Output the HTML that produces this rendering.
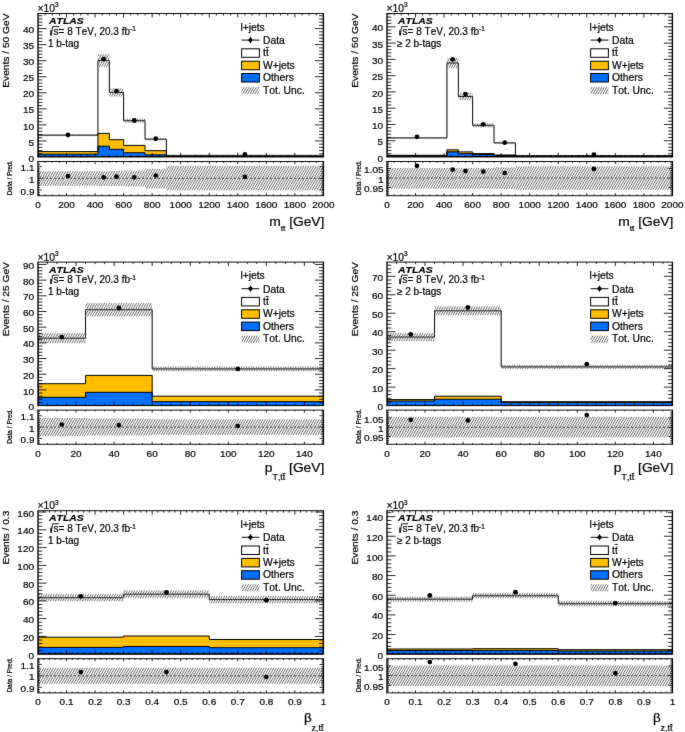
<!DOCTYPE html>
<html><head><meta charset="utf-8"><style>
html,body{margin:0;padding:0;background:#fff;}
svg{display:block;}
text{font-family:"Liberation Sans", sans-serif;fill:#000;stroke:#000;stroke-width:0.22px;font-kerning:none;font-feature-settings:"kern" 0;}
</style></head><body>
<svg width="685" height="732" viewBox="0 0 685 732">
<defs><filter id="soft" x="0" y="0" width="685" height="732" filterUnits="userSpaceOnUse" color-interpolation-filters="sRGB"><feConvolveMatrix order="3" kernelMatrix="0.00524 0.06192 0.00524 0.06192 0.73137 0.06192 0.00524 0.06192 0.00524" edgeMode="none"/></filter>
<pattern id="hatch" patternUnits="userSpaceOnUse" width="2.45" height="4.2" patternTransform="skewX(-30)"><rect x="0" y="0" width="0.95" height="4.2" fill="#666666"/></pattern>
<clipPath id="cm00"><rect x="38" y="13.5" width="285.4" height="143.5"/></clipPath>
<clipPath id="cr00"><rect x="38" y="161.5" width="285.4" height="34.2"/></clipPath>
<clipPath id="cm01"><rect x="387" y="13.5" width="285.4" height="143.5"/></clipPath>
<clipPath id="cr01"><rect x="387" y="161.5" width="285.4" height="34.2"/></clipPath>
<clipPath id="cm10"><rect x="38" y="262.1" width="285.4" height="143.5"/></clipPath>
<clipPath id="cr10"><rect x="38" y="410.1" width="285.4" height="34.2"/></clipPath>
<clipPath id="cm11"><rect x="387" y="262.1" width="285.4" height="143.5"/></clipPath>
<clipPath id="cr11"><rect x="387" y="410.1" width="285.4" height="34.2"/></clipPath>
<clipPath id="cm20"><rect x="38" y="510.7" width="285.4" height="143.5"/></clipPath>
<clipPath id="cr20"><rect x="38" y="658.7" width="285.4" height="34.2"/></clipPath>
<clipPath id="cm21"><rect x="387" y="510.7" width="285.4" height="143.5"/></clipPath>
<clipPath id="cr21"><rect x="387" y="658.7" width="285.4" height="34.2"/></clipPath></defs>
<rect x="0" y="0" width="685" height="732" fill="#fff"/>
<g filter="url(#soft)">
<g clip-path="url(#cm00)">
<path d="M38 157 L38 135.2 L38 135.2 L97.93 135.2 L97.93 60.5 L109.35 60.5 L109.35 92.5 L123.62 92.5 L123.62 120.7 L145.02 120.7 L145.02 139.2 L166.43 139.2 L166.43 155.4 L323.4 155.4 L323.4 157 Z" fill="#fff" stroke="none"/>
<path d="M38 157 L38 151.6 L38 151.6 L97.93 151.6 L97.93 133.4 L109.35 133.4 L109.35 139.7 L123.62 139.7 L123.62 145.4 L145.02 145.4 L145.02 150.7 L166.43 150.7 L166.43 156.2 L323.4 156.2 L323.4 157 Z" fill="#ffbf00" stroke="none"/>
<path d="M38 157 L38 154.2 L38 154.2 L97.93 154.2 L97.93 146.2 L109.35 146.2 L109.35 149.3 L123.62 149.3 L123.62 152.8 L145.02 152.8 L145.02 154.8 L166.43 154.8 L166.43 156.5 L323.4 156.5 L323.4 157 Z" fill="#006eff" stroke="none"/>
<path d="M38 157 L38 135.2 L38 135.2 L97.93 135.2 L97.93 60.5 L109.35 60.5 L109.35 92.5 L123.62 92.5 L123.62 120.7 L145.02 120.7 L145.02 139.2 L166.43 139.2 L166.43 155.4 L323.4 155.4 L323.4 157 Z" fill="none" stroke="#000" stroke-width="1"/>
<path d="M38 157 L38 151.6 L38 151.6 L97.93 151.6 L97.93 133.4 L109.35 133.4 L109.35 139.7 L123.62 139.7 L123.62 145.4 L145.02 145.4 L145.02 150.7 L166.43 150.7 L166.43 156.2 L323.4 156.2 L323.4 157 Z" fill="none" stroke="#000" stroke-width="1"/>
<path d="M38 157 L38 154.2 L38 154.2 L97.93 154.2 L97.93 146.2 L109.35 146.2 L109.35 149.3 L123.62 149.3 L123.62 152.8 L145.02 152.8 L145.02 154.8 L166.43 154.8 L166.43 156.5 L323.4 156.5 L323.4 157 Z" fill="none" stroke="#000" stroke-width="1"/>
<rect x="38" y="134.2" width="59.93" height="2" fill="url(#hatch)" stroke="none" stroke-width="0" />
<rect x="97.93" y="54.2" width="11.42" height="12.6" fill="url(#hatch)" stroke="none" stroke-width="0" />
<rect x="109.35" y="88.4" width="14.27" height="8.2" fill="url(#hatch)" stroke="none" stroke-width="0" />
<rect x="123.62" y="118.7" width="21.4" height="4" fill="url(#hatch)" stroke="none" stroke-width="0" />
<rect x="145.02" y="138" width="21.41" height="2.4" fill="url(#hatch)" stroke="none" stroke-width="0" />
<rect x="166.43" y="154.8" width="156.97" height="1.2" fill="url(#hatch)" stroke="none" stroke-width="0" />
<circle cx="67.97" cy="134.9" r="2.4" fill="#000"/>
<circle cx="103.64" cy="59.1" r="2.4" fill="#000"/>
<circle cx="116.48" cy="91.1" r="2.4" fill="#000"/>
<circle cx="134.32" cy="120.5" r="2.4" fill="#000"/>
<circle cx="155.73" cy="138.7" r="2.4" fill="#000"/>
<circle cx="244.91" cy="154.5" r="2.4" fill="#000"/>
</g>
<g clip-path="url(#cr00)">
<rect x="38" y="171.2" width="59.93" height="14.6" fill="url(#hatch)" stroke="none" stroke-width="0" />
<rect x="97.93" y="171.2" width="11.42" height="14.6" fill="url(#hatch)" stroke="none" stroke-width="0" />
<rect x="109.35" y="171" width="14.27" height="15" fill="url(#hatch)" stroke="none" stroke-width="0" />
<rect x="123.62" y="170.6" width="21.4" height="15.8" fill="url(#hatch)" stroke="none" stroke-width="0" />
<rect x="145.02" y="168.8" width="21.41" height="19.7" fill="url(#hatch)" stroke="none" stroke-width="0" />
<rect x="166.43" y="166" width="156.97" height="24.3" fill="url(#hatch)" stroke="none" stroke-width="0" />
<line x1="38" y1="178.3" x2="323.4" y2="178.3" stroke="#222" stroke-width="0.8" stroke-dasharray="2 2"/>
<circle cx="67.97" cy="176" r="2.35" fill="#000"/>
<circle cx="103.64" cy="177.3" r="2.35" fill="#000"/>
<circle cx="116.48" cy="176.6" r="2.35" fill="#000"/>
<circle cx="134.32" cy="177.3" r="2.35" fill="#000"/>
<circle cx="155.73" cy="175.5" r="2.35" fill="#000"/>
<circle cx="244.91" cy="176.8" r="2.35" fill="#000"/>
</g>
<line x1="37.33" y1="13.5" x2="324.07" y2="13.5" stroke="#000" stroke-width="0.95" />
<line x1="37.33" y1="157" x2="324.07" y2="157" stroke="#000" stroke-width="0.95" />
<line x1="38" y1="13.5" x2="38" y2="157" stroke="#000" stroke-width="1.35" />
<line x1="323.4" y1="13.5" x2="323.4" y2="157" stroke="#000" stroke-width="1.35" />
<line x1="37.33" y1="161.5" x2="324.07" y2="161.5" stroke="#000" stroke-width="0.95" />
<line x1="37.33" y1="195.7" x2="324.07" y2="195.7" stroke="#000" stroke-width="0.95" />
<line x1="38" y1="161.5" x2="38" y2="195.7" stroke="#000" stroke-width="1.35" />
<line x1="323.4" y1="161.5" x2="323.4" y2="195.7" stroke="#000" stroke-width="1.35" />
<line x1="45.13" y1="13.5" x2="45.13" y2="15.5" stroke="#000" stroke-width="0.85" />
<line x1="45.13" y1="157" x2="45.13" y2="155" stroke="#000" stroke-width="0.85" />
<line x1="45.13" y1="161.5" x2="45.13" y2="162.8" stroke="#000" stroke-width="0.85" />
<line x1="45.13" y1="195.7" x2="45.13" y2="194.4" stroke="#000" stroke-width="0.85" />
<line x1="52.27" y1="13.5" x2="52.27" y2="15.5" stroke="#000" stroke-width="0.85" />
<line x1="52.27" y1="157" x2="52.27" y2="155" stroke="#000" stroke-width="0.85" />
<line x1="52.27" y1="161.5" x2="52.27" y2="162.8" stroke="#000" stroke-width="0.85" />
<line x1="52.27" y1="195.7" x2="52.27" y2="194.4" stroke="#000" stroke-width="0.85" />
<line x1="59.41" y1="13.5" x2="59.41" y2="15.5" stroke="#000" stroke-width="0.85" />
<line x1="59.41" y1="157" x2="59.41" y2="155" stroke="#000" stroke-width="0.85" />
<line x1="59.41" y1="161.5" x2="59.41" y2="162.8" stroke="#000" stroke-width="0.85" />
<line x1="59.41" y1="195.7" x2="59.41" y2="194.4" stroke="#000" stroke-width="0.85" />
<line x1="66.54" y1="13.5" x2="66.54" y2="17.5" stroke="#000" stroke-width="0.85" />
<line x1="66.54" y1="157" x2="66.54" y2="153" stroke="#000" stroke-width="0.85" />
<line x1="66.54" y1="161.5" x2="66.54" y2="164.1" stroke="#000" stroke-width="0.85" />
<line x1="66.54" y1="195.7" x2="66.54" y2="193.1" stroke="#000" stroke-width="0.85" />
<line x1="73.67" y1="13.5" x2="73.67" y2="15.5" stroke="#000" stroke-width="0.85" />
<line x1="73.67" y1="157" x2="73.67" y2="155" stroke="#000" stroke-width="0.85" />
<line x1="73.67" y1="161.5" x2="73.67" y2="162.8" stroke="#000" stroke-width="0.85" />
<line x1="73.67" y1="195.7" x2="73.67" y2="194.4" stroke="#000" stroke-width="0.85" />
<line x1="80.81" y1="13.5" x2="80.81" y2="15.5" stroke="#000" stroke-width="0.85" />
<line x1="80.81" y1="157" x2="80.81" y2="155" stroke="#000" stroke-width="0.85" />
<line x1="80.81" y1="161.5" x2="80.81" y2="162.8" stroke="#000" stroke-width="0.85" />
<line x1="80.81" y1="195.7" x2="80.81" y2="194.4" stroke="#000" stroke-width="0.85" />
<line x1="87.94" y1="13.5" x2="87.94" y2="15.5" stroke="#000" stroke-width="0.85" />
<line x1="87.94" y1="157" x2="87.94" y2="155" stroke="#000" stroke-width="0.85" />
<line x1="87.94" y1="161.5" x2="87.94" y2="162.8" stroke="#000" stroke-width="0.85" />
<line x1="87.94" y1="195.7" x2="87.94" y2="194.4" stroke="#000" stroke-width="0.85" />
<line x1="95.08" y1="13.5" x2="95.08" y2="17.5" stroke="#000" stroke-width="0.85" />
<line x1="95.08" y1="157" x2="95.08" y2="153" stroke="#000" stroke-width="0.85" />
<line x1="95.08" y1="161.5" x2="95.08" y2="164.1" stroke="#000" stroke-width="0.85" />
<line x1="95.08" y1="195.7" x2="95.08" y2="193.1" stroke="#000" stroke-width="0.85" />
<line x1="102.22" y1="13.5" x2="102.22" y2="15.5" stroke="#000" stroke-width="0.85" />
<line x1="102.22" y1="157" x2="102.22" y2="155" stroke="#000" stroke-width="0.85" />
<line x1="102.22" y1="161.5" x2="102.22" y2="162.8" stroke="#000" stroke-width="0.85" />
<line x1="102.22" y1="195.7" x2="102.22" y2="194.4" stroke="#000" stroke-width="0.85" />
<line x1="109.35" y1="13.5" x2="109.35" y2="15.5" stroke="#000" stroke-width="0.85" />
<line x1="109.35" y1="157" x2="109.35" y2="155" stroke="#000" stroke-width="0.85" />
<line x1="109.35" y1="161.5" x2="109.35" y2="162.8" stroke="#000" stroke-width="0.85" />
<line x1="109.35" y1="195.7" x2="109.35" y2="194.4" stroke="#000" stroke-width="0.85" />
<line x1="116.48" y1="13.5" x2="116.48" y2="15.5" stroke="#000" stroke-width="0.85" />
<line x1="116.48" y1="157" x2="116.48" y2="155" stroke="#000" stroke-width="0.85" />
<line x1="116.48" y1="161.5" x2="116.48" y2="162.8" stroke="#000" stroke-width="0.85" />
<line x1="116.48" y1="195.7" x2="116.48" y2="194.4" stroke="#000" stroke-width="0.85" />
<line x1="123.62" y1="13.5" x2="123.62" y2="17.5" stroke="#000" stroke-width="0.85" />
<line x1="123.62" y1="157" x2="123.62" y2="153" stroke="#000" stroke-width="0.85" />
<line x1="123.62" y1="161.5" x2="123.62" y2="164.1" stroke="#000" stroke-width="0.85" />
<line x1="123.62" y1="195.7" x2="123.62" y2="193.1" stroke="#000" stroke-width="0.85" />
<line x1="130.75" y1="13.5" x2="130.75" y2="15.5" stroke="#000" stroke-width="0.85" />
<line x1="130.75" y1="157" x2="130.75" y2="155" stroke="#000" stroke-width="0.85" />
<line x1="130.75" y1="161.5" x2="130.75" y2="162.8" stroke="#000" stroke-width="0.85" />
<line x1="130.75" y1="195.7" x2="130.75" y2="194.4" stroke="#000" stroke-width="0.85" />
<line x1="137.89" y1="13.5" x2="137.89" y2="15.5" stroke="#000" stroke-width="0.85" />
<line x1="137.89" y1="157" x2="137.89" y2="155" stroke="#000" stroke-width="0.85" />
<line x1="137.89" y1="161.5" x2="137.89" y2="162.8" stroke="#000" stroke-width="0.85" />
<line x1="137.89" y1="195.7" x2="137.89" y2="194.4" stroke="#000" stroke-width="0.85" />
<line x1="145.02" y1="13.5" x2="145.02" y2="15.5" stroke="#000" stroke-width="0.85" />
<line x1="145.02" y1="157" x2="145.02" y2="155" stroke="#000" stroke-width="0.85" />
<line x1="145.02" y1="161.5" x2="145.02" y2="162.8" stroke="#000" stroke-width="0.85" />
<line x1="145.02" y1="195.7" x2="145.02" y2="194.4" stroke="#000" stroke-width="0.85" />
<line x1="152.16" y1="13.5" x2="152.16" y2="17.5" stroke="#000" stroke-width="0.85" />
<line x1="152.16" y1="157" x2="152.16" y2="153" stroke="#000" stroke-width="0.85" />
<line x1="152.16" y1="161.5" x2="152.16" y2="164.1" stroke="#000" stroke-width="0.85" />
<line x1="152.16" y1="195.7" x2="152.16" y2="193.1" stroke="#000" stroke-width="0.85" />
<line x1="159.29" y1="13.5" x2="159.29" y2="15.5" stroke="#000" stroke-width="0.85" />
<line x1="159.29" y1="157" x2="159.29" y2="155" stroke="#000" stroke-width="0.85" />
<line x1="159.29" y1="161.5" x2="159.29" y2="162.8" stroke="#000" stroke-width="0.85" />
<line x1="159.29" y1="195.7" x2="159.29" y2="194.4" stroke="#000" stroke-width="0.85" />
<line x1="166.43" y1="13.5" x2="166.43" y2="15.5" stroke="#000" stroke-width="0.85" />
<line x1="166.43" y1="157" x2="166.43" y2="155" stroke="#000" stroke-width="0.85" />
<line x1="166.43" y1="161.5" x2="166.43" y2="162.8" stroke="#000" stroke-width="0.85" />
<line x1="166.43" y1="195.7" x2="166.43" y2="194.4" stroke="#000" stroke-width="0.85" />
<line x1="173.56" y1="13.5" x2="173.56" y2="15.5" stroke="#000" stroke-width="0.85" />
<line x1="173.56" y1="157" x2="173.56" y2="155" stroke="#000" stroke-width="0.85" />
<line x1="173.56" y1="161.5" x2="173.56" y2="162.8" stroke="#000" stroke-width="0.85" />
<line x1="173.56" y1="195.7" x2="173.56" y2="194.4" stroke="#000" stroke-width="0.85" />
<line x1="180.7" y1="13.5" x2="180.7" y2="17.5" stroke="#000" stroke-width="0.85" />
<line x1="180.7" y1="157" x2="180.7" y2="153" stroke="#000" stroke-width="0.85" />
<line x1="180.7" y1="161.5" x2="180.7" y2="164.1" stroke="#000" stroke-width="0.85" />
<line x1="180.7" y1="195.7" x2="180.7" y2="193.1" stroke="#000" stroke-width="0.85" />
<line x1="187.84" y1="13.5" x2="187.84" y2="15.5" stroke="#000" stroke-width="0.85" />
<line x1="187.84" y1="157" x2="187.84" y2="155" stroke="#000" stroke-width="0.85" />
<line x1="187.84" y1="161.5" x2="187.84" y2="162.8" stroke="#000" stroke-width="0.85" />
<line x1="187.84" y1="195.7" x2="187.84" y2="194.4" stroke="#000" stroke-width="0.85" />
<line x1="194.97" y1="13.5" x2="194.97" y2="15.5" stroke="#000" stroke-width="0.85" />
<line x1="194.97" y1="157" x2="194.97" y2="155" stroke="#000" stroke-width="0.85" />
<line x1="194.97" y1="161.5" x2="194.97" y2="162.8" stroke="#000" stroke-width="0.85" />
<line x1="194.97" y1="195.7" x2="194.97" y2="194.4" stroke="#000" stroke-width="0.85" />
<line x1="202.1" y1="13.5" x2="202.1" y2="15.5" stroke="#000" stroke-width="0.85" />
<line x1="202.1" y1="157" x2="202.1" y2="155" stroke="#000" stroke-width="0.85" />
<line x1="202.1" y1="161.5" x2="202.1" y2="162.8" stroke="#000" stroke-width="0.85" />
<line x1="202.1" y1="195.7" x2="202.1" y2="194.4" stroke="#000" stroke-width="0.85" />
<line x1="209.24" y1="13.5" x2="209.24" y2="17.5" stroke="#000" stroke-width="0.85" />
<line x1="209.24" y1="157" x2="209.24" y2="153" stroke="#000" stroke-width="0.85" />
<line x1="209.24" y1="161.5" x2="209.24" y2="164.1" stroke="#000" stroke-width="0.85" />
<line x1="209.24" y1="195.7" x2="209.24" y2="193.1" stroke="#000" stroke-width="0.85" />
<line x1="216.38" y1="13.5" x2="216.38" y2="15.5" stroke="#000" stroke-width="0.85" />
<line x1="216.38" y1="157" x2="216.38" y2="155" stroke="#000" stroke-width="0.85" />
<line x1="216.38" y1="161.5" x2="216.38" y2="162.8" stroke="#000" stroke-width="0.85" />
<line x1="216.38" y1="195.7" x2="216.38" y2="194.4" stroke="#000" stroke-width="0.85" />
<line x1="223.51" y1="13.5" x2="223.51" y2="15.5" stroke="#000" stroke-width="0.85" />
<line x1="223.51" y1="157" x2="223.51" y2="155" stroke="#000" stroke-width="0.85" />
<line x1="223.51" y1="161.5" x2="223.51" y2="162.8" stroke="#000" stroke-width="0.85" />
<line x1="223.51" y1="195.7" x2="223.51" y2="194.4" stroke="#000" stroke-width="0.85" />
<line x1="230.65" y1="13.5" x2="230.65" y2="15.5" stroke="#000" stroke-width="0.85" />
<line x1="230.65" y1="157" x2="230.65" y2="155" stroke="#000" stroke-width="0.85" />
<line x1="230.65" y1="161.5" x2="230.65" y2="162.8" stroke="#000" stroke-width="0.85" />
<line x1="230.65" y1="195.7" x2="230.65" y2="194.4" stroke="#000" stroke-width="0.85" />
<line x1="237.78" y1="13.5" x2="237.78" y2="17.5" stroke="#000" stroke-width="0.85" />
<line x1="237.78" y1="157" x2="237.78" y2="153" stroke="#000" stroke-width="0.85" />
<line x1="237.78" y1="161.5" x2="237.78" y2="164.1" stroke="#000" stroke-width="0.85" />
<line x1="237.78" y1="195.7" x2="237.78" y2="193.1" stroke="#000" stroke-width="0.85" />
<line x1="244.91" y1="13.5" x2="244.91" y2="15.5" stroke="#000" stroke-width="0.85" />
<line x1="244.91" y1="157" x2="244.91" y2="155" stroke="#000" stroke-width="0.85" />
<line x1="244.91" y1="161.5" x2="244.91" y2="162.8" stroke="#000" stroke-width="0.85" />
<line x1="244.91" y1="195.7" x2="244.91" y2="194.4" stroke="#000" stroke-width="0.85" />
<line x1="252.05" y1="13.5" x2="252.05" y2="15.5" stroke="#000" stroke-width="0.85" />
<line x1="252.05" y1="157" x2="252.05" y2="155" stroke="#000" stroke-width="0.85" />
<line x1="252.05" y1="161.5" x2="252.05" y2="162.8" stroke="#000" stroke-width="0.85" />
<line x1="252.05" y1="195.7" x2="252.05" y2="194.4" stroke="#000" stroke-width="0.85" />
<line x1="259.19" y1="13.5" x2="259.19" y2="15.5" stroke="#000" stroke-width="0.85" />
<line x1="259.19" y1="157" x2="259.19" y2="155" stroke="#000" stroke-width="0.85" />
<line x1="259.19" y1="161.5" x2="259.19" y2="162.8" stroke="#000" stroke-width="0.85" />
<line x1="259.19" y1="195.7" x2="259.19" y2="194.4" stroke="#000" stroke-width="0.85" />
<line x1="266.32" y1="13.5" x2="266.32" y2="17.5" stroke="#000" stroke-width="0.85" />
<line x1="266.32" y1="157" x2="266.32" y2="153" stroke="#000" stroke-width="0.85" />
<line x1="266.32" y1="161.5" x2="266.32" y2="164.1" stroke="#000" stroke-width="0.85" />
<line x1="266.32" y1="195.7" x2="266.32" y2="193.1" stroke="#000" stroke-width="0.85" />
<line x1="273.45" y1="13.5" x2="273.45" y2="15.5" stroke="#000" stroke-width="0.85" />
<line x1="273.45" y1="157" x2="273.45" y2="155" stroke="#000" stroke-width="0.85" />
<line x1="273.45" y1="161.5" x2="273.45" y2="162.8" stroke="#000" stroke-width="0.85" />
<line x1="273.45" y1="195.7" x2="273.45" y2="194.4" stroke="#000" stroke-width="0.85" />
<line x1="280.59" y1="13.5" x2="280.59" y2="15.5" stroke="#000" stroke-width="0.85" />
<line x1="280.59" y1="157" x2="280.59" y2="155" stroke="#000" stroke-width="0.85" />
<line x1="280.59" y1="161.5" x2="280.59" y2="162.8" stroke="#000" stroke-width="0.85" />
<line x1="280.59" y1="195.7" x2="280.59" y2="194.4" stroke="#000" stroke-width="0.85" />
<line x1="287.72" y1="13.5" x2="287.72" y2="15.5" stroke="#000" stroke-width="0.85" />
<line x1="287.72" y1="157" x2="287.72" y2="155" stroke="#000" stroke-width="0.85" />
<line x1="287.72" y1="161.5" x2="287.72" y2="162.8" stroke="#000" stroke-width="0.85" />
<line x1="287.72" y1="195.7" x2="287.72" y2="194.4" stroke="#000" stroke-width="0.85" />
<line x1="294.86" y1="13.5" x2="294.86" y2="17.5" stroke="#000" stroke-width="0.85" />
<line x1="294.86" y1="157" x2="294.86" y2="153" stroke="#000" stroke-width="0.85" />
<line x1="294.86" y1="161.5" x2="294.86" y2="164.1" stroke="#000" stroke-width="0.85" />
<line x1="294.86" y1="195.7" x2="294.86" y2="193.1" stroke="#000" stroke-width="0.85" />
<line x1="302" y1="13.5" x2="302" y2="15.5" stroke="#000" stroke-width="0.85" />
<line x1="302" y1="157" x2="302" y2="155" stroke="#000" stroke-width="0.85" />
<line x1="302" y1="161.5" x2="302" y2="162.8" stroke="#000" stroke-width="0.85" />
<line x1="302" y1="195.7" x2="302" y2="194.4" stroke="#000" stroke-width="0.85" />
<line x1="309.13" y1="13.5" x2="309.13" y2="15.5" stroke="#000" stroke-width="0.85" />
<line x1="309.13" y1="157" x2="309.13" y2="155" stroke="#000" stroke-width="0.85" />
<line x1="309.13" y1="161.5" x2="309.13" y2="162.8" stroke="#000" stroke-width="0.85" />
<line x1="309.13" y1="195.7" x2="309.13" y2="194.4" stroke="#000" stroke-width="0.85" />
<line x1="316.26" y1="13.5" x2="316.26" y2="15.5" stroke="#000" stroke-width="0.85" />
<line x1="316.26" y1="157" x2="316.26" y2="155" stroke="#000" stroke-width="0.85" />
<line x1="316.26" y1="161.5" x2="316.26" y2="162.8" stroke="#000" stroke-width="0.85" />
<line x1="316.26" y1="195.7" x2="316.26" y2="194.4" stroke="#000" stroke-width="0.85" />
<text transform="translate(38 208.1) scale(1 0.94)" font-size="10" text-anchor="middle" >0</text>
<text transform="translate(66.54 208.1) scale(1 0.94)" font-size="10" text-anchor="middle" >200</text>
<text transform="translate(95.08 208.1) scale(1 0.94)" font-size="10" text-anchor="middle" >400</text>
<text transform="translate(123.62 208.1) scale(1 0.94)" font-size="10" text-anchor="middle" >600</text>
<text transform="translate(152.16 208.1) scale(1 0.94)" font-size="10" text-anchor="middle" >800</text>
<text transform="translate(180.7 208.1) scale(1 0.94)" font-size="10" text-anchor="middle" >1000</text>
<text transform="translate(209.24 208.1) scale(1 0.94)" font-size="10" text-anchor="middle" >1200</text>
<text transform="translate(237.78 208.1) scale(1 0.94)" font-size="10" text-anchor="middle" >1400</text>
<text transform="translate(266.32 208.1) scale(1 0.94)" font-size="10" text-anchor="middle" >1600</text>
<text transform="translate(294.86 208.1) scale(1 0.94)" font-size="10" text-anchor="middle" >1800</text>
<text transform="translate(323.4 208.1) scale(1 0.94)" font-size="10" text-anchor="middle" >2000</text>
<line x1="38" y1="153.79" x2="42.3" y2="153.79" stroke="#000" stroke-width="0.85" />
<line x1="323.4" y1="153.79" x2="319.1" y2="153.79" stroke="#000" stroke-width="0.85" />
<line x1="38" y1="150.58" x2="42.3" y2="150.58" stroke="#000" stroke-width="0.85" />
<line x1="323.4" y1="150.58" x2="319.1" y2="150.58" stroke="#000" stroke-width="0.85" />
<line x1="38" y1="147.37" x2="42.3" y2="147.37" stroke="#000" stroke-width="0.85" />
<line x1="323.4" y1="147.37" x2="319.1" y2="147.37" stroke="#000" stroke-width="0.85" />
<line x1="38" y1="144.16" x2="42.3" y2="144.16" stroke="#000" stroke-width="0.85" />
<line x1="323.4" y1="144.16" x2="319.1" y2="144.16" stroke="#000" stroke-width="0.85" />
<line x1="38" y1="140.95" x2="46.5" y2="140.95" stroke="#000" stroke-width="0.85" />
<line x1="323.4" y1="140.95" x2="314.9" y2="140.95" stroke="#000" stroke-width="0.85" />
<line x1="38" y1="137.74" x2="42.3" y2="137.74" stroke="#000" stroke-width="0.85" />
<line x1="323.4" y1="137.74" x2="319.1" y2="137.74" stroke="#000" stroke-width="0.85" />
<line x1="38" y1="134.53" x2="42.3" y2="134.53" stroke="#000" stroke-width="0.85" />
<line x1="323.4" y1="134.53" x2="319.1" y2="134.53" stroke="#000" stroke-width="0.85" />
<line x1="38" y1="131.32" x2="42.3" y2="131.32" stroke="#000" stroke-width="0.85" />
<line x1="323.4" y1="131.32" x2="319.1" y2="131.32" stroke="#000" stroke-width="0.85" />
<line x1="38" y1="128.11" x2="42.3" y2="128.11" stroke="#000" stroke-width="0.85" />
<line x1="323.4" y1="128.11" x2="319.1" y2="128.11" stroke="#000" stroke-width="0.85" />
<line x1="38" y1="124.9" x2="46.5" y2="124.9" stroke="#000" stroke-width="0.85" />
<line x1="323.4" y1="124.9" x2="314.9" y2="124.9" stroke="#000" stroke-width="0.85" />
<line x1="38" y1="121.69" x2="42.3" y2="121.69" stroke="#000" stroke-width="0.85" />
<line x1="323.4" y1="121.69" x2="319.1" y2="121.69" stroke="#000" stroke-width="0.85" />
<line x1="38" y1="118.48" x2="42.3" y2="118.48" stroke="#000" stroke-width="0.85" />
<line x1="323.4" y1="118.48" x2="319.1" y2="118.48" stroke="#000" stroke-width="0.85" />
<line x1="38" y1="115.27" x2="42.3" y2="115.27" stroke="#000" stroke-width="0.85" />
<line x1="323.4" y1="115.27" x2="319.1" y2="115.27" stroke="#000" stroke-width="0.85" />
<line x1="38" y1="112.06" x2="42.3" y2="112.06" stroke="#000" stroke-width="0.85" />
<line x1="323.4" y1="112.06" x2="319.1" y2="112.06" stroke="#000" stroke-width="0.85" />
<line x1="38" y1="108.85" x2="46.5" y2="108.85" stroke="#000" stroke-width="0.85" />
<line x1="323.4" y1="108.85" x2="314.9" y2="108.85" stroke="#000" stroke-width="0.85" />
<line x1="38" y1="105.64" x2="42.3" y2="105.64" stroke="#000" stroke-width="0.85" />
<line x1="323.4" y1="105.64" x2="319.1" y2="105.64" stroke="#000" stroke-width="0.85" />
<line x1="38" y1="102.43" x2="42.3" y2="102.43" stroke="#000" stroke-width="0.85" />
<line x1="323.4" y1="102.43" x2="319.1" y2="102.43" stroke="#000" stroke-width="0.85" />
<line x1="38" y1="99.21" x2="42.3" y2="99.21" stroke="#000" stroke-width="0.85" />
<line x1="323.4" y1="99.21" x2="319.1" y2="99.21" stroke="#000" stroke-width="0.85" />
<line x1="38" y1="96" x2="42.3" y2="96" stroke="#000" stroke-width="0.85" />
<line x1="323.4" y1="96" x2="319.1" y2="96" stroke="#000" stroke-width="0.85" />
<line x1="38" y1="92.79" x2="46.5" y2="92.79" stroke="#000" stroke-width="0.85" />
<line x1="323.4" y1="92.79" x2="314.9" y2="92.79" stroke="#000" stroke-width="0.85" />
<line x1="38" y1="89.58" x2="42.3" y2="89.58" stroke="#000" stroke-width="0.85" />
<line x1="323.4" y1="89.58" x2="319.1" y2="89.58" stroke="#000" stroke-width="0.85" />
<line x1="38" y1="86.37" x2="42.3" y2="86.37" stroke="#000" stroke-width="0.85" />
<line x1="323.4" y1="86.37" x2="319.1" y2="86.37" stroke="#000" stroke-width="0.85" />
<line x1="38" y1="83.16" x2="42.3" y2="83.16" stroke="#000" stroke-width="0.85" />
<line x1="323.4" y1="83.16" x2="319.1" y2="83.16" stroke="#000" stroke-width="0.85" />
<line x1="38" y1="79.95" x2="42.3" y2="79.95" stroke="#000" stroke-width="0.85" />
<line x1="323.4" y1="79.95" x2="319.1" y2="79.95" stroke="#000" stroke-width="0.85" />
<line x1="38" y1="76.74" x2="46.5" y2="76.74" stroke="#000" stroke-width="0.85" />
<line x1="323.4" y1="76.74" x2="314.9" y2="76.74" stroke="#000" stroke-width="0.85" />
<line x1="38" y1="73.53" x2="42.3" y2="73.53" stroke="#000" stroke-width="0.85" />
<line x1="323.4" y1="73.53" x2="319.1" y2="73.53" stroke="#000" stroke-width="0.85" />
<line x1="38" y1="70.32" x2="42.3" y2="70.32" stroke="#000" stroke-width="0.85" />
<line x1="323.4" y1="70.32" x2="319.1" y2="70.32" stroke="#000" stroke-width="0.85" />
<line x1="38" y1="67.11" x2="42.3" y2="67.11" stroke="#000" stroke-width="0.85" />
<line x1="323.4" y1="67.11" x2="319.1" y2="67.11" stroke="#000" stroke-width="0.85" />
<line x1="38" y1="63.9" x2="42.3" y2="63.9" stroke="#000" stroke-width="0.85" />
<line x1="323.4" y1="63.9" x2="319.1" y2="63.9" stroke="#000" stroke-width="0.85" />
<line x1="38" y1="60.69" x2="46.5" y2="60.69" stroke="#000" stroke-width="0.85" />
<line x1="323.4" y1="60.69" x2="314.9" y2="60.69" stroke="#000" stroke-width="0.85" />
<line x1="38" y1="57.48" x2="42.3" y2="57.48" stroke="#000" stroke-width="0.85" />
<line x1="323.4" y1="57.48" x2="319.1" y2="57.48" stroke="#000" stroke-width="0.85" />
<line x1="38" y1="54.27" x2="42.3" y2="54.27" stroke="#000" stroke-width="0.85" />
<line x1="323.4" y1="54.27" x2="319.1" y2="54.27" stroke="#000" stroke-width="0.85" />
<line x1="38" y1="51.06" x2="42.3" y2="51.06" stroke="#000" stroke-width="0.85" />
<line x1="323.4" y1="51.06" x2="319.1" y2="51.06" stroke="#000" stroke-width="0.85" />
<line x1="38" y1="47.85" x2="42.3" y2="47.85" stroke="#000" stroke-width="0.85" />
<line x1="323.4" y1="47.85" x2="319.1" y2="47.85" stroke="#000" stroke-width="0.85" />
<line x1="38" y1="44.64" x2="46.5" y2="44.64" stroke="#000" stroke-width="0.85" />
<line x1="323.4" y1="44.64" x2="314.9" y2="44.64" stroke="#000" stroke-width="0.85" />
<line x1="38" y1="41.43" x2="42.3" y2="41.43" stroke="#000" stroke-width="0.85" />
<line x1="323.4" y1="41.43" x2="319.1" y2="41.43" stroke="#000" stroke-width="0.85" />
<line x1="38" y1="38.22" x2="42.3" y2="38.22" stroke="#000" stroke-width="0.85" />
<line x1="323.4" y1="38.22" x2="319.1" y2="38.22" stroke="#000" stroke-width="0.85" />
<line x1="38" y1="35.01" x2="42.3" y2="35.01" stroke="#000" stroke-width="0.85" />
<line x1="323.4" y1="35.01" x2="319.1" y2="35.01" stroke="#000" stroke-width="0.85" />
<line x1="38" y1="31.8" x2="42.3" y2="31.8" stroke="#000" stroke-width="0.85" />
<line x1="323.4" y1="31.8" x2="319.1" y2="31.8" stroke="#000" stroke-width="0.85" />
<line x1="38" y1="28.59" x2="46.5" y2="28.59" stroke="#000" stroke-width="0.85" />
<line x1="323.4" y1="28.59" x2="314.9" y2="28.59" stroke="#000" stroke-width="0.85" />
<line x1="38" y1="25.38" x2="42.3" y2="25.38" stroke="#000" stroke-width="0.85" />
<line x1="323.4" y1="25.38" x2="319.1" y2="25.38" stroke="#000" stroke-width="0.85" />
<line x1="38" y1="22.17" x2="42.3" y2="22.17" stroke="#000" stroke-width="0.85" />
<line x1="323.4" y1="22.17" x2="319.1" y2="22.17" stroke="#000" stroke-width="0.85" />
<line x1="38" y1="18.96" x2="42.3" y2="18.96" stroke="#000" stroke-width="0.85" />
<line x1="323.4" y1="18.96" x2="319.1" y2="18.96" stroke="#000" stroke-width="0.85" />
<line x1="38" y1="15.75" x2="42.3" y2="15.75" stroke="#000" stroke-width="0.85" />
<line x1="323.4" y1="15.75" x2="319.1" y2="15.75" stroke="#000" stroke-width="0.85" />
<text transform="translate(34 161.6) scale(1 0.94)" font-size="10" text-anchor="end" >0</text>
<text transform="translate(34 145.55) scale(1 0.94)" font-size="10" text-anchor="end" >5</text>
<text transform="translate(34 129.5) scale(1 0.94)" font-size="10" text-anchor="end" >10</text>
<text transform="translate(34 113.45) scale(1 0.94)" font-size="10" text-anchor="end" >15</text>
<text transform="translate(34 97.39) scale(1 0.94)" font-size="10" text-anchor="end" >20</text>
<text transform="translate(34 81.34) scale(1 0.94)" font-size="10" text-anchor="end" >25</text>
<text transform="translate(34 65.29) scale(1 0.94)" font-size="10" text-anchor="end" >30</text>
<text transform="translate(34 49.24) scale(1 0.94)" font-size="10" text-anchor="end" >35</text>
<text transform="translate(34 33.19) scale(1 0.94)" font-size="10" text-anchor="end" >40</text>
<text transform="translate(37.5 12) scale(1 1)" font-size="10.3" text-anchor="start" >&#215;10</text>
<text transform="translate(55 7.3) scale(1 1)" font-size="6.4" text-anchor="start" >3</text>
<line x1="38" y1="194.61" x2="40" y2="194.61" stroke="#000" stroke-width="0.85" />
<line x1="323.4" y1="194.61" x2="321.4" y2="194.61" stroke="#000" stroke-width="0.85" />
<line x1="38" y1="192.28" x2="40" y2="192.28" stroke="#000" stroke-width="0.85" />
<line x1="323.4" y1="192.28" x2="321.4" y2="192.28" stroke="#000" stroke-width="0.85" />
<line x1="38" y1="189.95" x2="41.8" y2="189.95" stroke="#000" stroke-width="0.85" />
<line x1="323.4" y1="189.95" x2="319.6" y2="189.95" stroke="#000" stroke-width="0.85" />
<line x1="38" y1="187.62" x2="40" y2="187.62" stroke="#000" stroke-width="0.85" />
<line x1="323.4" y1="187.62" x2="321.4" y2="187.62" stroke="#000" stroke-width="0.85" />
<line x1="38" y1="185.29" x2="40" y2="185.29" stroke="#000" stroke-width="0.85" />
<line x1="323.4" y1="185.29" x2="321.4" y2="185.29" stroke="#000" stroke-width="0.85" />
<line x1="38" y1="182.96" x2="40" y2="182.96" stroke="#000" stroke-width="0.85" />
<line x1="323.4" y1="182.96" x2="321.4" y2="182.96" stroke="#000" stroke-width="0.85" />
<line x1="38" y1="180.63" x2="40" y2="180.63" stroke="#000" stroke-width="0.85" />
<line x1="323.4" y1="180.63" x2="321.4" y2="180.63" stroke="#000" stroke-width="0.85" />
<line x1="38" y1="178.3" x2="41.8" y2="178.3" stroke="#000" stroke-width="0.85" />
<line x1="323.4" y1="178.3" x2="319.6" y2="178.3" stroke="#000" stroke-width="0.85" />
<line x1="38" y1="175.97" x2="40" y2="175.97" stroke="#000" stroke-width="0.85" />
<line x1="323.4" y1="175.97" x2="321.4" y2="175.97" stroke="#000" stroke-width="0.85" />
<line x1="38" y1="173.64" x2="40" y2="173.64" stroke="#000" stroke-width="0.85" />
<line x1="323.4" y1="173.64" x2="321.4" y2="173.64" stroke="#000" stroke-width="0.85" />
<line x1="38" y1="171.31" x2="40" y2="171.31" stroke="#000" stroke-width="0.85" />
<line x1="323.4" y1="171.31" x2="321.4" y2="171.31" stroke="#000" stroke-width="0.85" />
<line x1="38" y1="168.98" x2="40" y2="168.98" stroke="#000" stroke-width="0.85" />
<line x1="323.4" y1="168.98" x2="321.4" y2="168.98" stroke="#000" stroke-width="0.85" />
<line x1="38" y1="166.65" x2="41.8" y2="166.65" stroke="#000" stroke-width="0.85" />
<line x1="323.4" y1="166.65" x2="319.6" y2="166.65" stroke="#000" stroke-width="0.85" />
<line x1="38" y1="164.32" x2="40" y2="164.32" stroke="#000" stroke-width="0.85" />
<line x1="323.4" y1="164.32" x2="321.4" y2="164.32" stroke="#000" stroke-width="0.85" />
<text transform="translate(34.5 171.25) scale(1 0.94)" font-size="10" text-anchor="end" >1.1</text>
<text transform="translate(34.5 182.9) scale(1 0.94)" font-size="10" text-anchor="end" >1</text>
<text transform="translate(34.5 194.55) scale(1 0.94)" font-size="10" text-anchor="end" >0.9</text>
<text transform="translate(9.3 13.5) rotate(-90) scale(1 0.96)" font-size="10.2" text-anchor="end">Events / 50 GeV</text>
<text transform="translate(12 177.8) rotate(-90)" font-size="6.5" text-anchor="middle">Data / Pred.</text>
<text transform="translate(49.1 24) scale(1 0.9)" font-size="10.4" text-anchor="start" font-weight="bold" font-style="italic">ATLAS</text>
<path d="M50.9 30.3 L50.9 35.5" stroke="#000" stroke-width="1.3" fill="none"/>
<path d="M51.3 35.3 L52.6 26.6 L59 26.6" stroke="#000" stroke-width="0.9" fill="none"/>
<text transform="translate(53.6 34.8) scale(1 1)" font-size="10" text-anchor="start" >s= 8 TeV, <tspan dx="0">20.3 fb</tspan><tspan font-size="6.5" dy="-3.5">-1</tspan></text>
<text transform="translate(47.9 46.8) scale(1 1)" font-size="10" text-anchor="start" >1 b-tag</text>
<text transform="translate(240.4 30.8) scale(1 1)" font-size="10.3" text-anchor="start" >l+jets</text>
<line x1="241.6" y1="40.1" x2="259.4" y2="40.1" stroke="#000" stroke-width="1" />
<circle cx="250.5" cy="40.1" r="2.1" fill="#000"/>
<line x1="250.5" y1="37.1" x2="250.5" y2="43.1" stroke="#000" stroke-width="1" />
<text transform="translate(263 43.9) scale(1 1)" font-size="10.3" text-anchor="start" >Data</text>
<rect x="241.6" y="48.8" width="17.8" height="8.5" fill="#fff" stroke="#000" stroke-width="1" />
<text transform="translate(263 56.4) scale(1 1)" font-size="10.3" text-anchor="start" >t<tspan>t&#772;</tspan></text>
<rect x="241.6" y="61.2" width="17.8" height="8.5" fill="#ffbf00" stroke="#000" stroke-width="1" />
<text transform="translate(263 68.8) scale(1 1)" font-size="10.3" text-anchor="start" >W+jets</text>
<rect x="241.6" y="73.5" width="17.8" height="8.5" fill="#006eff" stroke="#000" stroke-width="1" />
<text transform="translate(263 81.1) scale(1 1)" font-size="10.3" text-anchor="start" >Others</text>
<rect x="241.6" y="87.1" width="17.8" height="7" fill="url(#hatch)" stroke="none" stroke-width="0" />
<text transform="translate(263 93.6) scale(1 1)" font-size="10.3" text-anchor="start" >Tot. Unc.</text>
<text transform="translate(324.4 226.1) scale(1 0.96)" font-size="13.8" text-anchor="end">m<tspan font-size="8.2" dy="5.6">tt&#772;</tspan><tspan dy="-5.6"> [GeV]</tspan></text>
<g clip-path="url(#cm01)">
<path d="M387 157 L387 137.9 L387 137.9 L446.93 137.9 L446.93 63 L458.35 63 L458.35 96.5 L472.62 96.5 L472.62 125.4 L494.02 125.4 L494.02 142.9 L515.43 142.9 L515.43 155.5 L672.4 155.5 L672.4 157 Z" fill="#fff" stroke="none"/>
<path d="M387 157 L387 155.3 L387 155.3 L446.93 155.3 L446.93 149.8 L458.35 149.8 L458.35 151.9 L472.62 151.9 L472.62 153.6 L494.02 153.6 L494.02 155 L515.43 155 L515.43 156.3 L672.4 156.3 L672.4 157 Z" fill="#ffbf00" stroke="none"/>
<path d="M387 157 L387 155.8 L387 155.8 L446.93 155.8 L446.93 151.8 L458.35 151.8 L458.35 153.7 L472.62 153.7 L472.62 154.6 L494.02 154.6 L494.02 155.5 L515.43 155.5 L515.43 156.6 L672.4 156.6 L672.4 157 Z" fill="#006eff" stroke="none"/>
<path d="M387 157 L387 137.9 L387 137.9 L446.93 137.9 L446.93 63 L458.35 63 L458.35 96.5 L472.62 96.5 L472.62 125.4 L494.02 125.4 L494.02 142.9 L515.43 142.9 L515.43 155.5 L672.4 155.5 L672.4 157 Z" fill="none" stroke="#000" stroke-width="1"/>
<path d="M387 157 L387 155.3 L387 155.3 L446.93 155.3 L446.93 149.8 L458.35 149.8 L458.35 151.9 L472.62 151.9 L472.62 153.6 L494.02 153.6 L494.02 155 L515.43 155 L515.43 156.3 L672.4 156.3 L672.4 157 Z" fill="none" stroke="#000" stroke-width="1"/>
<path d="M387 157 L387 155.8 L387 155.8 L446.93 155.8 L446.93 151.8 L458.35 151.8 L458.35 153.7 L472.62 153.7 L472.62 154.6 L494.02 154.6 L494.02 155.5 L515.43 155.5 L515.43 156.6 L672.4 156.6 L672.4 157 Z" fill="none" stroke="#000" stroke-width="1"/>
<rect x="387" y="137" width="59.93" height="1.8" fill="url(#hatch)" stroke="none" stroke-width="0" />
<rect x="446.93" y="58" width="11.42" height="10" fill="url(#hatch)" stroke="none" stroke-width="0" />
<rect x="458.35" y="93" width="14.27" height="7" fill="url(#hatch)" stroke="none" stroke-width="0" />
<rect x="472.62" y="123.4" width="21.4" height="4" fill="url(#hatch)" stroke="none" stroke-width="0" />
<rect x="494.02" y="141.7" width="21.41" height="2.4" fill="url(#hatch)" stroke="none" stroke-width="0" />
<rect x="515.43" y="154.9" width="156.97" height="1.2" fill="url(#hatch)" stroke="none" stroke-width="0" />
<circle cx="416.97" cy="136.8" r="2.4" fill="#000"/>
<circle cx="452.64" cy="59.3" r="2.4" fill="#000"/>
<circle cx="465.49" cy="94.1" r="2.4" fill="#000"/>
<circle cx="483.32" cy="124.3" r="2.4" fill="#000"/>
<circle cx="504.73" cy="142.7" r="2.4" fill="#000"/>
<circle cx="593.91" cy="154.7" r="2.4" fill="#000"/>
</g>
<g clip-path="url(#cr01)">
<rect x="387" y="167.9" width="59.93" height="20.8" fill="url(#hatch)" stroke="none" stroke-width="0" />
<rect x="446.93" y="167.9" width="11.42" height="20.8" fill="url(#hatch)" stroke="none" stroke-width="0" />
<rect x="458.35" y="167.9" width="14.27" height="20.8" fill="url(#hatch)" stroke="none" stroke-width="0" />
<rect x="472.62" y="167.9" width="21.4" height="20.8" fill="url(#hatch)" stroke="none" stroke-width="0" />
<rect x="494.02" y="167.3" width="21.41" height="21.7" fill="url(#hatch)" stroke="none" stroke-width="0" />
<rect x="515.43" y="166.3" width="156.97" height="23.5" fill="url(#hatch)" stroke="none" stroke-width="0" />
<line x1="387" y1="178" x2="672.4" y2="178" stroke="#222" stroke-width="0.8" stroke-dasharray="2 2"/>
<circle cx="416.97" cy="165.8" r="2.35" fill="#000"/>
<circle cx="452.64" cy="169.6" r="2.35" fill="#000"/>
<circle cx="465.49" cy="171.1" r="2.35" fill="#000"/>
<circle cx="483.32" cy="171.6" r="2.35" fill="#000"/>
<circle cx="504.73" cy="173" r="2.35" fill="#000"/>
<circle cx="593.91" cy="168.9" r="2.35" fill="#000"/>
</g>
<line x1="386.32" y1="13.5" x2="673.07" y2="13.5" stroke="#000" stroke-width="0.95" />
<line x1="386.32" y1="157" x2="673.07" y2="157" stroke="#000" stroke-width="0.95" />
<line x1="387" y1="13.5" x2="387" y2="157" stroke="#000" stroke-width="1.35" />
<line x1="672.4" y1="13.5" x2="672.4" y2="157" stroke="#000" stroke-width="1.35" />
<line x1="386.32" y1="161.5" x2="673.07" y2="161.5" stroke="#000" stroke-width="0.95" />
<line x1="386.32" y1="195.7" x2="673.07" y2="195.7" stroke="#000" stroke-width="0.95" />
<line x1="387" y1="161.5" x2="387" y2="195.7" stroke="#000" stroke-width="1.35" />
<line x1="672.4" y1="161.5" x2="672.4" y2="195.7" stroke="#000" stroke-width="1.35" />
<line x1="394.13" y1="13.5" x2="394.13" y2="15.5" stroke="#000" stroke-width="0.85" />
<line x1="394.13" y1="157" x2="394.13" y2="155" stroke="#000" stroke-width="0.85" />
<line x1="394.13" y1="161.5" x2="394.13" y2="162.8" stroke="#000" stroke-width="0.85" />
<line x1="394.13" y1="195.7" x2="394.13" y2="194.4" stroke="#000" stroke-width="0.85" />
<line x1="401.27" y1="13.5" x2="401.27" y2="15.5" stroke="#000" stroke-width="0.85" />
<line x1="401.27" y1="157" x2="401.27" y2="155" stroke="#000" stroke-width="0.85" />
<line x1="401.27" y1="161.5" x2="401.27" y2="162.8" stroke="#000" stroke-width="0.85" />
<line x1="401.27" y1="195.7" x2="401.27" y2="194.4" stroke="#000" stroke-width="0.85" />
<line x1="408.4" y1="13.5" x2="408.4" y2="15.5" stroke="#000" stroke-width="0.85" />
<line x1="408.4" y1="157" x2="408.4" y2="155" stroke="#000" stroke-width="0.85" />
<line x1="408.4" y1="161.5" x2="408.4" y2="162.8" stroke="#000" stroke-width="0.85" />
<line x1="408.4" y1="195.7" x2="408.4" y2="194.4" stroke="#000" stroke-width="0.85" />
<line x1="415.54" y1="13.5" x2="415.54" y2="17.5" stroke="#000" stroke-width="0.85" />
<line x1="415.54" y1="157" x2="415.54" y2="153" stroke="#000" stroke-width="0.85" />
<line x1="415.54" y1="161.5" x2="415.54" y2="164.1" stroke="#000" stroke-width="0.85" />
<line x1="415.54" y1="195.7" x2="415.54" y2="193.1" stroke="#000" stroke-width="0.85" />
<line x1="422.68" y1="13.5" x2="422.68" y2="15.5" stroke="#000" stroke-width="0.85" />
<line x1="422.68" y1="157" x2="422.68" y2="155" stroke="#000" stroke-width="0.85" />
<line x1="422.68" y1="161.5" x2="422.68" y2="162.8" stroke="#000" stroke-width="0.85" />
<line x1="422.68" y1="195.7" x2="422.68" y2="194.4" stroke="#000" stroke-width="0.85" />
<line x1="429.81" y1="13.5" x2="429.81" y2="15.5" stroke="#000" stroke-width="0.85" />
<line x1="429.81" y1="157" x2="429.81" y2="155" stroke="#000" stroke-width="0.85" />
<line x1="429.81" y1="161.5" x2="429.81" y2="162.8" stroke="#000" stroke-width="0.85" />
<line x1="429.81" y1="195.7" x2="429.81" y2="194.4" stroke="#000" stroke-width="0.85" />
<line x1="436.94" y1="13.5" x2="436.94" y2="15.5" stroke="#000" stroke-width="0.85" />
<line x1="436.94" y1="157" x2="436.94" y2="155" stroke="#000" stroke-width="0.85" />
<line x1="436.94" y1="161.5" x2="436.94" y2="162.8" stroke="#000" stroke-width="0.85" />
<line x1="436.94" y1="195.7" x2="436.94" y2="194.4" stroke="#000" stroke-width="0.85" />
<line x1="444.08" y1="13.5" x2="444.08" y2="17.5" stroke="#000" stroke-width="0.85" />
<line x1="444.08" y1="157" x2="444.08" y2="153" stroke="#000" stroke-width="0.85" />
<line x1="444.08" y1="161.5" x2="444.08" y2="164.1" stroke="#000" stroke-width="0.85" />
<line x1="444.08" y1="195.7" x2="444.08" y2="193.1" stroke="#000" stroke-width="0.85" />
<line x1="451.22" y1="13.5" x2="451.22" y2="15.5" stroke="#000" stroke-width="0.85" />
<line x1="451.22" y1="157" x2="451.22" y2="155" stroke="#000" stroke-width="0.85" />
<line x1="451.22" y1="161.5" x2="451.22" y2="162.8" stroke="#000" stroke-width="0.85" />
<line x1="451.22" y1="195.7" x2="451.22" y2="194.4" stroke="#000" stroke-width="0.85" />
<line x1="458.35" y1="13.5" x2="458.35" y2="15.5" stroke="#000" stroke-width="0.85" />
<line x1="458.35" y1="157" x2="458.35" y2="155" stroke="#000" stroke-width="0.85" />
<line x1="458.35" y1="161.5" x2="458.35" y2="162.8" stroke="#000" stroke-width="0.85" />
<line x1="458.35" y1="195.7" x2="458.35" y2="194.4" stroke="#000" stroke-width="0.85" />
<line x1="465.49" y1="13.5" x2="465.49" y2="15.5" stroke="#000" stroke-width="0.85" />
<line x1="465.49" y1="157" x2="465.49" y2="155" stroke="#000" stroke-width="0.85" />
<line x1="465.49" y1="161.5" x2="465.49" y2="162.8" stroke="#000" stroke-width="0.85" />
<line x1="465.49" y1="195.7" x2="465.49" y2="194.4" stroke="#000" stroke-width="0.85" />
<line x1="472.62" y1="13.5" x2="472.62" y2="17.5" stroke="#000" stroke-width="0.85" />
<line x1="472.62" y1="157" x2="472.62" y2="153" stroke="#000" stroke-width="0.85" />
<line x1="472.62" y1="161.5" x2="472.62" y2="164.1" stroke="#000" stroke-width="0.85" />
<line x1="472.62" y1="195.7" x2="472.62" y2="193.1" stroke="#000" stroke-width="0.85" />
<line x1="479.75" y1="13.5" x2="479.75" y2="15.5" stroke="#000" stroke-width="0.85" />
<line x1="479.75" y1="157" x2="479.75" y2="155" stroke="#000" stroke-width="0.85" />
<line x1="479.75" y1="161.5" x2="479.75" y2="162.8" stroke="#000" stroke-width="0.85" />
<line x1="479.75" y1="195.7" x2="479.75" y2="194.4" stroke="#000" stroke-width="0.85" />
<line x1="486.89" y1="13.5" x2="486.89" y2="15.5" stroke="#000" stroke-width="0.85" />
<line x1="486.89" y1="157" x2="486.89" y2="155" stroke="#000" stroke-width="0.85" />
<line x1="486.89" y1="161.5" x2="486.89" y2="162.8" stroke="#000" stroke-width="0.85" />
<line x1="486.89" y1="195.7" x2="486.89" y2="194.4" stroke="#000" stroke-width="0.85" />
<line x1="494.02" y1="13.5" x2="494.02" y2="15.5" stroke="#000" stroke-width="0.85" />
<line x1="494.02" y1="157" x2="494.02" y2="155" stroke="#000" stroke-width="0.85" />
<line x1="494.02" y1="161.5" x2="494.02" y2="162.8" stroke="#000" stroke-width="0.85" />
<line x1="494.02" y1="195.7" x2="494.02" y2="194.4" stroke="#000" stroke-width="0.85" />
<line x1="501.16" y1="13.5" x2="501.16" y2="17.5" stroke="#000" stroke-width="0.85" />
<line x1="501.16" y1="157" x2="501.16" y2="153" stroke="#000" stroke-width="0.85" />
<line x1="501.16" y1="161.5" x2="501.16" y2="164.1" stroke="#000" stroke-width="0.85" />
<line x1="501.16" y1="195.7" x2="501.16" y2="193.1" stroke="#000" stroke-width="0.85" />
<line x1="508.29" y1="13.5" x2="508.29" y2="15.5" stroke="#000" stroke-width="0.85" />
<line x1="508.29" y1="157" x2="508.29" y2="155" stroke="#000" stroke-width="0.85" />
<line x1="508.29" y1="161.5" x2="508.29" y2="162.8" stroke="#000" stroke-width="0.85" />
<line x1="508.29" y1="195.7" x2="508.29" y2="194.4" stroke="#000" stroke-width="0.85" />
<line x1="515.43" y1="13.5" x2="515.43" y2="15.5" stroke="#000" stroke-width="0.85" />
<line x1="515.43" y1="157" x2="515.43" y2="155" stroke="#000" stroke-width="0.85" />
<line x1="515.43" y1="161.5" x2="515.43" y2="162.8" stroke="#000" stroke-width="0.85" />
<line x1="515.43" y1="195.7" x2="515.43" y2="194.4" stroke="#000" stroke-width="0.85" />
<line x1="522.56" y1="13.5" x2="522.56" y2="15.5" stroke="#000" stroke-width="0.85" />
<line x1="522.56" y1="157" x2="522.56" y2="155" stroke="#000" stroke-width="0.85" />
<line x1="522.56" y1="161.5" x2="522.56" y2="162.8" stroke="#000" stroke-width="0.85" />
<line x1="522.56" y1="195.7" x2="522.56" y2="194.4" stroke="#000" stroke-width="0.85" />
<line x1="529.7" y1="13.5" x2="529.7" y2="17.5" stroke="#000" stroke-width="0.85" />
<line x1="529.7" y1="157" x2="529.7" y2="153" stroke="#000" stroke-width="0.85" />
<line x1="529.7" y1="161.5" x2="529.7" y2="164.1" stroke="#000" stroke-width="0.85" />
<line x1="529.7" y1="195.7" x2="529.7" y2="193.1" stroke="#000" stroke-width="0.85" />
<line x1="536.84" y1="13.5" x2="536.84" y2="15.5" stroke="#000" stroke-width="0.85" />
<line x1="536.84" y1="157" x2="536.84" y2="155" stroke="#000" stroke-width="0.85" />
<line x1="536.84" y1="161.5" x2="536.84" y2="162.8" stroke="#000" stroke-width="0.85" />
<line x1="536.84" y1="195.7" x2="536.84" y2="194.4" stroke="#000" stroke-width="0.85" />
<line x1="543.97" y1="13.5" x2="543.97" y2="15.5" stroke="#000" stroke-width="0.85" />
<line x1="543.97" y1="157" x2="543.97" y2="155" stroke="#000" stroke-width="0.85" />
<line x1="543.97" y1="161.5" x2="543.97" y2="162.8" stroke="#000" stroke-width="0.85" />
<line x1="543.97" y1="195.7" x2="543.97" y2="194.4" stroke="#000" stroke-width="0.85" />
<line x1="551.11" y1="13.5" x2="551.11" y2="15.5" stroke="#000" stroke-width="0.85" />
<line x1="551.11" y1="157" x2="551.11" y2="155" stroke="#000" stroke-width="0.85" />
<line x1="551.11" y1="161.5" x2="551.11" y2="162.8" stroke="#000" stroke-width="0.85" />
<line x1="551.11" y1="195.7" x2="551.11" y2="194.4" stroke="#000" stroke-width="0.85" />
<line x1="558.24" y1="13.5" x2="558.24" y2="17.5" stroke="#000" stroke-width="0.85" />
<line x1="558.24" y1="157" x2="558.24" y2="153" stroke="#000" stroke-width="0.85" />
<line x1="558.24" y1="161.5" x2="558.24" y2="164.1" stroke="#000" stroke-width="0.85" />
<line x1="558.24" y1="195.7" x2="558.24" y2="193.1" stroke="#000" stroke-width="0.85" />
<line x1="565.38" y1="13.5" x2="565.38" y2="15.5" stroke="#000" stroke-width="0.85" />
<line x1="565.38" y1="157" x2="565.38" y2="155" stroke="#000" stroke-width="0.85" />
<line x1="565.38" y1="161.5" x2="565.38" y2="162.8" stroke="#000" stroke-width="0.85" />
<line x1="565.38" y1="195.7" x2="565.38" y2="194.4" stroke="#000" stroke-width="0.85" />
<line x1="572.51" y1="13.5" x2="572.51" y2="15.5" stroke="#000" stroke-width="0.85" />
<line x1="572.51" y1="157" x2="572.51" y2="155" stroke="#000" stroke-width="0.85" />
<line x1="572.51" y1="161.5" x2="572.51" y2="162.8" stroke="#000" stroke-width="0.85" />
<line x1="572.51" y1="195.7" x2="572.51" y2="194.4" stroke="#000" stroke-width="0.85" />
<line x1="579.64" y1="13.5" x2="579.64" y2="15.5" stroke="#000" stroke-width="0.85" />
<line x1="579.64" y1="157" x2="579.64" y2="155" stroke="#000" stroke-width="0.85" />
<line x1="579.64" y1="161.5" x2="579.64" y2="162.8" stroke="#000" stroke-width="0.85" />
<line x1="579.64" y1="195.7" x2="579.64" y2="194.4" stroke="#000" stroke-width="0.85" />
<line x1="586.78" y1="13.5" x2="586.78" y2="17.5" stroke="#000" stroke-width="0.85" />
<line x1="586.78" y1="157" x2="586.78" y2="153" stroke="#000" stroke-width="0.85" />
<line x1="586.78" y1="161.5" x2="586.78" y2="164.1" stroke="#000" stroke-width="0.85" />
<line x1="586.78" y1="195.7" x2="586.78" y2="193.1" stroke="#000" stroke-width="0.85" />
<line x1="593.91" y1="13.5" x2="593.91" y2="15.5" stroke="#000" stroke-width="0.85" />
<line x1="593.91" y1="157" x2="593.91" y2="155" stroke="#000" stroke-width="0.85" />
<line x1="593.91" y1="161.5" x2="593.91" y2="162.8" stroke="#000" stroke-width="0.85" />
<line x1="593.91" y1="195.7" x2="593.91" y2="194.4" stroke="#000" stroke-width="0.85" />
<line x1="601.05" y1="13.5" x2="601.05" y2="15.5" stroke="#000" stroke-width="0.85" />
<line x1="601.05" y1="157" x2="601.05" y2="155" stroke="#000" stroke-width="0.85" />
<line x1="601.05" y1="161.5" x2="601.05" y2="162.8" stroke="#000" stroke-width="0.85" />
<line x1="601.05" y1="195.7" x2="601.05" y2="194.4" stroke="#000" stroke-width="0.85" />
<line x1="608.18" y1="13.5" x2="608.18" y2="15.5" stroke="#000" stroke-width="0.85" />
<line x1="608.18" y1="157" x2="608.18" y2="155" stroke="#000" stroke-width="0.85" />
<line x1="608.18" y1="161.5" x2="608.18" y2="162.8" stroke="#000" stroke-width="0.85" />
<line x1="608.18" y1="195.7" x2="608.18" y2="194.4" stroke="#000" stroke-width="0.85" />
<line x1="615.32" y1="13.5" x2="615.32" y2="17.5" stroke="#000" stroke-width="0.85" />
<line x1="615.32" y1="157" x2="615.32" y2="153" stroke="#000" stroke-width="0.85" />
<line x1="615.32" y1="161.5" x2="615.32" y2="164.1" stroke="#000" stroke-width="0.85" />
<line x1="615.32" y1="195.7" x2="615.32" y2="193.1" stroke="#000" stroke-width="0.85" />
<line x1="622.45" y1="13.5" x2="622.45" y2="15.5" stroke="#000" stroke-width="0.85" />
<line x1="622.45" y1="157" x2="622.45" y2="155" stroke="#000" stroke-width="0.85" />
<line x1="622.45" y1="161.5" x2="622.45" y2="162.8" stroke="#000" stroke-width="0.85" />
<line x1="622.45" y1="195.7" x2="622.45" y2="194.4" stroke="#000" stroke-width="0.85" />
<line x1="629.59" y1="13.5" x2="629.59" y2="15.5" stroke="#000" stroke-width="0.85" />
<line x1="629.59" y1="157" x2="629.59" y2="155" stroke="#000" stroke-width="0.85" />
<line x1="629.59" y1="161.5" x2="629.59" y2="162.8" stroke="#000" stroke-width="0.85" />
<line x1="629.59" y1="195.7" x2="629.59" y2="194.4" stroke="#000" stroke-width="0.85" />
<line x1="636.72" y1="13.5" x2="636.72" y2="15.5" stroke="#000" stroke-width="0.85" />
<line x1="636.72" y1="157" x2="636.72" y2="155" stroke="#000" stroke-width="0.85" />
<line x1="636.72" y1="161.5" x2="636.72" y2="162.8" stroke="#000" stroke-width="0.85" />
<line x1="636.72" y1="195.7" x2="636.72" y2="194.4" stroke="#000" stroke-width="0.85" />
<line x1="643.86" y1="13.5" x2="643.86" y2="17.5" stroke="#000" stroke-width="0.85" />
<line x1="643.86" y1="157" x2="643.86" y2="153" stroke="#000" stroke-width="0.85" />
<line x1="643.86" y1="161.5" x2="643.86" y2="164.1" stroke="#000" stroke-width="0.85" />
<line x1="643.86" y1="195.7" x2="643.86" y2="193.1" stroke="#000" stroke-width="0.85" />
<line x1="651" y1="13.5" x2="651" y2="15.5" stroke="#000" stroke-width="0.85" />
<line x1="651" y1="157" x2="651" y2="155" stroke="#000" stroke-width="0.85" />
<line x1="651" y1="161.5" x2="651" y2="162.8" stroke="#000" stroke-width="0.85" />
<line x1="651" y1="195.7" x2="651" y2="194.4" stroke="#000" stroke-width="0.85" />
<line x1="658.13" y1="13.5" x2="658.13" y2="15.5" stroke="#000" stroke-width="0.85" />
<line x1="658.13" y1="157" x2="658.13" y2="155" stroke="#000" stroke-width="0.85" />
<line x1="658.13" y1="161.5" x2="658.13" y2="162.8" stroke="#000" stroke-width="0.85" />
<line x1="658.13" y1="195.7" x2="658.13" y2="194.4" stroke="#000" stroke-width="0.85" />
<line x1="665.26" y1="13.5" x2="665.26" y2="15.5" stroke="#000" stroke-width="0.85" />
<line x1="665.26" y1="157" x2="665.26" y2="155" stroke="#000" stroke-width="0.85" />
<line x1="665.26" y1="161.5" x2="665.26" y2="162.8" stroke="#000" stroke-width="0.85" />
<line x1="665.26" y1="195.7" x2="665.26" y2="194.4" stroke="#000" stroke-width="0.85" />
<text transform="translate(387 208.1) scale(1 0.94)" font-size="10" text-anchor="middle" >0</text>
<text transform="translate(415.54 208.1) scale(1 0.94)" font-size="10" text-anchor="middle" >200</text>
<text transform="translate(444.08 208.1) scale(1 0.94)" font-size="10" text-anchor="middle" >400</text>
<text transform="translate(472.62 208.1) scale(1 0.94)" font-size="10" text-anchor="middle" >600</text>
<text transform="translate(501.16 208.1) scale(1 0.94)" font-size="10" text-anchor="middle" >800</text>
<text transform="translate(529.7 208.1) scale(1 0.94)" font-size="10" text-anchor="middle" >1000</text>
<text transform="translate(558.24 208.1) scale(1 0.94)" font-size="10" text-anchor="middle" >1200</text>
<text transform="translate(586.78 208.1) scale(1 0.94)" font-size="10" text-anchor="middle" >1400</text>
<text transform="translate(615.32 208.1) scale(1 0.94)" font-size="10" text-anchor="middle" >1600</text>
<text transform="translate(643.86 208.1) scale(1 0.94)" font-size="10" text-anchor="middle" >1800</text>
<text transform="translate(672.4 208.1) scale(1 0.94)" font-size="10" text-anchor="middle" >2000</text>
<line x1="387" y1="153.75" x2="391.3" y2="153.75" stroke="#000" stroke-width="0.85" />
<line x1="672.4" y1="153.75" x2="668.1" y2="153.75" stroke="#000" stroke-width="0.85" />
<line x1="387" y1="150.49" x2="391.3" y2="150.49" stroke="#000" stroke-width="0.85" />
<line x1="672.4" y1="150.49" x2="668.1" y2="150.49" stroke="#000" stroke-width="0.85" />
<line x1="387" y1="147.24" x2="391.3" y2="147.24" stroke="#000" stroke-width="0.85" />
<line x1="672.4" y1="147.24" x2="668.1" y2="147.24" stroke="#000" stroke-width="0.85" />
<line x1="387" y1="143.98" x2="391.3" y2="143.98" stroke="#000" stroke-width="0.85" />
<line x1="672.4" y1="143.98" x2="668.1" y2="143.98" stroke="#000" stroke-width="0.85" />
<line x1="387" y1="140.73" x2="395.5" y2="140.73" stroke="#000" stroke-width="0.85" />
<line x1="672.4" y1="140.73" x2="663.9" y2="140.73" stroke="#000" stroke-width="0.85" />
<line x1="387" y1="137.48" x2="391.3" y2="137.48" stroke="#000" stroke-width="0.85" />
<line x1="672.4" y1="137.48" x2="668.1" y2="137.48" stroke="#000" stroke-width="0.85" />
<line x1="387" y1="134.22" x2="391.3" y2="134.22" stroke="#000" stroke-width="0.85" />
<line x1="672.4" y1="134.22" x2="668.1" y2="134.22" stroke="#000" stroke-width="0.85" />
<line x1="387" y1="130.97" x2="391.3" y2="130.97" stroke="#000" stroke-width="0.85" />
<line x1="672.4" y1="130.97" x2="668.1" y2="130.97" stroke="#000" stroke-width="0.85" />
<line x1="387" y1="127.71" x2="391.3" y2="127.71" stroke="#000" stroke-width="0.85" />
<line x1="672.4" y1="127.71" x2="668.1" y2="127.71" stroke="#000" stroke-width="0.85" />
<line x1="387" y1="124.46" x2="395.5" y2="124.46" stroke="#000" stroke-width="0.85" />
<line x1="672.4" y1="124.46" x2="663.9" y2="124.46" stroke="#000" stroke-width="0.85" />
<line x1="387" y1="121.21" x2="391.3" y2="121.21" stroke="#000" stroke-width="0.85" />
<line x1="672.4" y1="121.21" x2="668.1" y2="121.21" stroke="#000" stroke-width="0.85" />
<line x1="387" y1="117.95" x2="391.3" y2="117.95" stroke="#000" stroke-width="0.85" />
<line x1="672.4" y1="117.95" x2="668.1" y2="117.95" stroke="#000" stroke-width="0.85" />
<line x1="387" y1="114.7" x2="391.3" y2="114.7" stroke="#000" stroke-width="0.85" />
<line x1="672.4" y1="114.7" x2="668.1" y2="114.7" stroke="#000" stroke-width="0.85" />
<line x1="387" y1="111.44" x2="391.3" y2="111.44" stroke="#000" stroke-width="0.85" />
<line x1="672.4" y1="111.44" x2="668.1" y2="111.44" stroke="#000" stroke-width="0.85" />
<line x1="387" y1="108.19" x2="395.5" y2="108.19" stroke="#000" stroke-width="0.85" />
<line x1="672.4" y1="108.19" x2="663.9" y2="108.19" stroke="#000" stroke-width="0.85" />
<line x1="387" y1="104.94" x2="391.3" y2="104.94" stroke="#000" stroke-width="0.85" />
<line x1="672.4" y1="104.94" x2="668.1" y2="104.94" stroke="#000" stroke-width="0.85" />
<line x1="387" y1="101.68" x2="391.3" y2="101.68" stroke="#000" stroke-width="0.85" />
<line x1="672.4" y1="101.68" x2="668.1" y2="101.68" stroke="#000" stroke-width="0.85" />
<line x1="387" y1="98.43" x2="391.3" y2="98.43" stroke="#000" stroke-width="0.85" />
<line x1="672.4" y1="98.43" x2="668.1" y2="98.43" stroke="#000" stroke-width="0.85" />
<line x1="387" y1="95.17" x2="391.3" y2="95.17" stroke="#000" stroke-width="0.85" />
<line x1="672.4" y1="95.17" x2="668.1" y2="95.17" stroke="#000" stroke-width="0.85" />
<line x1="387" y1="91.92" x2="395.5" y2="91.92" stroke="#000" stroke-width="0.85" />
<line x1="672.4" y1="91.92" x2="663.9" y2="91.92" stroke="#000" stroke-width="0.85" />
<line x1="387" y1="88.67" x2="391.3" y2="88.67" stroke="#000" stroke-width="0.85" />
<line x1="672.4" y1="88.67" x2="668.1" y2="88.67" stroke="#000" stroke-width="0.85" />
<line x1="387" y1="85.41" x2="391.3" y2="85.41" stroke="#000" stroke-width="0.85" />
<line x1="672.4" y1="85.41" x2="668.1" y2="85.41" stroke="#000" stroke-width="0.85" />
<line x1="387" y1="82.16" x2="391.3" y2="82.16" stroke="#000" stroke-width="0.85" />
<line x1="672.4" y1="82.16" x2="668.1" y2="82.16" stroke="#000" stroke-width="0.85" />
<line x1="387" y1="78.9" x2="391.3" y2="78.9" stroke="#000" stroke-width="0.85" />
<line x1="672.4" y1="78.9" x2="668.1" y2="78.9" stroke="#000" stroke-width="0.85" />
<line x1="387" y1="75.65" x2="395.5" y2="75.65" stroke="#000" stroke-width="0.85" />
<line x1="672.4" y1="75.65" x2="663.9" y2="75.65" stroke="#000" stroke-width="0.85" />
<line x1="387" y1="72.4" x2="391.3" y2="72.4" stroke="#000" stroke-width="0.85" />
<line x1="672.4" y1="72.4" x2="668.1" y2="72.4" stroke="#000" stroke-width="0.85" />
<line x1="387" y1="69.14" x2="391.3" y2="69.14" stroke="#000" stroke-width="0.85" />
<line x1="672.4" y1="69.14" x2="668.1" y2="69.14" stroke="#000" stroke-width="0.85" />
<line x1="387" y1="65.89" x2="391.3" y2="65.89" stroke="#000" stroke-width="0.85" />
<line x1="672.4" y1="65.89" x2="668.1" y2="65.89" stroke="#000" stroke-width="0.85" />
<line x1="387" y1="62.63" x2="391.3" y2="62.63" stroke="#000" stroke-width="0.85" />
<line x1="672.4" y1="62.63" x2="668.1" y2="62.63" stroke="#000" stroke-width="0.85" />
<line x1="387" y1="59.38" x2="395.5" y2="59.38" stroke="#000" stroke-width="0.85" />
<line x1="672.4" y1="59.38" x2="663.9" y2="59.38" stroke="#000" stroke-width="0.85" />
<line x1="387" y1="56.13" x2="391.3" y2="56.13" stroke="#000" stroke-width="0.85" />
<line x1="672.4" y1="56.13" x2="668.1" y2="56.13" stroke="#000" stroke-width="0.85" />
<line x1="387" y1="52.87" x2="391.3" y2="52.87" stroke="#000" stroke-width="0.85" />
<line x1="672.4" y1="52.87" x2="668.1" y2="52.87" stroke="#000" stroke-width="0.85" />
<line x1="387" y1="49.62" x2="391.3" y2="49.62" stroke="#000" stroke-width="0.85" />
<line x1="672.4" y1="49.62" x2="668.1" y2="49.62" stroke="#000" stroke-width="0.85" />
<line x1="387" y1="46.37" x2="391.3" y2="46.37" stroke="#000" stroke-width="0.85" />
<line x1="672.4" y1="46.37" x2="668.1" y2="46.37" stroke="#000" stroke-width="0.85" />
<line x1="387" y1="43.11" x2="395.5" y2="43.11" stroke="#000" stroke-width="0.85" />
<line x1="672.4" y1="43.11" x2="663.9" y2="43.11" stroke="#000" stroke-width="0.85" />
<line x1="387" y1="39.86" x2="391.3" y2="39.86" stroke="#000" stroke-width="0.85" />
<line x1="672.4" y1="39.86" x2="668.1" y2="39.86" stroke="#000" stroke-width="0.85" />
<line x1="387" y1="36.6" x2="391.3" y2="36.6" stroke="#000" stroke-width="0.85" />
<line x1="672.4" y1="36.6" x2="668.1" y2="36.6" stroke="#000" stroke-width="0.85" />
<line x1="387" y1="33.35" x2="391.3" y2="33.35" stroke="#000" stroke-width="0.85" />
<line x1="672.4" y1="33.35" x2="668.1" y2="33.35" stroke="#000" stroke-width="0.85" />
<line x1="387" y1="30.1" x2="391.3" y2="30.1" stroke="#000" stroke-width="0.85" />
<line x1="672.4" y1="30.1" x2="668.1" y2="30.1" stroke="#000" stroke-width="0.85" />
<line x1="387" y1="26.84" x2="395.5" y2="26.84" stroke="#000" stroke-width="0.85" />
<line x1="672.4" y1="26.84" x2="663.9" y2="26.84" stroke="#000" stroke-width="0.85" />
<line x1="387" y1="23.59" x2="391.3" y2="23.59" stroke="#000" stroke-width="0.85" />
<line x1="672.4" y1="23.59" x2="668.1" y2="23.59" stroke="#000" stroke-width="0.85" />
<line x1="387" y1="20.33" x2="391.3" y2="20.33" stroke="#000" stroke-width="0.85" />
<line x1="672.4" y1="20.33" x2="668.1" y2="20.33" stroke="#000" stroke-width="0.85" />
<line x1="387" y1="17.08" x2="391.3" y2="17.08" stroke="#000" stroke-width="0.85" />
<line x1="672.4" y1="17.08" x2="668.1" y2="17.08" stroke="#000" stroke-width="0.85" />
<line x1="387" y1="13.83" x2="391.3" y2="13.83" stroke="#000" stroke-width="0.85" />
<line x1="672.4" y1="13.83" x2="668.1" y2="13.83" stroke="#000" stroke-width="0.85" />
<text transform="translate(383 161.6) scale(1 0.94)" font-size="10" text-anchor="end" >0</text>
<text transform="translate(383 145.33) scale(1 0.94)" font-size="10" text-anchor="end" >5</text>
<text transform="translate(383 129.06) scale(1 0.94)" font-size="10" text-anchor="end" >10</text>
<text transform="translate(383 112.79) scale(1 0.94)" font-size="10" text-anchor="end" >15</text>
<text transform="translate(383 96.52) scale(1 0.94)" font-size="10" text-anchor="end" >20</text>
<text transform="translate(383 80.25) scale(1 0.94)" font-size="10" text-anchor="end" >25</text>
<text transform="translate(383 63.98) scale(1 0.94)" font-size="10" text-anchor="end" >30</text>
<text transform="translate(383 47.71) scale(1 0.94)" font-size="10" text-anchor="end" >35</text>
<text transform="translate(383 31.44) scale(1 0.94)" font-size="10" text-anchor="end" >40</text>
<text transform="translate(386.5 12) scale(1 1)" font-size="10.3" text-anchor="start" >&#215;10</text>
<text transform="translate(404 7.3) scale(1 1)" font-size="6.4" text-anchor="start" >3</text>
<line x1="387" y1="195.1" x2="389" y2="195.1" stroke="#000" stroke-width="0.85" />
<line x1="672.4" y1="195.1" x2="670.4" y2="195.1" stroke="#000" stroke-width="0.85" />
<line x1="387" y1="193.2" x2="389" y2="193.2" stroke="#000" stroke-width="0.85" />
<line x1="672.4" y1="193.2" x2="670.4" y2="193.2" stroke="#000" stroke-width="0.85" />
<line x1="387" y1="191.3" x2="389" y2="191.3" stroke="#000" stroke-width="0.85" />
<line x1="672.4" y1="191.3" x2="670.4" y2="191.3" stroke="#000" stroke-width="0.85" />
<line x1="387" y1="189.4" x2="389" y2="189.4" stroke="#000" stroke-width="0.85" />
<line x1="672.4" y1="189.4" x2="670.4" y2="189.4" stroke="#000" stroke-width="0.85" />
<line x1="387" y1="187.5" x2="390.8" y2="187.5" stroke="#000" stroke-width="0.85" />
<line x1="672.4" y1="187.5" x2="668.6" y2="187.5" stroke="#000" stroke-width="0.85" />
<line x1="387" y1="185.6" x2="389" y2="185.6" stroke="#000" stroke-width="0.85" />
<line x1="672.4" y1="185.6" x2="670.4" y2="185.6" stroke="#000" stroke-width="0.85" />
<line x1="387" y1="183.7" x2="389" y2="183.7" stroke="#000" stroke-width="0.85" />
<line x1="672.4" y1="183.7" x2="670.4" y2="183.7" stroke="#000" stroke-width="0.85" />
<line x1="387" y1="181.8" x2="389" y2="181.8" stroke="#000" stroke-width="0.85" />
<line x1="672.4" y1="181.8" x2="670.4" y2="181.8" stroke="#000" stroke-width="0.85" />
<line x1="387" y1="179.9" x2="389" y2="179.9" stroke="#000" stroke-width="0.85" />
<line x1="672.4" y1="179.9" x2="670.4" y2="179.9" stroke="#000" stroke-width="0.85" />
<line x1="387" y1="178" x2="390.8" y2="178" stroke="#000" stroke-width="0.85" />
<line x1="672.4" y1="178" x2="668.6" y2="178" stroke="#000" stroke-width="0.85" />
<line x1="387" y1="176.1" x2="389" y2="176.1" stroke="#000" stroke-width="0.85" />
<line x1="672.4" y1="176.1" x2="670.4" y2="176.1" stroke="#000" stroke-width="0.85" />
<line x1="387" y1="174.2" x2="389" y2="174.2" stroke="#000" stroke-width="0.85" />
<line x1="672.4" y1="174.2" x2="670.4" y2="174.2" stroke="#000" stroke-width="0.85" />
<line x1="387" y1="172.3" x2="389" y2="172.3" stroke="#000" stroke-width="0.85" />
<line x1="672.4" y1="172.3" x2="670.4" y2="172.3" stroke="#000" stroke-width="0.85" />
<line x1="387" y1="170.4" x2="389" y2="170.4" stroke="#000" stroke-width="0.85" />
<line x1="672.4" y1="170.4" x2="670.4" y2="170.4" stroke="#000" stroke-width="0.85" />
<line x1="387" y1="168.5" x2="390.8" y2="168.5" stroke="#000" stroke-width="0.85" />
<line x1="672.4" y1="168.5" x2="668.6" y2="168.5" stroke="#000" stroke-width="0.85" />
<line x1="387" y1="166.6" x2="389" y2="166.6" stroke="#000" stroke-width="0.85" />
<line x1="672.4" y1="166.6" x2="670.4" y2="166.6" stroke="#000" stroke-width="0.85" />
<line x1="387" y1="164.7" x2="389" y2="164.7" stroke="#000" stroke-width="0.85" />
<line x1="672.4" y1="164.7" x2="670.4" y2="164.7" stroke="#000" stroke-width="0.85" />
<line x1="387" y1="162.8" x2="389" y2="162.8" stroke="#000" stroke-width="0.85" />
<line x1="672.4" y1="162.8" x2="670.4" y2="162.8" stroke="#000" stroke-width="0.85" />
<text transform="translate(383.5 173.1) scale(1 0.94)" font-size="10" text-anchor="end" >1.05</text>
<text transform="translate(383.5 182.6) scale(1 0.94)" font-size="10" text-anchor="end" >1</text>
<text transform="translate(383.5 192.1) scale(1 0.94)" font-size="10" text-anchor="end" >0.95</text>
<text transform="translate(358.3 13.5) rotate(-90) scale(1 0.96)" font-size="10.2" text-anchor="end">Events / 50 GeV</text>
<text transform="translate(361 177.8) rotate(-90)" font-size="6.5" text-anchor="middle">Data / Pred.</text>
<text transform="translate(398.1 24) scale(1 0.9)" font-size="10.4" text-anchor="start" font-weight="bold" font-style="italic">ATLAS</text>
<path d="M399.9 30.3 L399.9 35.5" stroke="#000" stroke-width="1.3" fill="none"/>
<path d="M400.3 35.3 L401.6 26.6 L408 26.6" stroke="#000" stroke-width="0.9" fill="none"/>
<text transform="translate(402.6 34.8) scale(1 1)" font-size="10" text-anchor="start" >s= 8 TeV, <tspan dx="0">20.3 fb</tspan><tspan font-size="6.5" dy="-3.5">-1</tspan></text>
<text transform="translate(396.9 46.8) scale(1 1)" font-size="10" text-anchor="start" >&#8805; 2 b-tags</text>
<text transform="translate(589.4 30.8) scale(1 1)" font-size="10.3" text-anchor="start" >l+jets</text>
<line x1="590.6" y1="40.1" x2="608.4" y2="40.1" stroke="#000" stroke-width="1" />
<circle cx="599.5" cy="40.1" r="2.1" fill="#000"/>
<line x1="599.5" y1="37.1" x2="599.5" y2="43.1" stroke="#000" stroke-width="1" />
<text transform="translate(612 43.9) scale(1 1)" font-size="10.3" text-anchor="start" >Data</text>
<rect x="590.6" y="48.8" width="17.8" height="8.5" fill="#fff" stroke="#000" stroke-width="1" />
<text transform="translate(612 56.4) scale(1 1)" font-size="10.3" text-anchor="start" >t<tspan>t&#772;</tspan></text>
<rect x="590.6" y="61.2" width="17.8" height="8.5" fill="#ffbf00" stroke="#000" stroke-width="1" />
<text transform="translate(612 68.8) scale(1 1)" font-size="10.3" text-anchor="start" >W+jets</text>
<rect x="590.6" y="73.5" width="17.8" height="8.5" fill="#006eff" stroke="#000" stroke-width="1" />
<text transform="translate(612 81.1) scale(1 1)" font-size="10.3" text-anchor="start" >Others</text>
<rect x="590.6" y="87.1" width="17.8" height="7" fill="url(#hatch)" stroke="none" stroke-width="0" />
<text transform="translate(612 93.6) scale(1 1)" font-size="10.3" text-anchor="start" >Tot. Unc.</text>
<text transform="translate(673.4 226.1) scale(1 0.96)" font-size="13.8" text-anchor="end">m<tspan font-size="8.2" dy="5.6">tt&#772;</tspan><tspan dy="-5.6"> [GeV]</tspan></text>
<g clip-path="url(#cm10)">
<path d="M38 405.6 L38 338.2 L38 338.2 L85.57 338.2 L85.57 309.7 L152.16 309.7 L152.16 368.9 L323.4 368.9 L323.4 405.6 Z" fill="#fff" stroke="none"/>
<path d="M38 405.6 L38 383.7 L38 383.7 L85.57 383.7 L85.57 375.4 L152.16 375.4 L152.16 396.2 L323.4 396.2 L323.4 405.6 Z" fill="#ffbf00" stroke="none"/>
<path d="M38 405.6 L38 397.3 L38 397.3 L85.57 397.3 L85.57 392.3 L152.16 392.3 L152.16 401.7 L323.4 401.7 L323.4 405.6 Z" fill="#006eff" stroke="none"/>
<path d="M38 405.6 L38 338.2 L38 338.2 L85.57 338.2 L85.57 309.7 L152.16 309.7 L152.16 368.9 L323.4 368.9 L323.4 405.6 Z" fill="none" stroke="#000" stroke-width="1"/>
<path d="M38 405.6 L38 383.7 L38 383.7 L85.57 383.7 L85.57 375.4 L152.16 375.4 L152.16 396.2 L323.4 396.2 L323.4 405.6 Z" fill="none" stroke="#000" stroke-width="1"/>
<path d="M38 405.6 L38 397.3 L38 397.3 L85.57 397.3 L85.57 392.3 L152.16 392.3 L152.16 401.7 L323.4 401.7 L323.4 405.6 Z" fill="none" stroke="#000" stroke-width="1"/>
<rect x="38" y="333.2" width="47.57" height="10" fill="url(#hatch)" stroke="none" stroke-width="0" />
<rect x="85.57" y="303.1" width="66.59" height="13.2" fill="url(#hatch)" stroke="none" stroke-width="0" />
<rect x="152.16" y="366.5" width="171.24" height="4.8" fill="url(#hatch)" stroke="none" stroke-width="0" />
<circle cx="61.78" cy="337.1" r="2.4" fill="#000"/>
<circle cx="118.86" cy="308" r="2.4" fill="#000"/>
<circle cx="237.78" cy="368.9" r="2.4" fill="#000"/>
</g>
<g clip-path="url(#cr10)">
<rect x="38" y="418" width="47.57" height="18.1" fill="url(#hatch)" stroke="none" stroke-width="0" />
<rect x="85.57" y="418.5" width="66.59" height="17" fill="url(#hatch)" stroke="none" stroke-width="0" />
<rect x="152.16" y="419.3" width="171.24" height="15.6" fill="url(#hatch)" stroke="none" stroke-width="0" />
<line x1="38" y1="427.1" x2="323.4" y2="427.1" stroke="#222" stroke-width="0.8" stroke-dasharray="2 2"/>
<circle cx="61.78" cy="424.5" r="2.35" fill="#000"/>
<circle cx="118.86" cy="425.2" r="2.35" fill="#000"/>
<circle cx="237.78" cy="426" r="2.35" fill="#000"/>
</g>
<line x1="37.33" y1="262.1" x2="324.07" y2="262.1" stroke="#000" stroke-width="0.95" />
<line x1="37.33" y1="405.6" x2="324.07" y2="405.6" stroke="#000" stroke-width="0.95" />
<line x1="38" y1="262.1" x2="38" y2="405.6" stroke="#000" stroke-width="1.35" />
<line x1="323.4" y1="262.1" x2="323.4" y2="405.6" stroke="#000" stroke-width="1.35" />
<line x1="37.33" y1="410.1" x2="324.07" y2="410.1" stroke="#000" stroke-width="0.95" />
<line x1="37.33" y1="444.3" x2="324.07" y2="444.3" stroke="#000" stroke-width="0.95" />
<line x1="38" y1="410.1" x2="38" y2="444.3" stroke="#000" stroke-width="1.35" />
<line x1="323.4" y1="410.1" x2="323.4" y2="444.3" stroke="#000" stroke-width="1.35" />
<line x1="47.51" y1="262.1" x2="47.51" y2="264.1" stroke="#000" stroke-width="0.85" />
<line x1="47.51" y1="405.6" x2="47.51" y2="403.6" stroke="#000" stroke-width="0.85" />
<line x1="47.51" y1="410.1" x2="47.51" y2="411.4" stroke="#000" stroke-width="0.85" />
<line x1="47.51" y1="444.3" x2="47.51" y2="443" stroke="#000" stroke-width="0.85" />
<line x1="57.03" y1="262.1" x2="57.03" y2="264.1" stroke="#000" stroke-width="0.85" />
<line x1="57.03" y1="405.6" x2="57.03" y2="403.6" stroke="#000" stroke-width="0.85" />
<line x1="57.03" y1="410.1" x2="57.03" y2="411.4" stroke="#000" stroke-width="0.85" />
<line x1="57.03" y1="444.3" x2="57.03" y2="443" stroke="#000" stroke-width="0.85" />
<line x1="66.54" y1="262.1" x2="66.54" y2="264.1" stroke="#000" stroke-width="0.85" />
<line x1="66.54" y1="405.6" x2="66.54" y2="403.6" stroke="#000" stroke-width="0.85" />
<line x1="66.54" y1="410.1" x2="66.54" y2="411.4" stroke="#000" stroke-width="0.85" />
<line x1="66.54" y1="444.3" x2="66.54" y2="443" stroke="#000" stroke-width="0.85" />
<line x1="76.05" y1="262.1" x2="76.05" y2="266.1" stroke="#000" stroke-width="0.85" />
<line x1="76.05" y1="405.6" x2="76.05" y2="401.6" stroke="#000" stroke-width="0.85" />
<line x1="76.05" y1="410.1" x2="76.05" y2="412.7" stroke="#000" stroke-width="0.85" />
<line x1="76.05" y1="444.3" x2="76.05" y2="441.7" stroke="#000" stroke-width="0.85" />
<line x1="85.57" y1="262.1" x2="85.57" y2="264.1" stroke="#000" stroke-width="0.85" />
<line x1="85.57" y1="405.6" x2="85.57" y2="403.6" stroke="#000" stroke-width="0.85" />
<line x1="85.57" y1="410.1" x2="85.57" y2="411.4" stroke="#000" stroke-width="0.85" />
<line x1="85.57" y1="444.3" x2="85.57" y2="443" stroke="#000" stroke-width="0.85" />
<line x1="95.08" y1="262.1" x2="95.08" y2="264.1" stroke="#000" stroke-width="0.85" />
<line x1="95.08" y1="405.6" x2="95.08" y2="403.6" stroke="#000" stroke-width="0.85" />
<line x1="95.08" y1="410.1" x2="95.08" y2="411.4" stroke="#000" stroke-width="0.85" />
<line x1="95.08" y1="444.3" x2="95.08" y2="443" stroke="#000" stroke-width="0.85" />
<line x1="104.59" y1="262.1" x2="104.59" y2="264.1" stroke="#000" stroke-width="0.85" />
<line x1="104.59" y1="405.6" x2="104.59" y2="403.6" stroke="#000" stroke-width="0.85" />
<line x1="104.59" y1="410.1" x2="104.59" y2="411.4" stroke="#000" stroke-width="0.85" />
<line x1="104.59" y1="444.3" x2="104.59" y2="443" stroke="#000" stroke-width="0.85" />
<line x1="114.11" y1="262.1" x2="114.11" y2="266.1" stroke="#000" stroke-width="0.85" />
<line x1="114.11" y1="405.6" x2="114.11" y2="401.6" stroke="#000" stroke-width="0.85" />
<line x1="114.11" y1="410.1" x2="114.11" y2="412.7" stroke="#000" stroke-width="0.85" />
<line x1="114.11" y1="444.3" x2="114.11" y2="441.7" stroke="#000" stroke-width="0.85" />
<line x1="123.62" y1="262.1" x2="123.62" y2="264.1" stroke="#000" stroke-width="0.85" />
<line x1="123.62" y1="405.6" x2="123.62" y2="403.6" stroke="#000" stroke-width="0.85" />
<line x1="123.62" y1="410.1" x2="123.62" y2="411.4" stroke="#000" stroke-width="0.85" />
<line x1="123.62" y1="444.3" x2="123.62" y2="443" stroke="#000" stroke-width="0.85" />
<line x1="133.13" y1="262.1" x2="133.13" y2="264.1" stroke="#000" stroke-width="0.85" />
<line x1="133.13" y1="405.6" x2="133.13" y2="403.6" stroke="#000" stroke-width="0.85" />
<line x1="133.13" y1="410.1" x2="133.13" y2="411.4" stroke="#000" stroke-width="0.85" />
<line x1="133.13" y1="444.3" x2="133.13" y2="443" stroke="#000" stroke-width="0.85" />
<line x1="142.65" y1="262.1" x2="142.65" y2="264.1" stroke="#000" stroke-width="0.85" />
<line x1="142.65" y1="405.6" x2="142.65" y2="403.6" stroke="#000" stroke-width="0.85" />
<line x1="142.65" y1="410.1" x2="142.65" y2="411.4" stroke="#000" stroke-width="0.85" />
<line x1="142.65" y1="444.3" x2="142.65" y2="443" stroke="#000" stroke-width="0.85" />
<line x1="152.16" y1="262.1" x2="152.16" y2="266.1" stroke="#000" stroke-width="0.85" />
<line x1="152.16" y1="405.6" x2="152.16" y2="401.6" stroke="#000" stroke-width="0.85" />
<line x1="152.16" y1="410.1" x2="152.16" y2="412.7" stroke="#000" stroke-width="0.85" />
<line x1="152.16" y1="444.3" x2="152.16" y2="441.7" stroke="#000" stroke-width="0.85" />
<line x1="161.67" y1="262.1" x2="161.67" y2="264.1" stroke="#000" stroke-width="0.85" />
<line x1="161.67" y1="405.6" x2="161.67" y2="403.6" stroke="#000" stroke-width="0.85" />
<line x1="161.67" y1="410.1" x2="161.67" y2="411.4" stroke="#000" stroke-width="0.85" />
<line x1="161.67" y1="444.3" x2="161.67" y2="443" stroke="#000" stroke-width="0.85" />
<line x1="171.19" y1="262.1" x2="171.19" y2="264.1" stroke="#000" stroke-width="0.85" />
<line x1="171.19" y1="405.6" x2="171.19" y2="403.6" stroke="#000" stroke-width="0.85" />
<line x1="171.19" y1="410.1" x2="171.19" y2="411.4" stroke="#000" stroke-width="0.85" />
<line x1="171.19" y1="444.3" x2="171.19" y2="443" stroke="#000" stroke-width="0.85" />
<line x1="180.7" y1="262.1" x2="180.7" y2="264.1" stroke="#000" stroke-width="0.85" />
<line x1="180.7" y1="405.6" x2="180.7" y2="403.6" stroke="#000" stroke-width="0.85" />
<line x1="180.7" y1="410.1" x2="180.7" y2="411.4" stroke="#000" stroke-width="0.85" />
<line x1="180.7" y1="444.3" x2="180.7" y2="443" stroke="#000" stroke-width="0.85" />
<line x1="190.21" y1="262.1" x2="190.21" y2="266.1" stroke="#000" stroke-width="0.85" />
<line x1="190.21" y1="405.6" x2="190.21" y2="401.6" stroke="#000" stroke-width="0.85" />
<line x1="190.21" y1="410.1" x2="190.21" y2="412.7" stroke="#000" stroke-width="0.85" />
<line x1="190.21" y1="444.3" x2="190.21" y2="441.7" stroke="#000" stroke-width="0.85" />
<line x1="199.73" y1="262.1" x2="199.73" y2="264.1" stroke="#000" stroke-width="0.85" />
<line x1="199.73" y1="405.6" x2="199.73" y2="403.6" stroke="#000" stroke-width="0.85" />
<line x1="199.73" y1="410.1" x2="199.73" y2="411.4" stroke="#000" stroke-width="0.85" />
<line x1="199.73" y1="444.3" x2="199.73" y2="443" stroke="#000" stroke-width="0.85" />
<line x1="209.24" y1="262.1" x2="209.24" y2="264.1" stroke="#000" stroke-width="0.85" />
<line x1="209.24" y1="405.6" x2="209.24" y2="403.6" stroke="#000" stroke-width="0.85" />
<line x1="209.24" y1="410.1" x2="209.24" y2="411.4" stroke="#000" stroke-width="0.85" />
<line x1="209.24" y1="444.3" x2="209.24" y2="443" stroke="#000" stroke-width="0.85" />
<line x1="218.75" y1="262.1" x2="218.75" y2="264.1" stroke="#000" stroke-width="0.85" />
<line x1="218.75" y1="405.6" x2="218.75" y2="403.6" stroke="#000" stroke-width="0.85" />
<line x1="218.75" y1="410.1" x2="218.75" y2="411.4" stroke="#000" stroke-width="0.85" />
<line x1="218.75" y1="444.3" x2="218.75" y2="443" stroke="#000" stroke-width="0.85" />
<line x1="228.27" y1="262.1" x2="228.27" y2="266.1" stroke="#000" stroke-width="0.85" />
<line x1="228.27" y1="405.6" x2="228.27" y2="401.6" stroke="#000" stroke-width="0.85" />
<line x1="228.27" y1="410.1" x2="228.27" y2="412.7" stroke="#000" stroke-width="0.85" />
<line x1="228.27" y1="444.3" x2="228.27" y2="441.7" stroke="#000" stroke-width="0.85" />
<line x1="237.78" y1="262.1" x2="237.78" y2="264.1" stroke="#000" stroke-width="0.85" />
<line x1="237.78" y1="405.6" x2="237.78" y2="403.6" stroke="#000" stroke-width="0.85" />
<line x1="237.78" y1="410.1" x2="237.78" y2="411.4" stroke="#000" stroke-width="0.85" />
<line x1="237.78" y1="444.3" x2="237.78" y2="443" stroke="#000" stroke-width="0.85" />
<line x1="247.29" y1="262.1" x2="247.29" y2="264.1" stroke="#000" stroke-width="0.85" />
<line x1="247.29" y1="405.6" x2="247.29" y2="403.6" stroke="#000" stroke-width="0.85" />
<line x1="247.29" y1="410.1" x2="247.29" y2="411.4" stroke="#000" stroke-width="0.85" />
<line x1="247.29" y1="444.3" x2="247.29" y2="443" stroke="#000" stroke-width="0.85" />
<line x1="256.81" y1="262.1" x2="256.81" y2="264.1" stroke="#000" stroke-width="0.85" />
<line x1="256.81" y1="405.6" x2="256.81" y2="403.6" stroke="#000" stroke-width="0.85" />
<line x1="256.81" y1="410.1" x2="256.81" y2="411.4" stroke="#000" stroke-width="0.85" />
<line x1="256.81" y1="444.3" x2="256.81" y2="443" stroke="#000" stroke-width="0.85" />
<line x1="266.32" y1="262.1" x2="266.32" y2="266.1" stroke="#000" stroke-width="0.85" />
<line x1="266.32" y1="405.6" x2="266.32" y2="401.6" stroke="#000" stroke-width="0.85" />
<line x1="266.32" y1="410.1" x2="266.32" y2="412.7" stroke="#000" stroke-width="0.85" />
<line x1="266.32" y1="444.3" x2="266.32" y2="441.7" stroke="#000" stroke-width="0.85" />
<line x1="275.83" y1="262.1" x2="275.83" y2="264.1" stroke="#000" stroke-width="0.85" />
<line x1="275.83" y1="405.6" x2="275.83" y2="403.6" stroke="#000" stroke-width="0.85" />
<line x1="275.83" y1="410.1" x2="275.83" y2="411.4" stroke="#000" stroke-width="0.85" />
<line x1="275.83" y1="444.3" x2="275.83" y2="443" stroke="#000" stroke-width="0.85" />
<line x1="285.35" y1="262.1" x2="285.35" y2="264.1" stroke="#000" stroke-width="0.85" />
<line x1="285.35" y1="405.6" x2="285.35" y2="403.6" stroke="#000" stroke-width="0.85" />
<line x1="285.35" y1="410.1" x2="285.35" y2="411.4" stroke="#000" stroke-width="0.85" />
<line x1="285.35" y1="444.3" x2="285.35" y2="443" stroke="#000" stroke-width="0.85" />
<line x1="294.86" y1="262.1" x2="294.86" y2="264.1" stroke="#000" stroke-width="0.85" />
<line x1="294.86" y1="405.6" x2="294.86" y2="403.6" stroke="#000" stroke-width="0.85" />
<line x1="294.86" y1="410.1" x2="294.86" y2="411.4" stroke="#000" stroke-width="0.85" />
<line x1="294.86" y1="444.3" x2="294.86" y2="443" stroke="#000" stroke-width="0.85" />
<line x1="304.37" y1="262.1" x2="304.37" y2="266.1" stroke="#000" stroke-width="0.85" />
<line x1="304.37" y1="405.6" x2="304.37" y2="401.6" stroke="#000" stroke-width="0.85" />
<line x1="304.37" y1="410.1" x2="304.37" y2="412.7" stroke="#000" stroke-width="0.85" />
<line x1="304.37" y1="444.3" x2="304.37" y2="441.7" stroke="#000" stroke-width="0.85" />
<line x1="313.89" y1="262.1" x2="313.89" y2="264.1" stroke="#000" stroke-width="0.85" />
<line x1="313.89" y1="405.6" x2="313.89" y2="403.6" stroke="#000" stroke-width="0.85" />
<line x1="313.89" y1="410.1" x2="313.89" y2="411.4" stroke="#000" stroke-width="0.85" />
<line x1="313.89" y1="444.3" x2="313.89" y2="443" stroke="#000" stroke-width="0.85" />
<text transform="translate(38 456.7) scale(1 0.94)" font-size="10" text-anchor="middle" >0</text>
<text transform="translate(76.05 456.7) scale(1 0.94)" font-size="10" text-anchor="middle" >20</text>
<text transform="translate(114.11 456.7) scale(1 0.94)" font-size="10" text-anchor="middle" >40</text>
<text transform="translate(152.16 456.7) scale(1 0.94)" font-size="10" text-anchor="middle" >60</text>
<text transform="translate(190.21 456.7) scale(1 0.94)" font-size="10" text-anchor="middle" >80</text>
<text transform="translate(228.27 456.7) scale(1 0.94)" font-size="10" text-anchor="middle" >100</text>
<text transform="translate(266.32 456.7) scale(1 0.94)" font-size="10" text-anchor="middle" >120</text>
<text transform="translate(304.37 456.7) scale(1 0.94)" font-size="10" text-anchor="middle" >140</text>
<line x1="38" y1="402.46" x2="42.3" y2="402.46" stroke="#000" stroke-width="0.85" />
<line x1="323.4" y1="402.46" x2="319.1" y2="402.46" stroke="#000" stroke-width="0.85" />
<line x1="38" y1="399.33" x2="42.3" y2="399.33" stroke="#000" stroke-width="0.85" />
<line x1="323.4" y1="399.33" x2="319.1" y2="399.33" stroke="#000" stroke-width="0.85" />
<line x1="38" y1="396.19" x2="42.3" y2="396.19" stroke="#000" stroke-width="0.85" />
<line x1="323.4" y1="396.19" x2="319.1" y2="396.19" stroke="#000" stroke-width="0.85" />
<line x1="38" y1="393.05" x2="42.3" y2="393.05" stroke="#000" stroke-width="0.85" />
<line x1="323.4" y1="393.05" x2="319.1" y2="393.05" stroke="#000" stroke-width="0.85" />
<line x1="38" y1="389.92" x2="46.5" y2="389.92" stroke="#000" stroke-width="0.85" />
<line x1="323.4" y1="389.92" x2="314.9" y2="389.92" stroke="#000" stroke-width="0.85" />
<line x1="38" y1="386.78" x2="42.3" y2="386.78" stroke="#000" stroke-width="0.85" />
<line x1="323.4" y1="386.78" x2="319.1" y2="386.78" stroke="#000" stroke-width="0.85" />
<line x1="38" y1="383.64" x2="42.3" y2="383.64" stroke="#000" stroke-width="0.85" />
<line x1="323.4" y1="383.64" x2="319.1" y2="383.64" stroke="#000" stroke-width="0.85" />
<line x1="38" y1="380.51" x2="42.3" y2="380.51" stroke="#000" stroke-width="0.85" />
<line x1="323.4" y1="380.51" x2="319.1" y2="380.51" stroke="#000" stroke-width="0.85" />
<line x1="38" y1="377.37" x2="42.3" y2="377.37" stroke="#000" stroke-width="0.85" />
<line x1="323.4" y1="377.37" x2="319.1" y2="377.37" stroke="#000" stroke-width="0.85" />
<line x1="38" y1="374.23" x2="46.5" y2="374.23" stroke="#000" stroke-width="0.85" />
<line x1="323.4" y1="374.23" x2="314.9" y2="374.23" stroke="#000" stroke-width="0.85" />
<line x1="38" y1="371.1" x2="42.3" y2="371.1" stroke="#000" stroke-width="0.85" />
<line x1="323.4" y1="371.1" x2="319.1" y2="371.1" stroke="#000" stroke-width="0.85" />
<line x1="38" y1="367.96" x2="42.3" y2="367.96" stroke="#000" stroke-width="0.85" />
<line x1="323.4" y1="367.96" x2="319.1" y2="367.96" stroke="#000" stroke-width="0.85" />
<line x1="38" y1="364.82" x2="42.3" y2="364.82" stroke="#000" stroke-width="0.85" />
<line x1="323.4" y1="364.82" x2="319.1" y2="364.82" stroke="#000" stroke-width="0.85" />
<line x1="38" y1="361.69" x2="42.3" y2="361.69" stroke="#000" stroke-width="0.85" />
<line x1="323.4" y1="361.69" x2="319.1" y2="361.69" stroke="#000" stroke-width="0.85" />
<line x1="38" y1="358.55" x2="46.5" y2="358.55" stroke="#000" stroke-width="0.85" />
<line x1="323.4" y1="358.55" x2="314.9" y2="358.55" stroke="#000" stroke-width="0.85" />
<line x1="38" y1="355.41" x2="42.3" y2="355.41" stroke="#000" stroke-width="0.85" />
<line x1="323.4" y1="355.41" x2="319.1" y2="355.41" stroke="#000" stroke-width="0.85" />
<line x1="38" y1="352.28" x2="42.3" y2="352.28" stroke="#000" stroke-width="0.85" />
<line x1="323.4" y1="352.28" x2="319.1" y2="352.28" stroke="#000" stroke-width="0.85" />
<line x1="38" y1="349.14" x2="42.3" y2="349.14" stroke="#000" stroke-width="0.85" />
<line x1="323.4" y1="349.14" x2="319.1" y2="349.14" stroke="#000" stroke-width="0.85" />
<line x1="38" y1="346" x2="42.3" y2="346" stroke="#000" stroke-width="0.85" />
<line x1="323.4" y1="346" x2="319.1" y2="346" stroke="#000" stroke-width="0.85" />
<line x1="38" y1="342.87" x2="46.5" y2="342.87" stroke="#000" stroke-width="0.85" />
<line x1="323.4" y1="342.87" x2="314.9" y2="342.87" stroke="#000" stroke-width="0.85" />
<line x1="38" y1="339.73" x2="42.3" y2="339.73" stroke="#000" stroke-width="0.85" />
<line x1="323.4" y1="339.73" x2="319.1" y2="339.73" stroke="#000" stroke-width="0.85" />
<line x1="38" y1="336.59" x2="42.3" y2="336.59" stroke="#000" stroke-width="0.85" />
<line x1="323.4" y1="336.59" x2="319.1" y2="336.59" stroke="#000" stroke-width="0.85" />
<line x1="38" y1="333.46" x2="42.3" y2="333.46" stroke="#000" stroke-width="0.85" />
<line x1="323.4" y1="333.46" x2="319.1" y2="333.46" stroke="#000" stroke-width="0.85" />
<line x1="38" y1="330.32" x2="42.3" y2="330.32" stroke="#000" stroke-width="0.85" />
<line x1="323.4" y1="330.32" x2="319.1" y2="330.32" stroke="#000" stroke-width="0.85" />
<line x1="38" y1="327.18" x2="46.5" y2="327.18" stroke="#000" stroke-width="0.85" />
<line x1="323.4" y1="327.18" x2="314.9" y2="327.18" stroke="#000" stroke-width="0.85" />
<line x1="38" y1="324.05" x2="42.3" y2="324.05" stroke="#000" stroke-width="0.85" />
<line x1="323.4" y1="324.05" x2="319.1" y2="324.05" stroke="#000" stroke-width="0.85" />
<line x1="38" y1="320.91" x2="42.3" y2="320.91" stroke="#000" stroke-width="0.85" />
<line x1="323.4" y1="320.91" x2="319.1" y2="320.91" stroke="#000" stroke-width="0.85" />
<line x1="38" y1="317.77" x2="42.3" y2="317.77" stroke="#000" stroke-width="0.85" />
<line x1="323.4" y1="317.77" x2="319.1" y2="317.77" stroke="#000" stroke-width="0.85" />
<line x1="38" y1="314.64" x2="42.3" y2="314.64" stroke="#000" stroke-width="0.85" />
<line x1="323.4" y1="314.64" x2="319.1" y2="314.64" stroke="#000" stroke-width="0.85" />
<line x1="38" y1="311.5" x2="46.5" y2="311.5" stroke="#000" stroke-width="0.85" />
<line x1="323.4" y1="311.5" x2="314.9" y2="311.5" stroke="#000" stroke-width="0.85" />
<line x1="38" y1="308.37" x2="42.3" y2="308.37" stroke="#000" stroke-width="0.85" />
<line x1="323.4" y1="308.37" x2="319.1" y2="308.37" stroke="#000" stroke-width="0.85" />
<line x1="38" y1="305.23" x2="42.3" y2="305.23" stroke="#000" stroke-width="0.85" />
<line x1="323.4" y1="305.23" x2="319.1" y2="305.23" stroke="#000" stroke-width="0.85" />
<line x1="38" y1="302.09" x2="42.3" y2="302.09" stroke="#000" stroke-width="0.85" />
<line x1="323.4" y1="302.09" x2="319.1" y2="302.09" stroke="#000" stroke-width="0.85" />
<line x1="38" y1="298.96" x2="42.3" y2="298.96" stroke="#000" stroke-width="0.85" />
<line x1="323.4" y1="298.96" x2="319.1" y2="298.96" stroke="#000" stroke-width="0.85" />
<line x1="38" y1="295.82" x2="46.5" y2="295.82" stroke="#000" stroke-width="0.85" />
<line x1="323.4" y1="295.82" x2="314.9" y2="295.82" stroke="#000" stroke-width="0.85" />
<line x1="38" y1="292.68" x2="42.3" y2="292.68" stroke="#000" stroke-width="0.85" />
<line x1="323.4" y1="292.68" x2="319.1" y2="292.68" stroke="#000" stroke-width="0.85" />
<line x1="38" y1="289.55" x2="42.3" y2="289.55" stroke="#000" stroke-width="0.85" />
<line x1="323.4" y1="289.55" x2="319.1" y2="289.55" stroke="#000" stroke-width="0.85" />
<line x1="38" y1="286.41" x2="42.3" y2="286.41" stroke="#000" stroke-width="0.85" />
<line x1="323.4" y1="286.41" x2="319.1" y2="286.41" stroke="#000" stroke-width="0.85" />
<line x1="38" y1="283.27" x2="42.3" y2="283.27" stroke="#000" stroke-width="0.85" />
<line x1="323.4" y1="283.27" x2="319.1" y2="283.27" stroke="#000" stroke-width="0.85" />
<line x1="38" y1="280.14" x2="46.5" y2="280.14" stroke="#000" stroke-width="0.85" />
<line x1="323.4" y1="280.14" x2="314.9" y2="280.14" stroke="#000" stroke-width="0.85" />
<line x1="38" y1="277" x2="42.3" y2="277" stroke="#000" stroke-width="0.85" />
<line x1="323.4" y1="277" x2="319.1" y2="277" stroke="#000" stroke-width="0.85" />
<line x1="38" y1="273.86" x2="42.3" y2="273.86" stroke="#000" stroke-width="0.85" />
<line x1="323.4" y1="273.86" x2="319.1" y2="273.86" stroke="#000" stroke-width="0.85" />
<line x1="38" y1="270.73" x2="42.3" y2="270.73" stroke="#000" stroke-width="0.85" />
<line x1="323.4" y1="270.73" x2="319.1" y2="270.73" stroke="#000" stroke-width="0.85" />
<line x1="38" y1="267.59" x2="42.3" y2="267.59" stroke="#000" stroke-width="0.85" />
<line x1="323.4" y1="267.59" x2="319.1" y2="267.59" stroke="#000" stroke-width="0.85" />
<line x1="38" y1="264.45" x2="46.5" y2="264.45" stroke="#000" stroke-width="0.85" />
<line x1="323.4" y1="264.45" x2="314.9" y2="264.45" stroke="#000" stroke-width="0.85" />
<text transform="translate(34 410.2) scale(1 0.94)" font-size="10" text-anchor="end" >0</text>
<text transform="translate(34 394.52) scale(1 0.94)" font-size="10" text-anchor="end" >10</text>
<text transform="translate(34 378.83) scale(1 0.94)" font-size="10" text-anchor="end" >20</text>
<text transform="translate(34 363.15) scale(1 0.94)" font-size="10" text-anchor="end" >30</text>
<text transform="translate(34 347.47) scale(1 0.94)" font-size="10" text-anchor="end" >40</text>
<text transform="translate(34 331.78) scale(1 0.94)" font-size="10" text-anchor="end" >50</text>
<text transform="translate(34 316.1) scale(1 0.94)" font-size="10" text-anchor="end" >60</text>
<text transform="translate(34 300.42) scale(1 0.94)" font-size="10" text-anchor="end" >70</text>
<text transform="translate(34 284.74) scale(1 0.94)" font-size="10" text-anchor="end" >80</text>
<text transform="translate(34 269.05) scale(1 0.94)" font-size="10" text-anchor="end" >90</text>
<text transform="translate(37.5 260.6) scale(1 1)" font-size="10.3" text-anchor="start" >&#215;10</text>
<text transform="translate(55 255.9) scale(1 1)" font-size="6.4" text-anchor="start" >3</text>
<line x1="38" y1="442.99" x2="40" y2="442.99" stroke="#000" stroke-width="0.85" />
<line x1="323.4" y1="442.99" x2="321.4" y2="442.99" stroke="#000" stroke-width="0.85" />
<line x1="38" y1="440.72" x2="40" y2="440.72" stroke="#000" stroke-width="0.85" />
<line x1="323.4" y1="440.72" x2="321.4" y2="440.72" stroke="#000" stroke-width="0.85" />
<line x1="38" y1="438.45" x2="41.8" y2="438.45" stroke="#000" stroke-width="0.85" />
<line x1="323.4" y1="438.45" x2="319.6" y2="438.45" stroke="#000" stroke-width="0.85" />
<line x1="38" y1="436.18" x2="40" y2="436.18" stroke="#000" stroke-width="0.85" />
<line x1="323.4" y1="436.18" x2="321.4" y2="436.18" stroke="#000" stroke-width="0.85" />
<line x1="38" y1="433.91" x2="40" y2="433.91" stroke="#000" stroke-width="0.85" />
<line x1="323.4" y1="433.91" x2="321.4" y2="433.91" stroke="#000" stroke-width="0.85" />
<line x1="38" y1="431.64" x2="40" y2="431.64" stroke="#000" stroke-width="0.85" />
<line x1="323.4" y1="431.64" x2="321.4" y2="431.64" stroke="#000" stroke-width="0.85" />
<line x1="38" y1="429.37" x2="40" y2="429.37" stroke="#000" stroke-width="0.85" />
<line x1="323.4" y1="429.37" x2="321.4" y2="429.37" stroke="#000" stroke-width="0.85" />
<line x1="38" y1="427.1" x2="41.8" y2="427.1" stroke="#000" stroke-width="0.85" />
<line x1="323.4" y1="427.1" x2="319.6" y2="427.1" stroke="#000" stroke-width="0.85" />
<line x1="38" y1="424.83" x2="40" y2="424.83" stroke="#000" stroke-width="0.85" />
<line x1="323.4" y1="424.83" x2="321.4" y2="424.83" stroke="#000" stroke-width="0.85" />
<line x1="38" y1="422.56" x2="40" y2="422.56" stroke="#000" stroke-width="0.85" />
<line x1="323.4" y1="422.56" x2="321.4" y2="422.56" stroke="#000" stroke-width="0.85" />
<line x1="38" y1="420.29" x2="40" y2="420.29" stroke="#000" stroke-width="0.85" />
<line x1="323.4" y1="420.29" x2="321.4" y2="420.29" stroke="#000" stroke-width="0.85" />
<line x1="38" y1="418.02" x2="40" y2="418.02" stroke="#000" stroke-width="0.85" />
<line x1="323.4" y1="418.02" x2="321.4" y2="418.02" stroke="#000" stroke-width="0.85" />
<line x1="38" y1="415.75" x2="41.8" y2="415.75" stroke="#000" stroke-width="0.85" />
<line x1="323.4" y1="415.75" x2="319.6" y2="415.75" stroke="#000" stroke-width="0.85" />
<line x1="38" y1="413.48" x2="40" y2="413.48" stroke="#000" stroke-width="0.85" />
<line x1="323.4" y1="413.48" x2="321.4" y2="413.48" stroke="#000" stroke-width="0.85" />
<line x1="38" y1="411.21" x2="40" y2="411.21" stroke="#000" stroke-width="0.85" />
<line x1="323.4" y1="411.21" x2="321.4" y2="411.21" stroke="#000" stroke-width="0.85" />
<text transform="translate(34.5 420.35) scale(1 0.94)" font-size="10" text-anchor="end" >1.1</text>
<text transform="translate(34.5 431.7) scale(1 0.94)" font-size="10" text-anchor="end" >1</text>
<text transform="translate(34.5 443.05) scale(1 0.94)" font-size="10" text-anchor="end" >0.9</text>
<text transform="translate(9.3 262.1) rotate(-90) scale(1 0.96)" font-size="10.2" text-anchor="end">Events / 25 GeV</text>
<text transform="translate(12 426.4) rotate(-90)" font-size="6.5" text-anchor="middle">Data / Pred.</text>
<text transform="translate(49.1 272.6) scale(1 0.9)" font-size="10.4" text-anchor="start" font-weight="bold" font-style="italic">ATLAS</text>
<path d="M50.9 278.9 L50.9 284.1" stroke="#000" stroke-width="1.3" fill="none"/>
<path d="M51.3 283.9 L52.6 275.2 L59 275.2" stroke="#000" stroke-width="0.9" fill="none"/>
<text transform="translate(53.6 283.4) scale(1 1)" font-size="10" text-anchor="start" >s= 8 TeV, <tspan dx="0">20.3 fb</tspan><tspan font-size="6.5" dy="-3.5">-1</tspan></text>
<text transform="translate(47.9 295.4) scale(1 1)" font-size="10" text-anchor="start" >1 b-tag</text>
<text transform="translate(240.4 279.4) scale(1 1)" font-size="10.3" text-anchor="start" >l+jets</text>
<line x1="241.6" y1="288.7" x2="259.4" y2="288.7" stroke="#000" stroke-width="1" />
<circle cx="250.5" cy="288.7" r="2.1" fill="#000"/>
<line x1="250.5" y1="285.7" x2="250.5" y2="291.7" stroke="#000" stroke-width="1" />
<text transform="translate(263 292.5) scale(1 1)" font-size="10.3" text-anchor="start" >Data</text>
<rect x="241.6" y="297.4" width="17.8" height="8.5" fill="#fff" stroke="#000" stroke-width="1" />
<text transform="translate(263 305) scale(1 1)" font-size="10.3" text-anchor="start" >t<tspan>t&#772;</tspan></text>
<rect x="241.6" y="309.8" width="17.8" height="8.5" fill="#ffbf00" stroke="#000" stroke-width="1" />
<text transform="translate(263 317.4) scale(1 1)" font-size="10.3" text-anchor="start" >W+jets</text>
<rect x="241.6" y="322.1" width="17.8" height="8.5" fill="#006eff" stroke="#000" stroke-width="1" />
<text transform="translate(263 329.7) scale(1 1)" font-size="10.3" text-anchor="start" >Others</text>
<rect x="241.6" y="335.7" width="17.8" height="7" fill="url(#hatch)" stroke="none" stroke-width="0" />
<text transform="translate(263 342.2) scale(1 1)" font-size="10.3" text-anchor="start" >Tot. Unc.</text>
<text transform="translate(324.3 471.9) scale(1 0.96)" font-size="13.8" text-anchor="end">p<tspan font-size="8.8" dy="8.8">T,tt&#772;</tspan><tspan dy="-8.8"> [GeV]</tspan></text>
<g clip-path="url(#cm11)">
<path d="M387 405.6 L387 337.1 L387 337.1 L434.57 337.1 L434.57 310.8 L501.16 310.8 L501.16 366.9 L672.4 366.9 L672.4 405.6 Z" fill="#fff" stroke="none"/>
<path d="M387 405.6 L387 399.6 L387 399.6 L434.57 399.6 L434.57 396.2 L501.16 396.2 L501.16 401.7 L672.4 401.7 L672.4 405.6 Z" fill="#ffbf00" stroke="none"/>
<path d="M387 405.6 L387 401 L387 401 L434.57 401 L434.57 399.2 L501.16 399.2 L501.16 402.7 L672.4 402.7 L672.4 405.6 Z" fill="#006eff" stroke="none"/>
<path d="M387 405.6 L387 337.1 L387 337.1 L434.57 337.1 L434.57 310.8 L501.16 310.8 L501.16 366.9 L672.4 366.9 L672.4 405.6 Z" fill="none" stroke="#000" stroke-width="1"/>
<path d="M387 405.6 L387 399.6 L387 399.6 L434.57 399.6 L434.57 396.2 L501.16 396.2 L501.16 401.7 L672.4 401.7 L672.4 405.6 Z" fill="none" stroke="#000" stroke-width="1"/>
<path d="M387 405.6 L387 401 L387 401 L434.57 401 L434.57 399.2 L501.16 399.2 L501.16 402.7 L672.4 402.7 L672.4 405.6 Z" fill="none" stroke="#000" stroke-width="1"/>
<rect x="387" y="333.1" width="47.57" height="8" fill="url(#hatch)" stroke="none" stroke-width="0" />
<rect x="434.57" y="306.4" width="66.59" height="8.8" fill="url(#hatch)" stroke="none" stroke-width="0" />
<rect x="501.16" y="364.9" width="171.24" height="4" fill="url(#hatch)" stroke="none" stroke-width="0" />
<circle cx="410.78" cy="334.4" r="2.4" fill="#000"/>
<circle cx="467.86" cy="307.5" r="2.4" fill="#000"/>
<circle cx="586.78" cy="364.2" r="2.4" fill="#000"/>
</g>
<g clip-path="url(#cr11)">
<rect x="387" y="416.9" width="47.57" height="20.5" fill="url(#hatch)" stroke="none" stroke-width="0" />
<rect x="434.57" y="416.9" width="66.59" height="20.5" fill="url(#hatch)" stroke="none" stroke-width="0" />
<rect x="501.16" y="416.9" width="171.24" height="20.5" fill="url(#hatch)" stroke="none" stroke-width="0" />
<line x1="387" y1="427.3" x2="672.4" y2="427.3" stroke="#222" stroke-width="0.8" stroke-dasharray="2 2"/>
<circle cx="410.78" cy="419.8" r="2.35" fill="#000"/>
<circle cx="467.86" cy="420.4" r="2.35" fill="#000"/>
<circle cx="586.78" cy="415" r="2.35" fill="#000"/>
</g>
<line x1="386.32" y1="262.1" x2="673.07" y2="262.1" stroke="#000" stroke-width="0.95" />
<line x1="386.32" y1="405.6" x2="673.07" y2="405.6" stroke="#000" stroke-width="0.95" />
<line x1="387" y1="262.1" x2="387" y2="405.6" stroke="#000" stroke-width="1.35" />
<line x1="672.4" y1="262.1" x2="672.4" y2="405.6" stroke="#000" stroke-width="1.35" />
<line x1="386.32" y1="410.1" x2="673.07" y2="410.1" stroke="#000" stroke-width="0.95" />
<line x1="386.32" y1="444.3" x2="673.07" y2="444.3" stroke="#000" stroke-width="0.95" />
<line x1="387" y1="410.1" x2="387" y2="444.3" stroke="#000" stroke-width="1.35" />
<line x1="672.4" y1="410.1" x2="672.4" y2="444.3" stroke="#000" stroke-width="1.35" />
<line x1="396.51" y1="262.1" x2="396.51" y2="264.1" stroke="#000" stroke-width="0.85" />
<line x1="396.51" y1="405.6" x2="396.51" y2="403.6" stroke="#000" stroke-width="0.85" />
<line x1="396.51" y1="410.1" x2="396.51" y2="411.4" stroke="#000" stroke-width="0.85" />
<line x1="396.51" y1="444.3" x2="396.51" y2="443" stroke="#000" stroke-width="0.85" />
<line x1="406.03" y1="262.1" x2="406.03" y2="264.1" stroke="#000" stroke-width="0.85" />
<line x1="406.03" y1="405.6" x2="406.03" y2="403.6" stroke="#000" stroke-width="0.85" />
<line x1="406.03" y1="410.1" x2="406.03" y2="411.4" stroke="#000" stroke-width="0.85" />
<line x1="406.03" y1="444.3" x2="406.03" y2="443" stroke="#000" stroke-width="0.85" />
<line x1="415.54" y1="262.1" x2="415.54" y2="264.1" stroke="#000" stroke-width="0.85" />
<line x1="415.54" y1="405.6" x2="415.54" y2="403.6" stroke="#000" stroke-width="0.85" />
<line x1="415.54" y1="410.1" x2="415.54" y2="411.4" stroke="#000" stroke-width="0.85" />
<line x1="415.54" y1="444.3" x2="415.54" y2="443" stroke="#000" stroke-width="0.85" />
<line x1="425.05" y1="262.1" x2="425.05" y2="266.1" stroke="#000" stroke-width="0.85" />
<line x1="425.05" y1="405.6" x2="425.05" y2="401.6" stroke="#000" stroke-width="0.85" />
<line x1="425.05" y1="410.1" x2="425.05" y2="412.7" stroke="#000" stroke-width="0.85" />
<line x1="425.05" y1="444.3" x2="425.05" y2="441.7" stroke="#000" stroke-width="0.85" />
<line x1="434.57" y1="262.1" x2="434.57" y2="264.1" stroke="#000" stroke-width="0.85" />
<line x1="434.57" y1="405.6" x2="434.57" y2="403.6" stroke="#000" stroke-width="0.85" />
<line x1="434.57" y1="410.1" x2="434.57" y2="411.4" stroke="#000" stroke-width="0.85" />
<line x1="434.57" y1="444.3" x2="434.57" y2="443" stroke="#000" stroke-width="0.85" />
<line x1="444.08" y1="262.1" x2="444.08" y2="264.1" stroke="#000" stroke-width="0.85" />
<line x1="444.08" y1="405.6" x2="444.08" y2="403.6" stroke="#000" stroke-width="0.85" />
<line x1="444.08" y1="410.1" x2="444.08" y2="411.4" stroke="#000" stroke-width="0.85" />
<line x1="444.08" y1="444.3" x2="444.08" y2="443" stroke="#000" stroke-width="0.85" />
<line x1="453.59" y1="262.1" x2="453.59" y2="264.1" stroke="#000" stroke-width="0.85" />
<line x1="453.59" y1="405.6" x2="453.59" y2="403.6" stroke="#000" stroke-width="0.85" />
<line x1="453.59" y1="410.1" x2="453.59" y2="411.4" stroke="#000" stroke-width="0.85" />
<line x1="453.59" y1="444.3" x2="453.59" y2="443" stroke="#000" stroke-width="0.85" />
<line x1="463.11" y1="262.1" x2="463.11" y2="266.1" stroke="#000" stroke-width="0.85" />
<line x1="463.11" y1="405.6" x2="463.11" y2="401.6" stroke="#000" stroke-width="0.85" />
<line x1="463.11" y1="410.1" x2="463.11" y2="412.7" stroke="#000" stroke-width="0.85" />
<line x1="463.11" y1="444.3" x2="463.11" y2="441.7" stroke="#000" stroke-width="0.85" />
<line x1="472.62" y1="262.1" x2="472.62" y2="264.1" stroke="#000" stroke-width="0.85" />
<line x1="472.62" y1="405.6" x2="472.62" y2="403.6" stroke="#000" stroke-width="0.85" />
<line x1="472.62" y1="410.1" x2="472.62" y2="411.4" stroke="#000" stroke-width="0.85" />
<line x1="472.62" y1="444.3" x2="472.62" y2="443" stroke="#000" stroke-width="0.85" />
<line x1="482.13" y1="262.1" x2="482.13" y2="264.1" stroke="#000" stroke-width="0.85" />
<line x1="482.13" y1="405.6" x2="482.13" y2="403.6" stroke="#000" stroke-width="0.85" />
<line x1="482.13" y1="410.1" x2="482.13" y2="411.4" stroke="#000" stroke-width="0.85" />
<line x1="482.13" y1="444.3" x2="482.13" y2="443" stroke="#000" stroke-width="0.85" />
<line x1="491.65" y1="262.1" x2="491.65" y2="264.1" stroke="#000" stroke-width="0.85" />
<line x1="491.65" y1="405.6" x2="491.65" y2="403.6" stroke="#000" stroke-width="0.85" />
<line x1="491.65" y1="410.1" x2="491.65" y2="411.4" stroke="#000" stroke-width="0.85" />
<line x1="491.65" y1="444.3" x2="491.65" y2="443" stroke="#000" stroke-width="0.85" />
<line x1="501.16" y1="262.1" x2="501.16" y2="266.1" stroke="#000" stroke-width="0.85" />
<line x1="501.16" y1="405.6" x2="501.16" y2="401.6" stroke="#000" stroke-width="0.85" />
<line x1="501.16" y1="410.1" x2="501.16" y2="412.7" stroke="#000" stroke-width="0.85" />
<line x1="501.16" y1="444.3" x2="501.16" y2="441.7" stroke="#000" stroke-width="0.85" />
<line x1="510.67" y1="262.1" x2="510.67" y2="264.1" stroke="#000" stroke-width="0.85" />
<line x1="510.67" y1="405.6" x2="510.67" y2="403.6" stroke="#000" stroke-width="0.85" />
<line x1="510.67" y1="410.1" x2="510.67" y2="411.4" stroke="#000" stroke-width="0.85" />
<line x1="510.67" y1="444.3" x2="510.67" y2="443" stroke="#000" stroke-width="0.85" />
<line x1="520.19" y1="262.1" x2="520.19" y2="264.1" stroke="#000" stroke-width="0.85" />
<line x1="520.19" y1="405.6" x2="520.19" y2="403.6" stroke="#000" stroke-width="0.85" />
<line x1="520.19" y1="410.1" x2="520.19" y2="411.4" stroke="#000" stroke-width="0.85" />
<line x1="520.19" y1="444.3" x2="520.19" y2="443" stroke="#000" stroke-width="0.85" />
<line x1="529.7" y1="262.1" x2="529.7" y2="264.1" stroke="#000" stroke-width="0.85" />
<line x1="529.7" y1="405.6" x2="529.7" y2="403.6" stroke="#000" stroke-width="0.85" />
<line x1="529.7" y1="410.1" x2="529.7" y2="411.4" stroke="#000" stroke-width="0.85" />
<line x1="529.7" y1="444.3" x2="529.7" y2="443" stroke="#000" stroke-width="0.85" />
<line x1="539.21" y1="262.1" x2="539.21" y2="266.1" stroke="#000" stroke-width="0.85" />
<line x1="539.21" y1="405.6" x2="539.21" y2="401.6" stroke="#000" stroke-width="0.85" />
<line x1="539.21" y1="410.1" x2="539.21" y2="412.7" stroke="#000" stroke-width="0.85" />
<line x1="539.21" y1="444.3" x2="539.21" y2="441.7" stroke="#000" stroke-width="0.85" />
<line x1="548.73" y1="262.1" x2="548.73" y2="264.1" stroke="#000" stroke-width="0.85" />
<line x1="548.73" y1="405.6" x2="548.73" y2="403.6" stroke="#000" stroke-width="0.85" />
<line x1="548.73" y1="410.1" x2="548.73" y2="411.4" stroke="#000" stroke-width="0.85" />
<line x1="548.73" y1="444.3" x2="548.73" y2="443" stroke="#000" stroke-width="0.85" />
<line x1="558.24" y1="262.1" x2="558.24" y2="264.1" stroke="#000" stroke-width="0.85" />
<line x1="558.24" y1="405.6" x2="558.24" y2="403.6" stroke="#000" stroke-width="0.85" />
<line x1="558.24" y1="410.1" x2="558.24" y2="411.4" stroke="#000" stroke-width="0.85" />
<line x1="558.24" y1="444.3" x2="558.24" y2="443" stroke="#000" stroke-width="0.85" />
<line x1="567.75" y1="262.1" x2="567.75" y2="264.1" stroke="#000" stroke-width="0.85" />
<line x1="567.75" y1="405.6" x2="567.75" y2="403.6" stroke="#000" stroke-width="0.85" />
<line x1="567.75" y1="410.1" x2="567.75" y2="411.4" stroke="#000" stroke-width="0.85" />
<line x1="567.75" y1="444.3" x2="567.75" y2="443" stroke="#000" stroke-width="0.85" />
<line x1="577.27" y1="262.1" x2="577.27" y2="266.1" stroke="#000" stroke-width="0.85" />
<line x1="577.27" y1="405.6" x2="577.27" y2="401.6" stroke="#000" stroke-width="0.85" />
<line x1="577.27" y1="410.1" x2="577.27" y2="412.7" stroke="#000" stroke-width="0.85" />
<line x1="577.27" y1="444.3" x2="577.27" y2="441.7" stroke="#000" stroke-width="0.85" />
<line x1="586.78" y1="262.1" x2="586.78" y2="264.1" stroke="#000" stroke-width="0.85" />
<line x1="586.78" y1="405.6" x2="586.78" y2="403.6" stroke="#000" stroke-width="0.85" />
<line x1="586.78" y1="410.1" x2="586.78" y2="411.4" stroke="#000" stroke-width="0.85" />
<line x1="586.78" y1="444.3" x2="586.78" y2="443" stroke="#000" stroke-width="0.85" />
<line x1="596.29" y1="262.1" x2="596.29" y2="264.1" stroke="#000" stroke-width="0.85" />
<line x1="596.29" y1="405.6" x2="596.29" y2="403.6" stroke="#000" stroke-width="0.85" />
<line x1="596.29" y1="410.1" x2="596.29" y2="411.4" stroke="#000" stroke-width="0.85" />
<line x1="596.29" y1="444.3" x2="596.29" y2="443" stroke="#000" stroke-width="0.85" />
<line x1="605.81" y1="262.1" x2="605.81" y2="264.1" stroke="#000" stroke-width="0.85" />
<line x1="605.81" y1="405.6" x2="605.81" y2="403.6" stroke="#000" stroke-width="0.85" />
<line x1="605.81" y1="410.1" x2="605.81" y2="411.4" stroke="#000" stroke-width="0.85" />
<line x1="605.81" y1="444.3" x2="605.81" y2="443" stroke="#000" stroke-width="0.85" />
<line x1="615.32" y1="262.1" x2="615.32" y2="266.1" stroke="#000" stroke-width="0.85" />
<line x1="615.32" y1="405.6" x2="615.32" y2="401.6" stroke="#000" stroke-width="0.85" />
<line x1="615.32" y1="410.1" x2="615.32" y2="412.7" stroke="#000" stroke-width="0.85" />
<line x1="615.32" y1="444.3" x2="615.32" y2="441.7" stroke="#000" stroke-width="0.85" />
<line x1="624.83" y1="262.1" x2="624.83" y2="264.1" stroke="#000" stroke-width="0.85" />
<line x1="624.83" y1="405.6" x2="624.83" y2="403.6" stroke="#000" stroke-width="0.85" />
<line x1="624.83" y1="410.1" x2="624.83" y2="411.4" stroke="#000" stroke-width="0.85" />
<line x1="624.83" y1="444.3" x2="624.83" y2="443" stroke="#000" stroke-width="0.85" />
<line x1="634.35" y1="262.1" x2="634.35" y2="264.1" stroke="#000" stroke-width="0.85" />
<line x1="634.35" y1="405.6" x2="634.35" y2="403.6" stroke="#000" stroke-width="0.85" />
<line x1="634.35" y1="410.1" x2="634.35" y2="411.4" stroke="#000" stroke-width="0.85" />
<line x1="634.35" y1="444.3" x2="634.35" y2="443" stroke="#000" stroke-width="0.85" />
<line x1="643.86" y1="262.1" x2="643.86" y2="264.1" stroke="#000" stroke-width="0.85" />
<line x1="643.86" y1="405.6" x2="643.86" y2="403.6" stroke="#000" stroke-width="0.85" />
<line x1="643.86" y1="410.1" x2="643.86" y2="411.4" stroke="#000" stroke-width="0.85" />
<line x1="643.86" y1="444.3" x2="643.86" y2="443" stroke="#000" stroke-width="0.85" />
<line x1="653.37" y1="262.1" x2="653.37" y2="266.1" stroke="#000" stroke-width="0.85" />
<line x1="653.37" y1="405.6" x2="653.37" y2="401.6" stroke="#000" stroke-width="0.85" />
<line x1="653.37" y1="410.1" x2="653.37" y2="412.7" stroke="#000" stroke-width="0.85" />
<line x1="653.37" y1="444.3" x2="653.37" y2="441.7" stroke="#000" stroke-width="0.85" />
<line x1="662.89" y1="262.1" x2="662.89" y2="264.1" stroke="#000" stroke-width="0.85" />
<line x1="662.89" y1="405.6" x2="662.89" y2="403.6" stroke="#000" stroke-width="0.85" />
<line x1="662.89" y1="410.1" x2="662.89" y2="411.4" stroke="#000" stroke-width="0.85" />
<line x1="662.89" y1="444.3" x2="662.89" y2="443" stroke="#000" stroke-width="0.85" />
<text transform="translate(387 456.7) scale(1 0.94)" font-size="10" text-anchor="middle" >0</text>
<text transform="translate(425.05 456.7) scale(1 0.94)" font-size="10" text-anchor="middle" >20</text>
<text transform="translate(463.11 456.7) scale(1 0.94)" font-size="10" text-anchor="middle" >40</text>
<text transform="translate(501.16 456.7) scale(1 0.94)" font-size="10" text-anchor="middle" >60</text>
<text transform="translate(539.21 456.7) scale(1 0.94)" font-size="10" text-anchor="middle" >80</text>
<text transform="translate(577.27 456.7) scale(1 0.94)" font-size="10" text-anchor="middle" >100</text>
<text transform="translate(615.32 456.7) scale(1 0.94)" font-size="10" text-anchor="middle" >120</text>
<text transform="translate(653.37 456.7) scale(1 0.94)" font-size="10" text-anchor="middle" >140</text>
<line x1="387" y1="401.91" x2="391.3" y2="401.91" stroke="#000" stroke-width="0.85" />
<line x1="672.4" y1="401.91" x2="668.1" y2="401.91" stroke="#000" stroke-width="0.85" />
<line x1="387" y1="398.21" x2="391.3" y2="398.21" stroke="#000" stroke-width="0.85" />
<line x1="672.4" y1="398.21" x2="668.1" y2="398.21" stroke="#000" stroke-width="0.85" />
<line x1="387" y1="394.52" x2="391.3" y2="394.52" stroke="#000" stroke-width="0.85" />
<line x1="672.4" y1="394.52" x2="668.1" y2="394.52" stroke="#000" stroke-width="0.85" />
<line x1="387" y1="390.83" x2="391.3" y2="390.83" stroke="#000" stroke-width="0.85" />
<line x1="672.4" y1="390.83" x2="668.1" y2="390.83" stroke="#000" stroke-width="0.85" />
<line x1="387" y1="387.13" x2="395.5" y2="387.13" stroke="#000" stroke-width="0.85" />
<line x1="672.4" y1="387.13" x2="663.9" y2="387.13" stroke="#000" stroke-width="0.85" />
<line x1="387" y1="383.44" x2="391.3" y2="383.44" stroke="#000" stroke-width="0.85" />
<line x1="672.4" y1="383.44" x2="668.1" y2="383.44" stroke="#000" stroke-width="0.85" />
<line x1="387" y1="379.74" x2="391.3" y2="379.74" stroke="#000" stroke-width="0.85" />
<line x1="672.4" y1="379.74" x2="668.1" y2="379.74" stroke="#000" stroke-width="0.85" />
<line x1="387" y1="376.05" x2="391.3" y2="376.05" stroke="#000" stroke-width="0.85" />
<line x1="672.4" y1="376.05" x2="668.1" y2="376.05" stroke="#000" stroke-width="0.85" />
<line x1="387" y1="372.36" x2="391.3" y2="372.36" stroke="#000" stroke-width="0.85" />
<line x1="672.4" y1="372.36" x2="668.1" y2="372.36" stroke="#000" stroke-width="0.85" />
<line x1="387" y1="368.66" x2="395.5" y2="368.66" stroke="#000" stroke-width="0.85" />
<line x1="672.4" y1="368.66" x2="663.9" y2="368.66" stroke="#000" stroke-width="0.85" />
<line x1="387" y1="364.97" x2="391.3" y2="364.97" stroke="#000" stroke-width="0.85" />
<line x1="672.4" y1="364.97" x2="668.1" y2="364.97" stroke="#000" stroke-width="0.85" />
<line x1="387" y1="361.28" x2="391.3" y2="361.28" stroke="#000" stroke-width="0.85" />
<line x1="672.4" y1="361.28" x2="668.1" y2="361.28" stroke="#000" stroke-width="0.85" />
<line x1="387" y1="357.58" x2="391.3" y2="357.58" stroke="#000" stroke-width="0.85" />
<line x1="672.4" y1="357.58" x2="668.1" y2="357.58" stroke="#000" stroke-width="0.85" />
<line x1="387" y1="353.89" x2="391.3" y2="353.89" stroke="#000" stroke-width="0.85" />
<line x1="672.4" y1="353.89" x2="668.1" y2="353.89" stroke="#000" stroke-width="0.85" />
<line x1="387" y1="350.19" x2="395.5" y2="350.19" stroke="#000" stroke-width="0.85" />
<line x1="672.4" y1="350.19" x2="663.9" y2="350.19" stroke="#000" stroke-width="0.85" />
<line x1="387" y1="346.5" x2="391.3" y2="346.5" stroke="#000" stroke-width="0.85" />
<line x1="672.4" y1="346.5" x2="668.1" y2="346.5" stroke="#000" stroke-width="0.85" />
<line x1="387" y1="342.81" x2="391.3" y2="342.81" stroke="#000" stroke-width="0.85" />
<line x1="672.4" y1="342.81" x2="668.1" y2="342.81" stroke="#000" stroke-width="0.85" />
<line x1="387" y1="339.11" x2="391.3" y2="339.11" stroke="#000" stroke-width="0.85" />
<line x1="672.4" y1="339.11" x2="668.1" y2="339.11" stroke="#000" stroke-width="0.85" />
<line x1="387" y1="335.42" x2="391.3" y2="335.42" stroke="#000" stroke-width="0.85" />
<line x1="672.4" y1="335.42" x2="668.1" y2="335.42" stroke="#000" stroke-width="0.85" />
<line x1="387" y1="331.73" x2="395.5" y2="331.73" stroke="#000" stroke-width="0.85" />
<line x1="672.4" y1="331.73" x2="663.9" y2="331.73" stroke="#000" stroke-width="0.85" />
<line x1="387" y1="328.03" x2="391.3" y2="328.03" stroke="#000" stroke-width="0.85" />
<line x1="672.4" y1="328.03" x2="668.1" y2="328.03" stroke="#000" stroke-width="0.85" />
<line x1="387" y1="324.34" x2="391.3" y2="324.34" stroke="#000" stroke-width="0.85" />
<line x1="672.4" y1="324.34" x2="668.1" y2="324.34" stroke="#000" stroke-width="0.85" />
<line x1="387" y1="320.65" x2="391.3" y2="320.65" stroke="#000" stroke-width="0.85" />
<line x1="672.4" y1="320.65" x2="668.1" y2="320.65" stroke="#000" stroke-width="0.85" />
<line x1="387" y1="316.95" x2="391.3" y2="316.95" stroke="#000" stroke-width="0.85" />
<line x1="672.4" y1="316.95" x2="668.1" y2="316.95" stroke="#000" stroke-width="0.85" />
<line x1="387" y1="313.26" x2="395.5" y2="313.26" stroke="#000" stroke-width="0.85" />
<line x1="672.4" y1="313.26" x2="663.9" y2="313.26" stroke="#000" stroke-width="0.85" />
<line x1="387" y1="309.56" x2="391.3" y2="309.56" stroke="#000" stroke-width="0.85" />
<line x1="672.4" y1="309.56" x2="668.1" y2="309.56" stroke="#000" stroke-width="0.85" />
<line x1="387" y1="305.87" x2="391.3" y2="305.87" stroke="#000" stroke-width="0.85" />
<line x1="672.4" y1="305.87" x2="668.1" y2="305.87" stroke="#000" stroke-width="0.85" />
<line x1="387" y1="302.18" x2="391.3" y2="302.18" stroke="#000" stroke-width="0.85" />
<line x1="672.4" y1="302.18" x2="668.1" y2="302.18" stroke="#000" stroke-width="0.85" />
<line x1="387" y1="298.48" x2="391.3" y2="298.48" stroke="#000" stroke-width="0.85" />
<line x1="672.4" y1="298.48" x2="668.1" y2="298.48" stroke="#000" stroke-width="0.85" />
<line x1="387" y1="294.79" x2="395.5" y2="294.79" stroke="#000" stroke-width="0.85" />
<line x1="672.4" y1="294.79" x2="663.9" y2="294.79" stroke="#000" stroke-width="0.85" />
<line x1="387" y1="291.1" x2="391.3" y2="291.1" stroke="#000" stroke-width="0.85" />
<line x1="672.4" y1="291.1" x2="668.1" y2="291.1" stroke="#000" stroke-width="0.85" />
<line x1="387" y1="287.4" x2="391.3" y2="287.4" stroke="#000" stroke-width="0.85" />
<line x1="672.4" y1="287.4" x2="668.1" y2="287.4" stroke="#000" stroke-width="0.85" />
<line x1="387" y1="283.71" x2="391.3" y2="283.71" stroke="#000" stroke-width="0.85" />
<line x1="672.4" y1="283.71" x2="668.1" y2="283.71" stroke="#000" stroke-width="0.85" />
<line x1="387" y1="280.01" x2="391.3" y2="280.01" stroke="#000" stroke-width="0.85" />
<line x1="672.4" y1="280.01" x2="668.1" y2="280.01" stroke="#000" stroke-width="0.85" />
<line x1="387" y1="276.32" x2="395.5" y2="276.32" stroke="#000" stroke-width="0.85" />
<line x1="672.4" y1="276.32" x2="663.9" y2="276.32" stroke="#000" stroke-width="0.85" />
<line x1="387" y1="272.63" x2="391.3" y2="272.63" stroke="#000" stroke-width="0.85" />
<line x1="672.4" y1="272.63" x2="668.1" y2="272.63" stroke="#000" stroke-width="0.85" />
<line x1="387" y1="268.93" x2="391.3" y2="268.93" stroke="#000" stroke-width="0.85" />
<line x1="672.4" y1="268.93" x2="668.1" y2="268.93" stroke="#000" stroke-width="0.85" />
<line x1="387" y1="265.24" x2="391.3" y2="265.24" stroke="#000" stroke-width="0.85" />
<line x1="672.4" y1="265.24" x2="668.1" y2="265.24" stroke="#000" stroke-width="0.85" />
<text transform="translate(383 410.2) scale(1 0.94)" font-size="10" text-anchor="end" >0</text>
<text transform="translate(383 391.73) scale(1 0.94)" font-size="10" text-anchor="end" >10</text>
<text transform="translate(383 373.26) scale(1 0.94)" font-size="10" text-anchor="end" >20</text>
<text transform="translate(383 354.79) scale(1 0.94)" font-size="10" text-anchor="end" >30</text>
<text transform="translate(383 336.33) scale(1 0.94)" font-size="10" text-anchor="end" >40</text>
<text transform="translate(383 317.86) scale(1 0.94)" font-size="10" text-anchor="end" >50</text>
<text transform="translate(383 299.39) scale(1 0.94)" font-size="10" text-anchor="end" >60</text>
<text transform="translate(383 280.92) scale(1 0.94)" font-size="10" text-anchor="end" >70</text>
<text transform="translate(386.5 260.6) scale(1 1)" font-size="10.3" text-anchor="start" >&#215;10</text>
<text transform="translate(404 255.9) scale(1 1)" font-size="6.4" text-anchor="start" >3</text>
<line x1="387" y1="442.26" x2="389" y2="442.26" stroke="#000" stroke-width="0.85" />
<line x1="672.4" y1="442.26" x2="670.4" y2="442.26" stroke="#000" stroke-width="0.85" />
<line x1="387" y1="440.39" x2="389" y2="440.39" stroke="#000" stroke-width="0.85" />
<line x1="672.4" y1="440.39" x2="670.4" y2="440.39" stroke="#000" stroke-width="0.85" />
<line x1="387" y1="438.52" x2="389" y2="438.52" stroke="#000" stroke-width="0.85" />
<line x1="672.4" y1="438.52" x2="670.4" y2="438.52" stroke="#000" stroke-width="0.85" />
<line x1="387" y1="436.65" x2="390.8" y2="436.65" stroke="#000" stroke-width="0.85" />
<line x1="672.4" y1="436.65" x2="668.6" y2="436.65" stroke="#000" stroke-width="0.85" />
<line x1="387" y1="434.78" x2="389" y2="434.78" stroke="#000" stroke-width="0.85" />
<line x1="672.4" y1="434.78" x2="670.4" y2="434.78" stroke="#000" stroke-width="0.85" />
<line x1="387" y1="432.91" x2="389" y2="432.91" stroke="#000" stroke-width="0.85" />
<line x1="672.4" y1="432.91" x2="670.4" y2="432.91" stroke="#000" stroke-width="0.85" />
<line x1="387" y1="431.04" x2="389" y2="431.04" stroke="#000" stroke-width="0.85" />
<line x1="672.4" y1="431.04" x2="670.4" y2="431.04" stroke="#000" stroke-width="0.85" />
<line x1="387" y1="429.17" x2="389" y2="429.17" stroke="#000" stroke-width="0.85" />
<line x1="672.4" y1="429.17" x2="670.4" y2="429.17" stroke="#000" stroke-width="0.85" />
<line x1="387" y1="427.3" x2="390.8" y2="427.3" stroke="#000" stroke-width="0.85" />
<line x1="672.4" y1="427.3" x2="668.6" y2="427.3" stroke="#000" stroke-width="0.85" />
<line x1="387" y1="425.43" x2="389" y2="425.43" stroke="#000" stroke-width="0.85" />
<line x1="672.4" y1="425.43" x2="670.4" y2="425.43" stroke="#000" stroke-width="0.85" />
<line x1="387" y1="423.56" x2="389" y2="423.56" stroke="#000" stroke-width="0.85" />
<line x1="672.4" y1="423.56" x2="670.4" y2="423.56" stroke="#000" stroke-width="0.85" />
<line x1="387" y1="421.69" x2="389" y2="421.69" stroke="#000" stroke-width="0.85" />
<line x1="672.4" y1="421.69" x2="670.4" y2="421.69" stroke="#000" stroke-width="0.85" />
<line x1="387" y1="419.82" x2="389" y2="419.82" stroke="#000" stroke-width="0.85" />
<line x1="672.4" y1="419.82" x2="670.4" y2="419.82" stroke="#000" stroke-width="0.85" />
<line x1="387" y1="417.95" x2="390.8" y2="417.95" stroke="#000" stroke-width="0.85" />
<line x1="672.4" y1="417.95" x2="668.6" y2="417.95" stroke="#000" stroke-width="0.85" />
<line x1="387" y1="416.08" x2="389" y2="416.08" stroke="#000" stroke-width="0.85" />
<line x1="672.4" y1="416.08" x2="670.4" y2="416.08" stroke="#000" stroke-width="0.85" />
<line x1="387" y1="414.21" x2="389" y2="414.21" stroke="#000" stroke-width="0.85" />
<line x1="672.4" y1="414.21" x2="670.4" y2="414.21" stroke="#000" stroke-width="0.85" />
<line x1="387" y1="412.34" x2="389" y2="412.34" stroke="#000" stroke-width="0.85" />
<line x1="672.4" y1="412.34" x2="670.4" y2="412.34" stroke="#000" stroke-width="0.85" />
<text transform="translate(383.5 422.55) scale(1 0.94)" font-size="10" text-anchor="end" >1.05</text>
<text transform="translate(383.5 431.9) scale(1 0.94)" font-size="10" text-anchor="end" >1</text>
<text transform="translate(383.5 441.25) scale(1 0.94)" font-size="10" text-anchor="end" >0.95</text>
<text transform="translate(358.3 262.1) rotate(-90) scale(1 0.96)" font-size="10.2" text-anchor="end">Events / 25 GeV</text>
<text transform="translate(361 426.4) rotate(-90)" font-size="6.5" text-anchor="middle">Data / Pred.</text>
<text transform="translate(398.1 272.6) scale(1 0.9)" font-size="10.4" text-anchor="start" font-weight="bold" font-style="italic">ATLAS</text>
<path d="M399.9 278.9 L399.9 284.1" stroke="#000" stroke-width="1.3" fill="none"/>
<path d="M400.3 283.9 L401.6 275.2 L408 275.2" stroke="#000" stroke-width="0.9" fill="none"/>
<text transform="translate(402.6 283.4) scale(1 1)" font-size="10" text-anchor="start" >s= 8 TeV, <tspan dx="0">20.3 fb</tspan><tspan font-size="6.5" dy="-3.5">-1</tspan></text>
<text transform="translate(396.9 295.4) scale(1 1)" font-size="10" text-anchor="start" >&#8805; 2 b-tags</text>
<text transform="translate(589.4 279.4) scale(1 1)" font-size="10.3" text-anchor="start" >l+jets</text>
<line x1="590.6" y1="288.7" x2="608.4" y2="288.7" stroke="#000" stroke-width="1" />
<circle cx="599.5" cy="288.7" r="2.1" fill="#000"/>
<line x1="599.5" y1="285.7" x2="599.5" y2="291.7" stroke="#000" stroke-width="1" />
<text transform="translate(612 292.5) scale(1 1)" font-size="10.3" text-anchor="start" >Data</text>
<rect x="590.6" y="297.4" width="17.8" height="8.5" fill="#fff" stroke="#000" stroke-width="1" />
<text transform="translate(612 305) scale(1 1)" font-size="10.3" text-anchor="start" >t<tspan>t&#772;</tspan></text>
<rect x="590.6" y="309.8" width="17.8" height="8.5" fill="#ffbf00" stroke="#000" stroke-width="1" />
<text transform="translate(612 317.4) scale(1 1)" font-size="10.3" text-anchor="start" >W+jets</text>
<rect x="590.6" y="322.1" width="17.8" height="8.5" fill="#006eff" stroke="#000" stroke-width="1" />
<text transform="translate(612 329.7) scale(1 1)" font-size="10.3" text-anchor="start" >Others</text>
<rect x="590.6" y="335.7" width="17.8" height="7" fill="url(#hatch)" stroke="none" stroke-width="0" />
<text transform="translate(612 342.2) scale(1 1)" font-size="10.3" text-anchor="start" >Tot. Unc.</text>
<text transform="translate(673.3 471.9) scale(1 0.96)" font-size="13.8" text-anchor="end">p<tspan font-size="8.8" dy="8.8">T,tt&#772;</tspan><tspan dy="-8.8"> [GeV]</tspan></text>
<g clip-path="url(#cm20)">
<path d="M38 654.2 L38 597.7 L38 597.7 L123.62 597.7 L123.62 594.2 L209.24 594.2 L209.24 599.6 L323.4 599.6 L323.4 654.2 Z" fill="#fff" stroke="none"/>
<path d="M38 654.2 L38 637.2 L38 637.2 L123.62 637.2 L123.62 636 L209.24 636 L209.24 639.5 L323.4 639.5 L323.4 654.2 Z" fill="#ffbf00" stroke="none"/>
<path d="M38 654.2 L38 647.4 L38 647.4 L123.62 647.4 L123.62 646.5 L209.24 646.5 L209.24 647.7 L323.4 647.7 L323.4 654.2 Z" fill="#006eff" stroke="none"/>
<path d="M38 654.2 L38 597.7 L38 597.7 L123.62 597.7 L123.62 594.2 L209.24 594.2 L209.24 599.6 L323.4 599.6 L323.4 654.2 Z" fill="none" stroke="#000" stroke-width="1"/>
<path d="M38 654.2 L38 637.2 L38 637.2 L123.62 637.2 L123.62 636 L209.24 636 L209.24 639.5 L323.4 639.5 L323.4 654.2 Z" fill="none" stroke="#000" stroke-width="1"/>
<path d="M38 654.2 L38 647.4 L38 647.4 L123.62 647.4 L123.62 646.5 L209.24 646.5 L209.24 647.7 L323.4 647.7 L323.4 654.2 Z" fill="none" stroke="#000" stroke-width="1"/>
<rect x="38" y="594.1" width="85.62" height="7.2" fill="url(#hatch)" stroke="none" stroke-width="0" />
<rect x="123.62" y="590.4" width="85.62" height="7.6" fill="url(#hatch)" stroke="none" stroke-width="0" />
<rect x="209.24" y="596" width="114.16" height="7.2" fill="url(#hatch)" stroke="none" stroke-width="0" />
<circle cx="80.81" cy="596.3" r="2.4" fill="#000"/>
<circle cx="166.43" cy="592.5" r="2.4" fill="#000"/>
<circle cx="266.32" cy="600.2" r="2.4" fill="#000"/>
</g>
<g clip-path="url(#cr20)">
<rect x="38" y="667.8" width="85.62" height="16" fill="url(#hatch)" stroke="none" stroke-width="0" />
<rect x="123.62" y="667.8" width="85.62" height="16" fill="url(#hatch)" stroke="none" stroke-width="0" />
<rect x="209.24" y="667.8" width="114.16" height="16" fill="url(#hatch)" stroke="none" stroke-width="0" />
<line x1="38" y1="675.85" x2="323.4" y2="675.85" stroke="#222" stroke-width="0.8" stroke-dasharray="2 2"/>
<circle cx="80.81" cy="672.1" r="2.35" fill="#000"/>
<circle cx="166.43" cy="672.1" r="2.35" fill="#000"/>
<circle cx="266.32" cy="677" r="2.35" fill="#000"/>
</g>
<line x1="37.33" y1="510.7" x2="324.07" y2="510.7" stroke="#000" stroke-width="0.95" />
<line x1="37.33" y1="654.2" x2="324.07" y2="654.2" stroke="#000" stroke-width="0.95" />
<line x1="38" y1="510.7" x2="38" y2="654.2" stroke="#000" stroke-width="1.35" />
<line x1="323.4" y1="510.7" x2="323.4" y2="654.2" stroke="#000" stroke-width="1.35" />
<line x1="37.33" y1="658.7" x2="324.07" y2="658.7" stroke="#000" stroke-width="0.95" />
<line x1="37.33" y1="692.9" x2="324.07" y2="692.9" stroke="#000" stroke-width="0.95" />
<line x1="38" y1="658.7" x2="38" y2="692.9" stroke="#000" stroke-width="1.35" />
<line x1="323.4" y1="658.7" x2="323.4" y2="692.9" stroke="#000" stroke-width="1.35" />
<line x1="43.71" y1="510.7" x2="43.71" y2="512.7" stroke="#000" stroke-width="0.85" />
<line x1="43.71" y1="654.2" x2="43.71" y2="652.2" stroke="#000" stroke-width="0.85" />
<line x1="43.71" y1="658.7" x2="43.71" y2="660" stroke="#000" stroke-width="0.85" />
<line x1="43.71" y1="692.9" x2="43.71" y2="691.6" stroke="#000" stroke-width="0.85" />
<line x1="49.42" y1="510.7" x2="49.42" y2="512.7" stroke="#000" stroke-width="0.85" />
<line x1="49.42" y1="654.2" x2="49.42" y2="652.2" stroke="#000" stroke-width="0.85" />
<line x1="49.42" y1="658.7" x2="49.42" y2="660" stroke="#000" stroke-width="0.85" />
<line x1="49.42" y1="692.9" x2="49.42" y2="691.6" stroke="#000" stroke-width="0.85" />
<line x1="55.12" y1="510.7" x2="55.12" y2="512.7" stroke="#000" stroke-width="0.85" />
<line x1="55.12" y1="654.2" x2="55.12" y2="652.2" stroke="#000" stroke-width="0.85" />
<line x1="55.12" y1="658.7" x2="55.12" y2="660" stroke="#000" stroke-width="0.85" />
<line x1="55.12" y1="692.9" x2="55.12" y2="691.6" stroke="#000" stroke-width="0.85" />
<line x1="60.83" y1="510.7" x2="60.83" y2="512.7" stroke="#000" stroke-width="0.85" />
<line x1="60.83" y1="654.2" x2="60.83" y2="652.2" stroke="#000" stroke-width="0.85" />
<line x1="60.83" y1="658.7" x2="60.83" y2="660" stroke="#000" stroke-width="0.85" />
<line x1="60.83" y1="692.9" x2="60.83" y2="691.6" stroke="#000" stroke-width="0.85" />
<line x1="66.54" y1="510.7" x2="66.54" y2="514.7" stroke="#000" stroke-width="0.85" />
<line x1="66.54" y1="654.2" x2="66.54" y2="650.2" stroke="#000" stroke-width="0.85" />
<line x1="66.54" y1="658.7" x2="66.54" y2="661.3" stroke="#000" stroke-width="0.85" />
<line x1="66.54" y1="692.9" x2="66.54" y2="690.3" stroke="#000" stroke-width="0.85" />
<line x1="72.25" y1="510.7" x2="72.25" y2="512.7" stroke="#000" stroke-width="0.85" />
<line x1="72.25" y1="654.2" x2="72.25" y2="652.2" stroke="#000" stroke-width="0.85" />
<line x1="72.25" y1="658.7" x2="72.25" y2="660" stroke="#000" stroke-width="0.85" />
<line x1="72.25" y1="692.9" x2="72.25" y2="691.6" stroke="#000" stroke-width="0.85" />
<line x1="77.96" y1="510.7" x2="77.96" y2="512.7" stroke="#000" stroke-width="0.85" />
<line x1="77.96" y1="654.2" x2="77.96" y2="652.2" stroke="#000" stroke-width="0.85" />
<line x1="77.96" y1="658.7" x2="77.96" y2="660" stroke="#000" stroke-width="0.85" />
<line x1="77.96" y1="692.9" x2="77.96" y2="691.6" stroke="#000" stroke-width="0.85" />
<line x1="83.66" y1="510.7" x2="83.66" y2="512.7" stroke="#000" stroke-width="0.85" />
<line x1="83.66" y1="654.2" x2="83.66" y2="652.2" stroke="#000" stroke-width="0.85" />
<line x1="83.66" y1="658.7" x2="83.66" y2="660" stroke="#000" stroke-width="0.85" />
<line x1="83.66" y1="692.9" x2="83.66" y2="691.6" stroke="#000" stroke-width="0.85" />
<line x1="89.37" y1="510.7" x2="89.37" y2="512.7" stroke="#000" stroke-width="0.85" />
<line x1="89.37" y1="654.2" x2="89.37" y2="652.2" stroke="#000" stroke-width="0.85" />
<line x1="89.37" y1="658.7" x2="89.37" y2="660" stroke="#000" stroke-width="0.85" />
<line x1="89.37" y1="692.9" x2="89.37" y2="691.6" stroke="#000" stroke-width="0.85" />
<line x1="95.08" y1="510.7" x2="95.08" y2="514.7" stroke="#000" stroke-width="0.85" />
<line x1="95.08" y1="654.2" x2="95.08" y2="650.2" stroke="#000" stroke-width="0.85" />
<line x1="95.08" y1="658.7" x2="95.08" y2="661.3" stroke="#000" stroke-width="0.85" />
<line x1="95.08" y1="692.9" x2="95.08" y2="690.3" stroke="#000" stroke-width="0.85" />
<line x1="100.79" y1="510.7" x2="100.79" y2="512.7" stroke="#000" stroke-width="0.85" />
<line x1="100.79" y1="654.2" x2="100.79" y2="652.2" stroke="#000" stroke-width="0.85" />
<line x1="100.79" y1="658.7" x2="100.79" y2="660" stroke="#000" stroke-width="0.85" />
<line x1="100.79" y1="692.9" x2="100.79" y2="691.6" stroke="#000" stroke-width="0.85" />
<line x1="106.5" y1="510.7" x2="106.5" y2="512.7" stroke="#000" stroke-width="0.85" />
<line x1="106.5" y1="654.2" x2="106.5" y2="652.2" stroke="#000" stroke-width="0.85" />
<line x1="106.5" y1="658.7" x2="106.5" y2="660" stroke="#000" stroke-width="0.85" />
<line x1="106.5" y1="692.9" x2="106.5" y2="691.6" stroke="#000" stroke-width="0.85" />
<line x1="112.2" y1="510.7" x2="112.2" y2="512.7" stroke="#000" stroke-width="0.85" />
<line x1="112.2" y1="654.2" x2="112.2" y2="652.2" stroke="#000" stroke-width="0.85" />
<line x1="112.2" y1="658.7" x2="112.2" y2="660" stroke="#000" stroke-width="0.85" />
<line x1="112.2" y1="692.9" x2="112.2" y2="691.6" stroke="#000" stroke-width="0.85" />
<line x1="117.91" y1="510.7" x2="117.91" y2="512.7" stroke="#000" stroke-width="0.85" />
<line x1="117.91" y1="654.2" x2="117.91" y2="652.2" stroke="#000" stroke-width="0.85" />
<line x1="117.91" y1="658.7" x2="117.91" y2="660" stroke="#000" stroke-width="0.85" />
<line x1="117.91" y1="692.9" x2="117.91" y2="691.6" stroke="#000" stroke-width="0.85" />
<line x1="123.62" y1="510.7" x2="123.62" y2="514.7" stroke="#000" stroke-width="0.85" />
<line x1="123.62" y1="654.2" x2="123.62" y2="650.2" stroke="#000" stroke-width="0.85" />
<line x1="123.62" y1="658.7" x2="123.62" y2="661.3" stroke="#000" stroke-width="0.85" />
<line x1="123.62" y1="692.9" x2="123.62" y2="690.3" stroke="#000" stroke-width="0.85" />
<line x1="129.33" y1="510.7" x2="129.33" y2="512.7" stroke="#000" stroke-width="0.85" />
<line x1="129.33" y1="654.2" x2="129.33" y2="652.2" stroke="#000" stroke-width="0.85" />
<line x1="129.33" y1="658.7" x2="129.33" y2="660" stroke="#000" stroke-width="0.85" />
<line x1="129.33" y1="692.9" x2="129.33" y2="691.6" stroke="#000" stroke-width="0.85" />
<line x1="135.04" y1="510.7" x2="135.04" y2="512.7" stroke="#000" stroke-width="0.85" />
<line x1="135.04" y1="654.2" x2="135.04" y2="652.2" stroke="#000" stroke-width="0.85" />
<line x1="135.04" y1="658.7" x2="135.04" y2="660" stroke="#000" stroke-width="0.85" />
<line x1="135.04" y1="692.9" x2="135.04" y2="691.6" stroke="#000" stroke-width="0.85" />
<line x1="140.74" y1="510.7" x2="140.74" y2="512.7" stroke="#000" stroke-width="0.85" />
<line x1="140.74" y1="654.2" x2="140.74" y2="652.2" stroke="#000" stroke-width="0.85" />
<line x1="140.74" y1="658.7" x2="140.74" y2="660" stroke="#000" stroke-width="0.85" />
<line x1="140.74" y1="692.9" x2="140.74" y2="691.6" stroke="#000" stroke-width="0.85" />
<line x1="146.45" y1="510.7" x2="146.45" y2="512.7" stroke="#000" stroke-width="0.85" />
<line x1="146.45" y1="654.2" x2="146.45" y2="652.2" stroke="#000" stroke-width="0.85" />
<line x1="146.45" y1="658.7" x2="146.45" y2="660" stroke="#000" stroke-width="0.85" />
<line x1="146.45" y1="692.9" x2="146.45" y2="691.6" stroke="#000" stroke-width="0.85" />
<line x1="152.16" y1="510.7" x2="152.16" y2="514.7" stroke="#000" stroke-width="0.85" />
<line x1="152.16" y1="654.2" x2="152.16" y2="650.2" stroke="#000" stroke-width="0.85" />
<line x1="152.16" y1="658.7" x2="152.16" y2="661.3" stroke="#000" stroke-width="0.85" />
<line x1="152.16" y1="692.9" x2="152.16" y2="690.3" stroke="#000" stroke-width="0.85" />
<line x1="157.87" y1="510.7" x2="157.87" y2="512.7" stroke="#000" stroke-width="0.85" />
<line x1="157.87" y1="654.2" x2="157.87" y2="652.2" stroke="#000" stroke-width="0.85" />
<line x1="157.87" y1="658.7" x2="157.87" y2="660" stroke="#000" stroke-width="0.85" />
<line x1="157.87" y1="692.9" x2="157.87" y2="691.6" stroke="#000" stroke-width="0.85" />
<line x1="163.58" y1="510.7" x2="163.58" y2="512.7" stroke="#000" stroke-width="0.85" />
<line x1="163.58" y1="654.2" x2="163.58" y2="652.2" stroke="#000" stroke-width="0.85" />
<line x1="163.58" y1="658.7" x2="163.58" y2="660" stroke="#000" stroke-width="0.85" />
<line x1="163.58" y1="692.9" x2="163.58" y2="691.6" stroke="#000" stroke-width="0.85" />
<line x1="169.28" y1="510.7" x2="169.28" y2="512.7" stroke="#000" stroke-width="0.85" />
<line x1="169.28" y1="654.2" x2="169.28" y2="652.2" stroke="#000" stroke-width="0.85" />
<line x1="169.28" y1="658.7" x2="169.28" y2="660" stroke="#000" stroke-width="0.85" />
<line x1="169.28" y1="692.9" x2="169.28" y2="691.6" stroke="#000" stroke-width="0.85" />
<line x1="174.99" y1="510.7" x2="174.99" y2="512.7" stroke="#000" stroke-width="0.85" />
<line x1="174.99" y1="654.2" x2="174.99" y2="652.2" stroke="#000" stroke-width="0.85" />
<line x1="174.99" y1="658.7" x2="174.99" y2="660" stroke="#000" stroke-width="0.85" />
<line x1="174.99" y1="692.9" x2="174.99" y2="691.6" stroke="#000" stroke-width="0.85" />
<line x1="180.7" y1="510.7" x2="180.7" y2="514.7" stroke="#000" stroke-width="0.85" />
<line x1="180.7" y1="654.2" x2="180.7" y2="650.2" stroke="#000" stroke-width="0.85" />
<line x1="180.7" y1="658.7" x2="180.7" y2="661.3" stroke="#000" stroke-width="0.85" />
<line x1="180.7" y1="692.9" x2="180.7" y2="690.3" stroke="#000" stroke-width="0.85" />
<line x1="186.41" y1="510.7" x2="186.41" y2="512.7" stroke="#000" stroke-width="0.85" />
<line x1="186.41" y1="654.2" x2="186.41" y2="652.2" stroke="#000" stroke-width="0.85" />
<line x1="186.41" y1="658.7" x2="186.41" y2="660" stroke="#000" stroke-width="0.85" />
<line x1="186.41" y1="692.9" x2="186.41" y2="691.6" stroke="#000" stroke-width="0.85" />
<line x1="192.12" y1="510.7" x2="192.12" y2="512.7" stroke="#000" stroke-width="0.85" />
<line x1="192.12" y1="654.2" x2="192.12" y2="652.2" stroke="#000" stroke-width="0.85" />
<line x1="192.12" y1="658.7" x2="192.12" y2="660" stroke="#000" stroke-width="0.85" />
<line x1="192.12" y1="692.9" x2="192.12" y2="691.6" stroke="#000" stroke-width="0.85" />
<line x1="197.82" y1="510.7" x2="197.82" y2="512.7" stroke="#000" stroke-width="0.85" />
<line x1="197.82" y1="654.2" x2="197.82" y2="652.2" stroke="#000" stroke-width="0.85" />
<line x1="197.82" y1="658.7" x2="197.82" y2="660" stroke="#000" stroke-width="0.85" />
<line x1="197.82" y1="692.9" x2="197.82" y2="691.6" stroke="#000" stroke-width="0.85" />
<line x1="203.53" y1="510.7" x2="203.53" y2="512.7" stroke="#000" stroke-width="0.85" />
<line x1="203.53" y1="654.2" x2="203.53" y2="652.2" stroke="#000" stroke-width="0.85" />
<line x1="203.53" y1="658.7" x2="203.53" y2="660" stroke="#000" stroke-width="0.85" />
<line x1="203.53" y1="692.9" x2="203.53" y2="691.6" stroke="#000" stroke-width="0.85" />
<line x1="209.24" y1="510.7" x2="209.24" y2="514.7" stroke="#000" stroke-width="0.85" />
<line x1="209.24" y1="654.2" x2="209.24" y2="650.2" stroke="#000" stroke-width="0.85" />
<line x1="209.24" y1="658.7" x2="209.24" y2="661.3" stroke="#000" stroke-width="0.85" />
<line x1="209.24" y1="692.9" x2="209.24" y2="690.3" stroke="#000" stroke-width="0.85" />
<line x1="214.95" y1="510.7" x2="214.95" y2="512.7" stroke="#000" stroke-width="0.85" />
<line x1="214.95" y1="654.2" x2="214.95" y2="652.2" stroke="#000" stroke-width="0.85" />
<line x1="214.95" y1="658.7" x2="214.95" y2="660" stroke="#000" stroke-width="0.85" />
<line x1="214.95" y1="692.9" x2="214.95" y2="691.6" stroke="#000" stroke-width="0.85" />
<line x1="220.66" y1="510.7" x2="220.66" y2="512.7" stroke="#000" stroke-width="0.85" />
<line x1="220.66" y1="654.2" x2="220.66" y2="652.2" stroke="#000" stroke-width="0.85" />
<line x1="220.66" y1="658.7" x2="220.66" y2="660" stroke="#000" stroke-width="0.85" />
<line x1="220.66" y1="692.9" x2="220.66" y2="691.6" stroke="#000" stroke-width="0.85" />
<line x1="226.36" y1="510.7" x2="226.36" y2="512.7" stroke="#000" stroke-width="0.85" />
<line x1="226.36" y1="654.2" x2="226.36" y2="652.2" stroke="#000" stroke-width="0.85" />
<line x1="226.36" y1="658.7" x2="226.36" y2="660" stroke="#000" stroke-width="0.85" />
<line x1="226.36" y1="692.9" x2="226.36" y2="691.6" stroke="#000" stroke-width="0.85" />
<line x1="232.07" y1="510.7" x2="232.07" y2="512.7" stroke="#000" stroke-width="0.85" />
<line x1="232.07" y1="654.2" x2="232.07" y2="652.2" stroke="#000" stroke-width="0.85" />
<line x1="232.07" y1="658.7" x2="232.07" y2="660" stroke="#000" stroke-width="0.85" />
<line x1="232.07" y1="692.9" x2="232.07" y2="691.6" stroke="#000" stroke-width="0.85" />
<line x1="237.78" y1="510.7" x2="237.78" y2="514.7" stroke="#000" stroke-width="0.85" />
<line x1="237.78" y1="654.2" x2="237.78" y2="650.2" stroke="#000" stroke-width="0.85" />
<line x1="237.78" y1="658.7" x2="237.78" y2="661.3" stroke="#000" stroke-width="0.85" />
<line x1="237.78" y1="692.9" x2="237.78" y2="690.3" stroke="#000" stroke-width="0.85" />
<line x1="243.49" y1="510.7" x2="243.49" y2="512.7" stroke="#000" stroke-width="0.85" />
<line x1="243.49" y1="654.2" x2="243.49" y2="652.2" stroke="#000" stroke-width="0.85" />
<line x1="243.49" y1="658.7" x2="243.49" y2="660" stroke="#000" stroke-width="0.85" />
<line x1="243.49" y1="692.9" x2="243.49" y2="691.6" stroke="#000" stroke-width="0.85" />
<line x1="249.2" y1="510.7" x2="249.2" y2="512.7" stroke="#000" stroke-width="0.85" />
<line x1="249.2" y1="654.2" x2="249.2" y2="652.2" stroke="#000" stroke-width="0.85" />
<line x1="249.2" y1="658.7" x2="249.2" y2="660" stroke="#000" stroke-width="0.85" />
<line x1="249.2" y1="692.9" x2="249.2" y2="691.6" stroke="#000" stroke-width="0.85" />
<line x1="254.9" y1="510.7" x2="254.9" y2="512.7" stroke="#000" stroke-width="0.85" />
<line x1="254.9" y1="654.2" x2="254.9" y2="652.2" stroke="#000" stroke-width="0.85" />
<line x1="254.9" y1="658.7" x2="254.9" y2="660" stroke="#000" stroke-width="0.85" />
<line x1="254.9" y1="692.9" x2="254.9" y2="691.6" stroke="#000" stroke-width="0.85" />
<line x1="260.61" y1="510.7" x2="260.61" y2="512.7" stroke="#000" stroke-width="0.85" />
<line x1="260.61" y1="654.2" x2="260.61" y2="652.2" stroke="#000" stroke-width="0.85" />
<line x1="260.61" y1="658.7" x2="260.61" y2="660" stroke="#000" stroke-width="0.85" />
<line x1="260.61" y1="692.9" x2="260.61" y2="691.6" stroke="#000" stroke-width="0.85" />
<line x1="266.32" y1="510.7" x2="266.32" y2="514.7" stroke="#000" stroke-width="0.85" />
<line x1="266.32" y1="654.2" x2="266.32" y2="650.2" stroke="#000" stroke-width="0.85" />
<line x1="266.32" y1="658.7" x2="266.32" y2="661.3" stroke="#000" stroke-width="0.85" />
<line x1="266.32" y1="692.9" x2="266.32" y2="690.3" stroke="#000" stroke-width="0.85" />
<line x1="272.03" y1="510.7" x2="272.03" y2="512.7" stroke="#000" stroke-width="0.85" />
<line x1="272.03" y1="654.2" x2="272.03" y2="652.2" stroke="#000" stroke-width="0.85" />
<line x1="272.03" y1="658.7" x2="272.03" y2="660" stroke="#000" stroke-width="0.85" />
<line x1="272.03" y1="692.9" x2="272.03" y2="691.6" stroke="#000" stroke-width="0.85" />
<line x1="277.74" y1="510.7" x2="277.74" y2="512.7" stroke="#000" stroke-width="0.85" />
<line x1="277.74" y1="654.2" x2="277.74" y2="652.2" stroke="#000" stroke-width="0.85" />
<line x1="277.74" y1="658.7" x2="277.74" y2="660" stroke="#000" stroke-width="0.85" />
<line x1="277.74" y1="692.9" x2="277.74" y2="691.6" stroke="#000" stroke-width="0.85" />
<line x1="283.44" y1="510.7" x2="283.44" y2="512.7" stroke="#000" stroke-width="0.85" />
<line x1="283.44" y1="654.2" x2="283.44" y2="652.2" stroke="#000" stroke-width="0.85" />
<line x1="283.44" y1="658.7" x2="283.44" y2="660" stroke="#000" stroke-width="0.85" />
<line x1="283.44" y1="692.9" x2="283.44" y2="691.6" stroke="#000" stroke-width="0.85" />
<line x1="289.15" y1="510.7" x2="289.15" y2="512.7" stroke="#000" stroke-width="0.85" />
<line x1="289.15" y1="654.2" x2="289.15" y2="652.2" stroke="#000" stroke-width="0.85" />
<line x1="289.15" y1="658.7" x2="289.15" y2="660" stroke="#000" stroke-width="0.85" />
<line x1="289.15" y1="692.9" x2="289.15" y2="691.6" stroke="#000" stroke-width="0.85" />
<line x1="294.86" y1="510.7" x2="294.86" y2="514.7" stroke="#000" stroke-width="0.85" />
<line x1="294.86" y1="654.2" x2="294.86" y2="650.2" stroke="#000" stroke-width="0.85" />
<line x1="294.86" y1="658.7" x2="294.86" y2="661.3" stroke="#000" stroke-width="0.85" />
<line x1="294.86" y1="692.9" x2="294.86" y2="690.3" stroke="#000" stroke-width="0.85" />
<line x1="300.57" y1="510.7" x2="300.57" y2="512.7" stroke="#000" stroke-width="0.85" />
<line x1="300.57" y1="654.2" x2="300.57" y2="652.2" stroke="#000" stroke-width="0.85" />
<line x1="300.57" y1="658.7" x2="300.57" y2="660" stroke="#000" stroke-width="0.85" />
<line x1="300.57" y1="692.9" x2="300.57" y2="691.6" stroke="#000" stroke-width="0.85" />
<line x1="306.28" y1="510.7" x2="306.28" y2="512.7" stroke="#000" stroke-width="0.85" />
<line x1="306.28" y1="654.2" x2="306.28" y2="652.2" stroke="#000" stroke-width="0.85" />
<line x1="306.28" y1="658.7" x2="306.28" y2="660" stroke="#000" stroke-width="0.85" />
<line x1="306.28" y1="692.9" x2="306.28" y2="691.6" stroke="#000" stroke-width="0.85" />
<line x1="311.98" y1="510.7" x2="311.98" y2="512.7" stroke="#000" stroke-width="0.85" />
<line x1="311.98" y1="654.2" x2="311.98" y2="652.2" stroke="#000" stroke-width="0.85" />
<line x1="311.98" y1="658.7" x2="311.98" y2="660" stroke="#000" stroke-width="0.85" />
<line x1="311.98" y1="692.9" x2="311.98" y2="691.6" stroke="#000" stroke-width="0.85" />
<line x1="317.69" y1="510.7" x2="317.69" y2="512.7" stroke="#000" stroke-width="0.85" />
<line x1="317.69" y1="654.2" x2="317.69" y2="652.2" stroke="#000" stroke-width="0.85" />
<line x1="317.69" y1="658.7" x2="317.69" y2="660" stroke="#000" stroke-width="0.85" />
<line x1="317.69" y1="692.9" x2="317.69" y2="691.6" stroke="#000" stroke-width="0.85" />
<text transform="translate(38 705.3) scale(1 0.94)" font-size="10" text-anchor="middle" >0</text>
<text transform="translate(66.54 705.3) scale(1 0.94)" font-size="10" text-anchor="middle" >0.1</text>
<text transform="translate(95.08 705.3) scale(1 0.94)" font-size="10" text-anchor="middle" >0.2</text>
<text transform="translate(123.62 705.3) scale(1 0.94)" font-size="10" text-anchor="middle" >0.3</text>
<text transform="translate(152.16 705.3) scale(1 0.94)" font-size="10" text-anchor="middle" >0.4</text>
<text transform="translate(180.7 705.3) scale(1 0.94)" font-size="10" text-anchor="middle" >0.5</text>
<text transform="translate(209.24 705.3) scale(1 0.94)" font-size="10" text-anchor="middle" >0.6</text>
<text transform="translate(237.78 705.3) scale(1 0.94)" font-size="10" text-anchor="middle" >0.7</text>
<text transform="translate(266.32 705.3) scale(1 0.94)" font-size="10" text-anchor="middle" >0.8</text>
<text transform="translate(294.86 705.3) scale(1 0.94)" font-size="10" text-anchor="middle" >0.9</text>
<text transform="translate(323.4 705.3) scale(1 0.94)" font-size="10" text-anchor="middle" >1</text>
<line x1="38" y1="650.65" x2="42.3" y2="650.65" stroke="#000" stroke-width="0.85" />
<line x1="323.4" y1="650.65" x2="319.1" y2="650.65" stroke="#000" stroke-width="0.85" />
<line x1="38" y1="647.09" x2="42.3" y2="647.09" stroke="#000" stroke-width="0.85" />
<line x1="323.4" y1="647.09" x2="319.1" y2="647.09" stroke="#000" stroke-width="0.85" />
<line x1="38" y1="643.54" x2="42.3" y2="643.54" stroke="#000" stroke-width="0.85" />
<line x1="323.4" y1="643.54" x2="319.1" y2="643.54" stroke="#000" stroke-width="0.85" />
<line x1="38" y1="639.98" x2="42.3" y2="639.98" stroke="#000" stroke-width="0.85" />
<line x1="323.4" y1="639.98" x2="319.1" y2="639.98" stroke="#000" stroke-width="0.85" />
<line x1="38" y1="636.43" x2="46.5" y2="636.43" stroke="#000" stroke-width="0.85" />
<line x1="323.4" y1="636.43" x2="314.9" y2="636.43" stroke="#000" stroke-width="0.85" />
<line x1="38" y1="632.87" x2="42.3" y2="632.87" stroke="#000" stroke-width="0.85" />
<line x1="323.4" y1="632.87" x2="319.1" y2="632.87" stroke="#000" stroke-width="0.85" />
<line x1="38" y1="629.32" x2="42.3" y2="629.32" stroke="#000" stroke-width="0.85" />
<line x1="323.4" y1="629.32" x2="319.1" y2="629.32" stroke="#000" stroke-width="0.85" />
<line x1="38" y1="625.77" x2="42.3" y2="625.77" stroke="#000" stroke-width="0.85" />
<line x1="323.4" y1="625.77" x2="319.1" y2="625.77" stroke="#000" stroke-width="0.85" />
<line x1="38" y1="622.21" x2="42.3" y2="622.21" stroke="#000" stroke-width="0.85" />
<line x1="323.4" y1="622.21" x2="319.1" y2="622.21" stroke="#000" stroke-width="0.85" />
<line x1="38" y1="618.66" x2="46.5" y2="618.66" stroke="#000" stroke-width="0.85" />
<line x1="323.4" y1="618.66" x2="314.9" y2="618.66" stroke="#000" stroke-width="0.85" />
<line x1="38" y1="615.1" x2="42.3" y2="615.1" stroke="#000" stroke-width="0.85" />
<line x1="323.4" y1="615.1" x2="319.1" y2="615.1" stroke="#000" stroke-width="0.85" />
<line x1="38" y1="611.55" x2="42.3" y2="611.55" stroke="#000" stroke-width="0.85" />
<line x1="323.4" y1="611.55" x2="319.1" y2="611.55" stroke="#000" stroke-width="0.85" />
<line x1="38" y1="608" x2="42.3" y2="608" stroke="#000" stroke-width="0.85" />
<line x1="323.4" y1="608" x2="319.1" y2="608" stroke="#000" stroke-width="0.85" />
<line x1="38" y1="604.44" x2="42.3" y2="604.44" stroke="#000" stroke-width="0.85" />
<line x1="323.4" y1="604.44" x2="319.1" y2="604.44" stroke="#000" stroke-width="0.85" />
<line x1="38" y1="600.89" x2="46.5" y2="600.89" stroke="#000" stroke-width="0.85" />
<line x1="323.4" y1="600.89" x2="314.9" y2="600.89" stroke="#000" stroke-width="0.85" />
<line x1="38" y1="597.33" x2="42.3" y2="597.33" stroke="#000" stroke-width="0.85" />
<line x1="323.4" y1="597.33" x2="319.1" y2="597.33" stroke="#000" stroke-width="0.85" />
<line x1="38" y1="593.78" x2="42.3" y2="593.78" stroke="#000" stroke-width="0.85" />
<line x1="323.4" y1="593.78" x2="319.1" y2="593.78" stroke="#000" stroke-width="0.85" />
<line x1="38" y1="590.22" x2="42.3" y2="590.22" stroke="#000" stroke-width="0.85" />
<line x1="323.4" y1="590.22" x2="319.1" y2="590.22" stroke="#000" stroke-width="0.85" />
<line x1="38" y1="586.67" x2="42.3" y2="586.67" stroke="#000" stroke-width="0.85" />
<line x1="323.4" y1="586.67" x2="319.1" y2="586.67" stroke="#000" stroke-width="0.85" />
<line x1="38" y1="583.12" x2="46.5" y2="583.12" stroke="#000" stroke-width="0.85" />
<line x1="323.4" y1="583.12" x2="314.9" y2="583.12" stroke="#000" stroke-width="0.85" />
<line x1="38" y1="579.56" x2="42.3" y2="579.56" stroke="#000" stroke-width="0.85" />
<line x1="323.4" y1="579.56" x2="319.1" y2="579.56" stroke="#000" stroke-width="0.85" />
<line x1="38" y1="576.01" x2="42.3" y2="576.01" stroke="#000" stroke-width="0.85" />
<line x1="323.4" y1="576.01" x2="319.1" y2="576.01" stroke="#000" stroke-width="0.85" />
<line x1="38" y1="572.45" x2="42.3" y2="572.45" stroke="#000" stroke-width="0.85" />
<line x1="323.4" y1="572.45" x2="319.1" y2="572.45" stroke="#000" stroke-width="0.85" />
<line x1="38" y1="568.9" x2="42.3" y2="568.9" stroke="#000" stroke-width="0.85" />
<line x1="323.4" y1="568.9" x2="319.1" y2="568.9" stroke="#000" stroke-width="0.85" />
<line x1="38" y1="565.35" x2="46.5" y2="565.35" stroke="#000" stroke-width="0.85" />
<line x1="323.4" y1="565.35" x2="314.9" y2="565.35" stroke="#000" stroke-width="0.85" />
<line x1="38" y1="561.79" x2="42.3" y2="561.79" stroke="#000" stroke-width="0.85" />
<line x1="323.4" y1="561.79" x2="319.1" y2="561.79" stroke="#000" stroke-width="0.85" />
<line x1="38" y1="558.24" x2="42.3" y2="558.24" stroke="#000" stroke-width="0.85" />
<line x1="323.4" y1="558.24" x2="319.1" y2="558.24" stroke="#000" stroke-width="0.85" />
<line x1="38" y1="554.68" x2="42.3" y2="554.68" stroke="#000" stroke-width="0.85" />
<line x1="323.4" y1="554.68" x2="319.1" y2="554.68" stroke="#000" stroke-width="0.85" />
<line x1="38" y1="551.13" x2="42.3" y2="551.13" stroke="#000" stroke-width="0.85" />
<line x1="323.4" y1="551.13" x2="319.1" y2="551.13" stroke="#000" stroke-width="0.85" />
<line x1="38" y1="547.57" x2="46.5" y2="547.57" stroke="#000" stroke-width="0.85" />
<line x1="323.4" y1="547.57" x2="314.9" y2="547.57" stroke="#000" stroke-width="0.85" />
<line x1="38" y1="544.02" x2="42.3" y2="544.02" stroke="#000" stroke-width="0.85" />
<line x1="323.4" y1="544.02" x2="319.1" y2="544.02" stroke="#000" stroke-width="0.85" />
<line x1="38" y1="540.47" x2="42.3" y2="540.47" stroke="#000" stroke-width="0.85" />
<line x1="323.4" y1="540.47" x2="319.1" y2="540.47" stroke="#000" stroke-width="0.85" />
<line x1="38" y1="536.91" x2="42.3" y2="536.91" stroke="#000" stroke-width="0.85" />
<line x1="323.4" y1="536.91" x2="319.1" y2="536.91" stroke="#000" stroke-width="0.85" />
<line x1="38" y1="533.36" x2="42.3" y2="533.36" stroke="#000" stroke-width="0.85" />
<line x1="323.4" y1="533.36" x2="319.1" y2="533.36" stroke="#000" stroke-width="0.85" />
<line x1="38" y1="529.8" x2="46.5" y2="529.8" stroke="#000" stroke-width="0.85" />
<line x1="323.4" y1="529.8" x2="314.9" y2="529.8" stroke="#000" stroke-width="0.85" />
<line x1="38" y1="526.25" x2="42.3" y2="526.25" stroke="#000" stroke-width="0.85" />
<line x1="323.4" y1="526.25" x2="319.1" y2="526.25" stroke="#000" stroke-width="0.85" />
<line x1="38" y1="522.7" x2="42.3" y2="522.7" stroke="#000" stroke-width="0.85" />
<line x1="323.4" y1="522.7" x2="319.1" y2="522.7" stroke="#000" stroke-width="0.85" />
<line x1="38" y1="519.14" x2="42.3" y2="519.14" stroke="#000" stroke-width="0.85" />
<line x1="323.4" y1="519.14" x2="319.1" y2="519.14" stroke="#000" stroke-width="0.85" />
<line x1="38" y1="515.59" x2="42.3" y2="515.59" stroke="#000" stroke-width="0.85" />
<line x1="323.4" y1="515.59" x2="319.1" y2="515.59" stroke="#000" stroke-width="0.85" />
<line x1="38" y1="512.03" x2="46.5" y2="512.03" stroke="#000" stroke-width="0.85" />
<line x1="323.4" y1="512.03" x2="314.9" y2="512.03" stroke="#000" stroke-width="0.85" />
<text transform="translate(34 658.8) scale(1 0.94)" font-size="10" text-anchor="end" >0</text>
<text transform="translate(34 641.03) scale(1 0.94)" font-size="10" text-anchor="end" >20</text>
<text transform="translate(34 623.26) scale(1 0.94)" font-size="10" text-anchor="end" >40</text>
<text transform="translate(34 605.49) scale(1 0.94)" font-size="10" text-anchor="end" >60</text>
<text transform="translate(34 587.72) scale(1 0.94)" font-size="10" text-anchor="end" >80</text>
<text transform="translate(34 569.95) scale(1 0.94)" font-size="10" text-anchor="end" >100</text>
<text transform="translate(34 552.17) scale(1 0.94)" font-size="10" text-anchor="end" >120</text>
<text transform="translate(34 534.4) scale(1 0.94)" font-size="10" text-anchor="end" >140</text>
<text transform="translate(34 516.63) scale(1 0.94)" font-size="10" text-anchor="end" >160</text>
<text transform="translate(37.5 509.2) scale(1 1)" font-size="10.3" text-anchor="start" >&#215;10</text>
<text transform="translate(55 504.5) scale(1 1)" font-size="6.4" text-anchor="start" >3</text>
<line x1="38" y1="691.88" x2="40" y2="691.88" stroke="#000" stroke-width="0.85" />
<line x1="323.4" y1="691.88" x2="321.4" y2="691.88" stroke="#000" stroke-width="0.85" />
<line x1="38" y1="689.59" x2="40" y2="689.59" stroke="#000" stroke-width="0.85" />
<line x1="323.4" y1="689.59" x2="321.4" y2="689.59" stroke="#000" stroke-width="0.85" />
<line x1="38" y1="687.3" x2="41.8" y2="687.3" stroke="#000" stroke-width="0.85" />
<line x1="323.4" y1="687.3" x2="319.6" y2="687.3" stroke="#000" stroke-width="0.85" />
<line x1="38" y1="685.01" x2="40" y2="685.01" stroke="#000" stroke-width="0.85" />
<line x1="323.4" y1="685.01" x2="321.4" y2="685.01" stroke="#000" stroke-width="0.85" />
<line x1="38" y1="682.72" x2="40" y2="682.72" stroke="#000" stroke-width="0.85" />
<line x1="323.4" y1="682.72" x2="321.4" y2="682.72" stroke="#000" stroke-width="0.85" />
<line x1="38" y1="680.43" x2="40" y2="680.43" stroke="#000" stroke-width="0.85" />
<line x1="323.4" y1="680.43" x2="321.4" y2="680.43" stroke="#000" stroke-width="0.85" />
<line x1="38" y1="678.14" x2="40" y2="678.14" stroke="#000" stroke-width="0.85" />
<line x1="323.4" y1="678.14" x2="321.4" y2="678.14" stroke="#000" stroke-width="0.85" />
<line x1="38" y1="675.85" x2="41.8" y2="675.85" stroke="#000" stroke-width="0.85" />
<line x1="323.4" y1="675.85" x2="319.6" y2="675.85" stroke="#000" stroke-width="0.85" />
<line x1="38" y1="673.56" x2="40" y2="673.56" stroke="#000" stroke-width="0.85" />
<line x1="323.4" y1="673.56" x2="321.4" y2="673.56" stroke="#000" stroke-width="0.85" />
<line x1="38" y1="671.27" x2="40" y2="671.27" stroke="#000" stroke-width="0.85" />
<line x1="323.4" y1="671.27" x2="321.4" y2="671.27" stroke="#000" stroke-width="0.85" />
<line x1="38" y1="668.98" x2="40" y2="668.98" stroke="#000" stroke-width="0.85" />
<line x1="323.4" y1="668.98" x2="321.4" y2="668.98" stroke="#000" stroke-width="0.85" />
<line x1="38" y1="666.69" x2="40" y2="666.69" stroke="#000" stroke-width="0.85" />
<line x1="323.4" y1="666.69" x2="321.4" y2="666.69" stroke="#000" stroke-width="0.85" />
<line x1="38" y1="664.4" x2="41.8" y2="664.4" stroke="#000" stroke-width="0.85" />
<line x1="323.4" y1="664.4" x2="319.6" y2="664.4" stroke="#000" stroke-width="0.85" />
<line x1="38" y1="662.11" x2="40" y2="662.11" stroke="#000" stroke-width="0.85" />
<line x1="323.4" y1="662.11" x2="321.4" y2="662.11" stroke="#000" stroke-width="0.85" />
<line x1="38" y1="659.82" x2="40" y2="659.82" stroke="#000" stroke-width="0.85" />
<line x1="323.4" y1="659.82" x2="321.4" y2="659.82" stroke="#000" stroke-width="0.85" />
<text transform="translate(34.5 669) scale(1 0.94)" font-size="10" text-anchor="end" >1.1</text>
<text transform="translate(34.5 680.45) scale(1 0.94)" font-size="10" text-anchor="end" >1</text>
<text transform="translate(34.5 691.9) scale(1 0.94)" font-size="10" text-anchor="end" >0.9</text>
<text transform="translate(9.3 510.7) rotate(-90) scale(1 0.96)" font-size="10.2" text-anchor="end">Events / 0.3</text>
<text transform="translate(12 675) rotate(-90)" font-size="6.5" text-anchor="middle">Data / Pred.</text>
<text transform="translate(49.1 521.2) scale(1 0.9)" font-size="10.4" text-anchor="start" font-weight="bold" font-style="italic">ATLAS</text>
<path d="M50.9 527.5 L50.9 532.7" stroke="#000" stroke-width="1.3" fill="none"/>
<path d="M51.3 532.5 L52.6 523.8 L59 523.8" stroke="#000" stroke-width="0.9" fill="none"/>
<text transform="translate(53.6 532) scale(1 1)" font-size="10" text-anchor="start" >s= 8 TeV, <tspan dx="0">20.3 fb</tspan><tspan font-size="6.5" dy="-3.5">-1</tspan></text>
<text transform="translate(47.9 544) scale(1 1)" font-size="10" text-anchor="start" >1 b-tag</text>
<text transform="translate(240.4 528) scale(1 1)" font-size="10.3" text-anchor="start" >l+jets</text>
<line x1="241.6" y1="537.3" x2="259.4" y2="537.3" stroke="#000" stroke-width="1" />
<circle cx="250.5" cy="537.3" r="2.1" fill="#000"/>
<line x1="250.5" y1="534.3" x2="250.5" y2="540.3" stroke="#000" stroke-width="1" />
<text transform="translate(263 541.1) scale(1 1)" font-size="10.3" text-anchor="start" >Data</text>
<rect x="241.6" y="546" width="17.8" height="8.5" fill="#fff" stroke="#000" stroke-width="1" />
<text transform="translate(263 553.6) scale(1 1)" font-size="10.3" text-anchor="start" >t<tspan>t&#772;</tspan></text>
<rect x="241.6" y="558.4" width="17.8" height="8.5" fill="#ffbf00" stroke="#000" stroke-width="1" />
<text transform="translate(263 566) scale(1 1)" font-size="10.3" text-anchor="start" >W+jets</text>
<rect x="241.6" y="570.7" width="17.8" height="8.5" fill="#006eff" stroke="#000" stroke-width="1" />
<text transform="translate(263 578.3) scale(1 1)" font-size="10.3" text-anchor="start" >Others</text>
<rect x="241.6" y="584.3" width="17.8" height="7" fill="url(#hatch)" stroke="none" stroke-width="0" />
<text transform="translate(263 590.8) scale(1 1)" font-size="10.3" text-anchor="start" >Tot. Unc.</text>
<text transform="translate(323.6 722.4) scale(1 0.96)" font-size="13.4" text-anchor="end">&#946;<tspan font-size="9" dy="9.0">z,tt&#772;</tspan></text>
<g clip-path="url(#cm21)">
<path d="M387 654.2 L387 599.2 L387 599.2 L472.62 599.2 L472.62 595.7 L558.24 595.7 L558.24 603.7 L672.4 603.7 L672.4 654.2 Z" fill="#fff" stroke="none"/>
<path d="M387 654.2 L387 649 L387 649 L472.62 649 L472.62 648.7 L558.24 648.7 L558.24 649.7 L672.4 649.7 L672.4 654.2 Z" fill="#ffbf00" stroke="none"/>
<path d="M387 654.2 L387 650.6 L387 650.6 L472.62 650.6 L472.62 650.4 L558.24 650.4 L558.24 651 L672.4 651 L672.4 654.2 Z" fill="#006eff" stroke="none"/>
<path d="M387 654.2 L387 599.2 L387 599.2 L472.62 599.2 L472.62 595.7 L558.24 595.7 L558.24 603.7 L672.4 603.7 L672.4 654.2 Z" fill="none" stroke="#000" stroke-width="1"/>
<path d="M387 654.2 L387 649 L387 649 L472.62 649 L472.62 648.7 L558.24 648.7 L558.24 649.7 L672.4 649.7 L672.4 654.2 Z" fill="none" stroke="#000" stroke-width="1"/>
<path d="M387 654.2 L387 650.6 L387 650.6 L472.62 650.6 L472.62 650.4 L558.24 650.4 L558.24 651 L672.4 651 L672.4 654.2 Z" fill="none" stroke="#000" stroke-width="1"/>
<rect x="387" y="596.7" width="85.62" height="5" fill="url(#hatch)" stroke="none" stroke-width="0" />
<rect x="472.62" y="593.1" width="85.62" height="5.2" fill="url(#hatch)" stroke="none" stroke-width="0" />
<rect x="558.24" y="601.1" width="114.16" height="5.2" fill="url(#hatch)" stroke="none" stroke-width="0" />
<circle cx="429.81" cy="595.4" r="2.4" fill="#000"/>
<circle cx="515.43" cy="592.2" r="2.4" fill="#000"/>
<circle cx="615.32" cy="603.1" r="2.4" fill="#000"/>
</g>
<g clip-path="url(#cr21)">
<rect x="387" y="665.5" width="85.62" height="20.6" fill="url(#hatch)" stroke="none" stroke-width="0" />
<rect x="472.62" y="665.5" width="85.62" height="20.6" fill="url(#hatch)" stroke="none" stroke-width="0" />
<rect x="558.24" y="665.5" width="114.16" height="20.6" fill="url(#hatch)" stroke="none" stroke-width="0" />
<line x1="387" y1="675.6" x2="672.4" y2="675.6" stroke="#222" stroke-width="0.8" stroke-dasharray="2 2"/>
<circle cx="429.81" cy="662" r="2.35" fill="#000"/>
<circle cx="515.43" cy="663.8" r="2.35" fill="#000"/>
<circle cx="615.32" cy="673.2" r="2.35" fill="#000"/>
</g>
<line x1="386.32" y1="510.7" x2="673.07" y2="510.7" stroke="#000" stroke-width="0.95" />
<line x1="386.32" y1="654.2" x2="673.07" y2="654.2" stroke="#000" stroke-width="0.95" />
<line x1="387" y1="510.7" x2="387" y2="654.2" stroke="#000" stroke-width="1.35" />
<line x1="672.4" y1="510.7" x2="672.4" y2="654.2" stroke="#000" stroke-width="1.35" />
<line x1="386.32" y1="658.7" x2="673.07" y2="658.7" stroke="#000" stroke-width="0.95" />
<line x1="386.32" y1="692.9" x2="673.07" y2="692.9" stroke="#000" stroke-width="0.95" />
<line x1="387" y1="658.7" x2="387" y2="692.9" stroke="#000" stroke-width="1.35" />
<line x1="672.4" y1="658.7" x2="672.4" y2="692.9" stroke="#000" stroke-width="1.35" />
<line x1="392.71" y1="510.7" x2="392.71" y2="512.7" stroke="#000" stroke-width="0.85" />
<line x1="392.71" y1="654.2" x2="392.71" y2="652.2" stroke="#000" stroke-width="0.85" />
<line x1="392.71" y1="658.7" x2="392.71" y2="660" stroke="#000" stroke-width="0.85" />
<line x1="392.71" y1="692.9" x2="392.71" y2="691.6" stroke="#000" stroke-width="0.85" />
<line x1="398.42" y1="510.7" x2="398.42" y2="512.7" stroke="#000" stroke-width="0.85" />
<line x1="398.42" y1="654.2" x2="398.42" y2="652.2" stroke="#000" stroke-width="0.85" />
<line x1="398.42" y1="658.7" x2="398.42" y2="660" stroke="#000" stroke-width="0.85" />
<line x1="398.42" y1="692.9" x2="398.42" y2="691.6" stroke="#000" stroke-width="0.85" />
<line x1="404.12" y1="510.7" x2="404.12" y2="512.7" stroke="#000" stroke-width="0.85" />
<line x1="404.12" y1="654.2" x2="404.12" y2="652.2" stroke="#000" stroke-width="0.85" />
<line x1="404.12" y1="658.7" x2="404.12" y2="660" stroke="#000" stroke-width="0.85" />
<line x1="404.12" y1="692.9" x2="404.12" y2="691.6" stroke="#000" stroke-width="0.85" />
<line x1="409.83" y1="510.7" x2="409.83" y2="512.7" stroke="#000" stroke-width="0.85" />
<line x1="409.83" y1="654.2" x2="409.83" y2="652.2" stroke="#000" stroke-width="0.85" />
<line x1="409.83" y1="658.7" x2="409.83" y2="660" stroke="#000" stroke-width="0.85" />
<line x1="409.83" y1="692.9" x2="409.83" y2="691.6" stroke="#000" stroke-width="0.85" />
<line x1="415.54" y1="510.7" x2="415.54" y2="514.7" stroke="#000" stroke-width="0.85" />
<line x1="415.54" y1="654.2" x2="415.54" y2="650.2" stroke="#000" stroke-width="0.85" />
<line x1="415.54" y1="658.7" x2="415.54" y2="661.3" stroke="#000" stroke-width="0.85" />
<line x1="415.54" y1="692.9" x2="415.54" y2="690.3" stroke="#000" stroke-width="0.85" />
<line x1="421.25" y1="510.7" x2="421.25" y2="512.7" stroke="#000" stroke-width="0.85" />
<line x1="421.25" y1="654.2" x2="421.25" y2="652.2" stroke="#000" stroke-width="0.85" />
<line x1="421.25" y1="658.7" x2="421.25" y2="660" stroke="#000" stroke-width="0.85" />
<line x1="421.25" y1="692.9" x2="421.25" y2="691.6" stroke="#000" stroke-width="0.85" />
<line x1="426.96" y1="510.7" x2="426.96" y2="512.7" stroke="#000" stroke-width="0.85" />
<line x1="426.96" y1="654.2" x2="426.96" y2="652.2" stroke="#000" stroke-width="0.85" />
<line x1="426.96" y1="658.7" x2="426.96" y2="660" stroke="#000" stroke-width="0.85" />
<line x1="426.96" y1="692.9" x2="426.96" y2="691.6" stroke="#000" stroke-width="0.85" />
<line x1="432.66" y1="510.7" x2="432.66" y2="512.7" stroke="#000" stroke-width="0.85" />
<line x1="432.66" y1="654.2" x2="432.66" y2="652.2" stroke="#000" stroke-width="0.85" />
<line x1="432.66" y1="658.7" x2="432.66" y2="660" stroke="#000" stroke-width="0.85" />
<line x1="432.66" y1="692.9" x2="432.66" y2="691.6" stroke="#000" stroke-width="0.85" />
<line x1="438.37" y1="510.7" x2="438.37" y2="512.7" stroke="#000" stroke-width="0.85" />
<line x1="438.37" y1="654.2" x2="438.37" y2="652.2" stroke="#000" stroke-width="0.85" />
<line x1="438.37" y1="658.7" x2="438.37" y2="660" stroke="#000" stroke-width="0.85" />
<line x1="438.37" y1="692.9" x2="438.37" y2="691.6" stroke="#000" stroke-width="0.85" />
<line x1="444.08" y1="510.7" x2="444.08" y2="514.7" stroke="#000" stroke-width="0.85" />
<line x1="444.08" y1="654.2" x2="444.08" y2="650.2" stroke="#000" stroke-width="0.85" />
<line x1="444.08" y1="658.7" x2="444.08" y2="661.3" stroke="#000" stroke-width="0.85" />
<line x1="444.08" y1="692.9" x2="444.08" y2="690.3" stroke="#000" stroke-width="0.85" />
<line x1="449.79" y1="510.7" x2="449.79" y2="512.7" stroke="#000" stroke-width="0.85" />
<line x1="449.79" y1="654.2" x2="449.79" y2="652.2" stroke="#000" stroke-width="0.85" />
<line x1="449.79" y1="658.7" x2="449.79" y2="660" stroke="#000" stroke-width="0.85" />
<line x1="449.79" y1="692.9" x2="449.79" y2="691.6" stroke="#000" stroke-width="0.85" />
<line x1="455.5" y1="510.7" x2="455.5" y2="512.7" stroke="#000" stroke-width="0.85" />
<line x1="455.5" y1="654.2" x2="455.5" y2="652.2" stroke="#000" stroke-width="0.85" />
<line x1="455.5" y1="658.7" x2="455.5" y2="660" stroke="#000" stroke-width="0.85" />
<line x1="455.5" y1="692.9" x2="455.5" y2="691.6" stroke="#000" stroke-width="0.85" />
<line x1="461.2" y1="510.7" x2="461.2" y2="512.7" stroke="#000" stroke-width="0.85" />
<line x1="461.2" y1="654.2" x2="461.2" y2="652.2" stroke="#000" stroke-width="0.85" />
<line x1="461.2" y1="658.7" x2="461.2" y2="660" stroke="#000" stroke-width="0.85" />
<line x1="461.2" y1="692.9" x2="461.2" y2="691.6" stroke="#000" stroke-width="0.85" />
<line x1="466.91" y1="510.7" x2="466.91" y2="512.7" stroke="#000" stroke-width="0.85" />
<line x1="466.91" y1="654.2" x2="466.91" y2="652.2" stroke="#000" stroke-width="0.85" />
<line x1="466.91" y1="658.7" x2="466.91" y2="660" stroke="#000" stroke-width="0.85" />
<line x1="466.91" y1="692.9" x2="466.91" y2="691.6" stroke="#000" stroke-width="0.85" />
<line x1="472.62" y1="510.7" x2="472.62" y2="514.7" stroke="#000" stroke-width="0.85" />
<line x1="472.62" y1="654.2" x2="472.62" y2="650.2" stroke="#000" stroke-width="0.85" />
<line x1="472.62" y1="658.7" x2="472.62" y2="661.3" stroke="#000" stroke-width="0.85" />
<line x1="472.62" y1="692.9" x2="472.62" y2="690.3" stroke="#000" stroke-width="0.85" />
<line x1="478.33" y1="510.7" x2="478.33" y2="512.7" stroke="#000" stroke-width="0.85" />
<line x1="478.33" y1="654.2" x2="478.33" y2="652.2" stroke="#000" stroke-width="0.85" />
<line x1="478.33" y1="658.7" x2="478.33" y2="660" stroke="#000" stroke-width="0.85" />
<line x1="478.33" y1="692.9" x2="478.33" y2="691.6" stroke="#000" stroke-width="0.85" />
<line x1="484.04" y1="510.7" x2="484.04" y2="512.7" stroke="#000" stroke-width="0.85" />
<line x1="484.04" y1="654.2" x2="484.04" y2="652.2" stroke="#000" stroke-width="0.85" />
<line x1="484.04" y1="658.7" x2="484.04" y2="660" stroke="#000" stroke-width="0.85" />
<line x1="484.04" y1="692.9" x2="484.04" y2="691.6" stroke="#000" stroke-width="0.85" />
<line x1="489.74" y1="510.7" x2="489.74" y2="512.7" stroke="#000" stroke-width="0.85" />
<line x1="489.74" y1="654.2" x2="489.74" y2="652.2" stroke="#000" stroke-width="0.85" />
<line x1="489.74" y1="658.7" x2="489.74" y2="660" stroke="#000" stroke-width="0.85" />
<line x1="489.74" y1="692.9" x2="489.74" y2="691.6" stroke="#000" stroke-width="0.85" />
<line x1="495.45" y1="510.7" x2="495.45" y2="512.7" stroke="#000" stroke-width="0.85" />
<line x1="495.45" y1="654.2" x2="495.45" y2="652.2" stroke="#000" stroke-width="0.85" />
<line x1="495.45" y1="658.7" x2="495.45" y2="660" stroke="#000" stroke-width="0.85" />
<line x1="495.45" y1="692.9" x2="495.45" y2="691.6" stroke="#000" stroke-width="0.85" />
<line x1="501.16" y1="510.7" x2="501.16" y2="514.7" stroke="#000" stroke-width="0.85" />
<line x1="501.16" y1="654.2" x2="501.16" y2="650.2" stroke="#000" stroke-width="0.85" />
<line x1="501.16" y1="658.7" x2="501.16" y2="661.3" stroke="#000" stroke-width="0.85" />
<line x1="501.16" y1="692.9" x2="501.16" y2="690.3" stroke="#000" stroke-width="0.85" />
<line x1="506.87" y1="510.7" x2="506.87" y2="512.7" stroke="#000" stroke-width="0.85" />
<line x1="506.87" y1="654.2" x2="506.87" y2="652.2" stroke="#000" stroke-width="0.85" />
<line x1="506.87" y1="658.7" x2="506.87" y2="660" stroke="#000" stroke-width="0.85" />
<line x1="506.87" y1="692.9" x2="506.87" y2="691.6" stroke="#000" stroke-width="0.85" />
<line x1="512.58" y1="510.7" x2="512.58" y2="512.7" stroke="#000" stroke-width="0.85" />
<line x1="512.58" y1="654.2" x2="512.58" y2="652.2" stroke="#000" stroke-width="0.85" />
<line x1="512.58" y1="658.7" x2="512.58" y2="660" stroke="#000" stroke-width="0.85" />
<line x1="512.58" y1="692.9" x2="512.58" y2="691.6" stroke="#000" stroke-width="0.85" />
<line x1="518.28" y1="510.7" x2="518.28" y2="512.7" stroke="#000" stroke-width="0.85" />
<line x1="518.28" y1="654.2" x2="518.28" y2="652.2" stroke="#000" stroke-width="0.85" />
<line x1="518.28" y1="658.7" x2="518.28" y2="660" stroke="#000" stroke-width="0.85" />
<line x1="518.28" y1="692.9" x2="518.28" y2="691.6" stroke="#000" stroke-width="0.85" />
<line x1="523.99" y1="510.7" x2="523.99" y2="512.7" stroke="#000" stroke-width="0.85" />
<line x1="523.99" y1="654.2" x2="523.99" y2="652.2" stroke="#000" stroke-width="0.85" />
<line x1="523.99" y1="658.7" x2="523.99" y2="660" stroke="#000" stroke-width="0.85" />
<line x1="523.99" y1="692.9" x2="523.99" y2="691.6" stroke="#000" stroke-width="0.85" />
<line x1="529.7" y1="510.7" x2="529.7" y2="514.7" stroke="#000" stroke-width="0.85" />
<line x1="529.7" y1="654.2" x2="529.7" y2="650.2" stroke="#000" stroke-width="0.85" />
<line x1="529.7" y1="658.7" x2="529.7" y2="661.3" stroke="#000" stroke-width="0.85" />
<line x1="529.7" y1="692.9" x2="529.7" y2="690.3" stroke="#000" stroke-width="0.85" />
<line x1="535.41" y1="510.7" x2="535.41" y2="512.7" stroke="#000" stroke-width="0.85" />
<line x1="535.41" y1="654.2" x2="535.41" y2="652.2" stroke="#000" stroke-width="0.85" />
<line x1="535.41" y1="658.7" x2="535.41" y2="660" stroke="#000" stroke-width="0.85" />
<line x1="535.41" y1="692.9" x2="535.41" y2="691.6" stroke="#000" stroke-width="0.85" />
<line x1="541.12" y1="510.7" x2="541.12" y2="512.7" stroke="#000" stroke-width="0.85" />
<line x1="541.12" y1="654.2" x2="541.12" y2="652.2" stroke="#000" stroke-width="0.85" />
<line x1="541.12" y1="658.7" x2="541.12" y2="660" stroke="#000" stroke-width="0.85" />
<line x1="541.12" y1="692.9" x2="541.12" y2="691.6" stroke="#000" stroke-width="0.85" />
<line x1="546.82" y1="510.7" x2="546.82" y2="512.7" stroke="#000" stroke-width="0.85" />
<line x1="546.82" y1="654.2" x2="546.82" y2="652.2" stroke="#000" stroke-width="0.85" />
<line x1="546.82" y1="658.7" x2="546.82" y2="660" stroke="#000" stroke-width="0.85" />
<line x1="546.82" y1="692.9" x2="546.82" y2="691.6" stroke="#000" stroke-width="0.85" />
<line x1="552.53" y1="510.7" x2="552.53" y2="512.7" stroke="#000" stroke-width="0.85" />
<line x1="552.53" y1="654.2" x2="552.53" y2="652.2" stroke="#000" stroke-width="0.85" />
<line x1="552.53" y1="658.7" x2="552.53" y2="660" stroke="#000" stroke-width="0.85" />
<line x1="552.53" y1="692.9" x2="552.53" y2="691.6" stroke="#000" stroke-width="0.85" />
<line x1="558.24" y1="510.7" x2="558.24" y2="514.7" stroke="#000" stroke-width="0.85" />
<line x1="558.24" y1="654.2" x2="558.24" y2="650.2" stroke="#000" stroke-width="0.85" />
<line x1="558.24" y1="658.7" x2="558.24" y2="661.3" stroke="#000" stroke-width="0.85" />
<line x1="558.24" y1="692.9" x2="558.24" y2="690.3" stroke="#000" stroke-width="0.85" />
<line x1="563.95" y1="510.7" x2="563.95" y2="512.7" stroke="#000" stroke-width="0.85" />
<line x1="563.95" y1="654.2" x2="563.95" y2="652.2" stroke="#000" stroke-width="0.85" />
<line x1="563.95" y1="658.7" x2="563.95" y2="660" stroke="#000" stroke-width="0.85" />
<line x1="563.95" y1="692.9" x2="563.95" y2="691.6" stroke="#000" stroke-width="0.85" />
<line x1="569.66" y1="510.7" x2="569.66" y2="512.7" stroke="#000" stroke-width="0.85" />
<line x1="569.66" y1="654.2" x2="569.66" y2="652.2" stroke="#000" stroke-width="0.85" />
<line x1="569.66" y1="658.7" x2="569.66" y2="660" stroke="#000" stroke-width="0.85" />
<line x1="569.66" y1="692.9" x2="569.66" y2="691.6" stroke="#000" stroke-width="0.85" />
<line x1="575.36" y1="510.7" x2="575.36" y2="512.7" stroke="#000" stroke-width="0.85" />
<line x1="575.36" y1="654.2" x2="575.36" y2="652.2" stroke="#000" stroke-width="0.85" />
<line x1="575.36" y1="658.7" x2="575.36" y2="660" stroke="#000" stroke-width="0.85" />
<line x1="575.36" y1="692.9" x2="575.36" y2="691.6" stroke="#000" stroke-width="0.85" />
<line x1="581.07" y1="510.7" x2="581.07" y2="512.7" stroke="#000" stroke-width="0.85" />
<line x1="581.07" y1="654.2" x2="581.07" y2="652.2" stroke="#000" stroke-width="0.85" />
<line x1="581.07" y1="658.7" x2="581.07" y2="660" stroke="#000" stroke-width="0.85" />
<line x1="581.07" y1="692.9" x2="581.07" y2="691.6" stroke="#000" stroke-width="0.85" />
<line x1="586.78" y1="510.7" x2="586.78" y2="514.7" stroke="#000" stroke-width="0.85" />
<line x1="586.78" y1="654.2" x2="586.78" y2="650.2" stroke="#000" stroke-width="0.85" />
<line x1="586.78" y1="658.7" x2="586.78" y2="661.3" stroke="#000" stroke-width="0.85" />
<line x1="586.78" y1="692.9" x2="586.78" y2="690.3" stroke="#000" stroke-width="0.85" />
<line x1="592.49" y1="510.7" x2="592.49" y2="512.7" stroke="#000" stroke-width="0.85" />
<line x1="592.49" y1="654.2" x2="592.49" y2="652.2" stroke="#000" stroke-width="0.85" />
<line x1="592.49" y1="658.7" x2="592.49" y2="660" stroke="#000" stroke-width="0.85" />
<line x1="592.49" y1="692.9" x2="592.49" y2="691.6" stroke="#000" stroke-width="0.85" />
<line x1="598.2" y1="510.7" x2="598.2" y2="512.7" stroke="#000" stroke-width="0.85" />
<line x1="598.2" y1="654.2" x2="598.2" y2="652.2" stroke="#000" stroke-width="0.85" />
<line x1="598.2" y1="658.7" x2="598.2" y2="660" stroke="#000" stroke-width="0.85" />
<line x1="598.2" y1="692.9" x2="598.2" y2="691.6" stroke="#000" stroke-width="0.85" />
<line x1="603.9" y1="510.7" x2="603.9" y2="512.7" stroke="#000" stroke-width="0.85" />
<line x1="603.9" y1="654.2" x2="603.9" y2="652.2" stroke="#000" stroke-width="0.85" />
<line x1="603.9" y1="658.7" x2="603.9" y2="660" stroke="#000" stroke-width="0.85" />
<line x1="603.9" y1="692.9" x2="603.9" y2="691.6" stroke="#000" stroke-width="0.85" />
<line x1="609.61" y1="510.7" x2="609.61" y2="512.7" stroke="#000" stroke-width="0.85" />
<line x1="609.61" y1="654.2" x2="609.61" y2="652.2" stroke="#000" stroke-width="0.85" />
<line x1="609.61" y1="658.7" x2="609.61" y2="660" stroke="#000" stroke-width="0.85" />
<line x1="609.61" y1="692.9" x2="609.61" y2="691.6" stroke="#000" stroke-width="0.85" />
<line x1="615.32" y1="510.7" x2="615.32" y2="514.7" stroke="#000" stroke-width="0.85" />
<line x1="615.32" y1="654.2" x2="615.32" y2="650.2" stroke="#000" stroke-width="0.85" />
<line x1="615.32" y1="658.7" x2="615.32" y2="661.3" stroke="#000" stroke-width="0.85" />
<line x1="615.32" y1="692.9" x2="615.32" y2="690.3" stroke="#000" stroke-width="0.85" />
<line x1="621.03" y1="510.7" x2="621.03" y2="512.7" stroke="#000" stroke-width="0.85" />
<line x1="621.03" y1="654.2" x2="621.03" y2="652.2" stroke="#000" stroke-width="0.85" />
<line x1="621.03" y1="658.7" x2="621.03" y2="660" stroke="#000" stroke-width="0.85" />
<line x1="621.03" y1="692.9" x2="621.03" y2="691.6" stroke="#000" stroke-width="0.85" />
<line x1="626.74" y1="510.7" x2="626.74" y2="512.7" stroke="#000" stroke-width="0.85" />
<line x1="626.74" y1="654.2" x2="626.74" y2="652.2" stroke="#000" stroke-width="0.85" />
<line x1="626.74" y1="658.7" x2="626.74" y2="660" stroke="#000" stroke-width="0.85" />
<line x1="626.74" y1="692.9" x2="626.74" y2="691.6" stroke="#000" stroke-width="0.85" />
<line x1="632.44" y1="510.7" x2="632.44" y2="512.7" stroke="#000" stroke-width="0.85" />
<line x1="632.44" y1="654.2" x2="632.44" y2="652.2" stroke="#000" stroke-width="0.85" />
<line x1="632.44" y1="658.7" x2="632.44" y2="660" stroke="#000" stroke-width="0.85" />
<line x1="632.44" y1="692.9" x2="632.44" y2="691.6" stroke="#000" stroke-width="0.85" />
<line x1="638.15" y1="510.7" x2="638.15" y2="512.7" stroke="#000" stroke-width="0.85" />
<line x1="638.15" y1="654.2" x2="638.15" y2="652.2" stroke="#000" stroke-width="0.85" />
<line x1="638.15" y1="658.7" x2="638.15" y2="660" stroke="#000" stroke-width="0.85" />
<line x1="638.15" y1="692.9" x2="638.15" y2="691.6" stroke="#000" stroke-width="0.85" />
<line x1="643.86" y1="510.7" x2="643.86" y2="514.7" stroke="#000" stroke-width="0.85" />
<line x1="643.86" y1="654.2" x2="643.86" y2="650.2" stroke="#000" stroke-width="0.85" />
<line x1="643.86" y1="658.7" x2="643.86" y2="661.3" stroke="#000" stroke-width="0.85" />
<line x1="643.86" y1="692.9" x2="643.86" y2="690.3" stroke="#000" stroke-width="0.85" />
<line x1="649.57" y1="510.7" x2="649.57" y2="512.7" stroke="#000" stroke-width="0.85" />
<line x1="649.57" y1="654.2" x2="649.57" y2="652.2" stroke="#000" stroke-width="0.85" />
<line x1="649.57" y1="658.7" x2="649.57" y2="660" stroke="#000" stroke-width="0.85" />
<line x1="649.57" y1="692.9" x2="649.57" y2="691.6" stroke="#000" stroke-width="0.85" />
<line x1="655.28" y1="510.7" x2="655.28" y2="512.7" stroke="#000" stroke-width="0.85" />
<line x1="655.28" y1="654.2" x2="655.28" y2="652.2" stroke="#000" stroke-width="0.85" />
<line x1="655.28" y1="658.7" x2="655.28" y2="660" stroke="#000" stroke-width="0.85" />
<line x1="655.28" y1="692.9" x2="655.28" y2="691.6" stroke="#000" stroke-width="0.85" />
<line x1="660.98" y1="510.7" x2="660.98" y2="512.7" stroke="#000" stroke-width="0.85" />
<line x1="660.98" y1="654.2" x2="660.98" y2="652.2" stroke="#000" stroke-width="0.85" />
<line x1="660.98" y1="658.7" x2="660.98" y2="660" stroke="#000" stroke-width="0.85" />
<line x1="660.98" y1="692.9" x2="660.98" y2="691.6" stroke="#000" stroke-width="0.85" />
<line x1="666.69" y1="510.7" x2="666.69" y2="512.7" stroke="#000" stroke-width="0.85" />
<line x1="666.69" y1="654.2" x2="666.69" y2="652.2" stroke="#000" stroke-width="0.85" />
<line x1="666.69" y1="658.7" x2="666.69" y2="660" stroke="#000" stroke-width="0.85" />
<line x1="666.69" y1="692.9" x2="666.69" y2="691.6" stroke="#000" stroke-width="0.85" />
<text transform="translate(387 705.3) scale(1 0.94)" font-size="10" text-anchor="middle" >0</text>
<text transform="translate(415.54 705.3) scale(1 0.94)" font-size="10" text-anchor="middle" >0.1</text>
<text transform="translate(444.08 705.3) scale(1 0.94)" font-size="10" text-anchor="middle" >0.2</text>
<text transform="translate(472.62 705.3) scale(1 0.94)" font-size="10" text-anchor="middle" >0.3</text>
<text transform="translate(501.16 705.3) scale(1 0.94)" font-size="10" text-anchor="middle" >0.4</text>
<text transform="translate(529.7 705.3) scale(1 0.94)" font-size="10" text-anchor="middle" >0.5</text>
<text transform="translate(558.24 705.3) scale(1 0.94)" font-size="10" text-anchor="middle" >0.6</text>
<text transform="translate(586.78 705.3) scale(1 0.94)" font-size="10" text-anchor="middle" >0.7</text>
<text transform="translate(615.32 705.3) scale(1 0.94)" font-size="10" text-anchor="middle" >0.8</text>
<text transform="translate(643.86 705.3) scale(1 0.94)" font-size="10" text-anchor="middle" >0.9</text>
<text transform="translate(672.4 705.3) scale(1 0.94)" font-size="10" text-anchor="middle" >1</text>
<line x1="387" y1="650.27" x2="391.3" y2="650.27" stroke="#000" stroke-width="0.85" />
<line x1="672.4" y1="650.27" x2="668.1" y2="650.27" stroke="#000" stroke-width="0.85" />
<line x1="387" y1="646.34" x2="391.3" y2="646.34" stroke="#000" stroke-width="0.85" />
<line x1="672.4" y1="646.34" x2="668.1" y2="646.34" stroke="#000" stroke-width="0.85" />
<line x1="387" y1="642.41" x2="391.3" y2="642.41" stroke="#000" stroke-width="0.85" />
<line x1="672.4" y1="642.41" x2="668.1" y2="642.41" stroke="#000" stroke-width="0.85" />
<line x1="387" y1="638.47" x2="391.3" y2="638.47" stroke="#000" stroke-width="0.85" />
<line x1="672.4" y1="638.47" x2="668.1" y2="638.47" stroke="#000" stroke-width="0.85" />
<line x1="387" y1="634.54" x2="395.5" y2="634.54" stroke="#000" stroke-width="0.85" />
<line x1="672.4" y1="634.54" x2="663.9" y2="634.54" stroke="#000" stroke-width="0.85" />
<line x1="387" y1="630.61" x2="391.3" y2="630.61" stroke="#000" stroke-width="0.85" />
<line x1="672.4" y1="630.61" x2="668.1" y2="630.61" stroke="#000" stroke-width="0.85" />
<line x1="387" y1="626.68" x2="391.3" y2="626.68" stroke="#000" stroke-width="0.85" />
<line x1="672.4" y1="626.68" x2="668.1" y2="626.68" stroke="#000" stroke-width="0.85" />
<line x1="387" y1="622.75" x2="391.3" y2="622.75" stroke="#000" stroke-width="0.85" />
<line x1="672.4" y1="622.75" x2="668.1" y2="622.75" stroke="#000" stroke-width="0.85" />
<line x1="387" y1="618.82" x2="391.3" y2="618.82" stroke="#000" stroke-width="0.85" />
<line x1="672.4" y1="618.82" x2="668.1" y2="618.82" stroke="#000" stroke-width="0.85" />
<line x1="387" y1="614.88" x2="395.5" y2="614.88" stroke="#000" stroke-width="0.85" />
<line x1="672.4" y1="614.88" x2="663.9" y2="614.88" stroke="#000" stroke-width="0.85" />
<line x1="387" y1="610.95" x2="391.3" y2="610.95" stroke="#000" stroke-width="0.85" />
<line x1="672.4" y1="610.95" x2="668.1" y2="610.95" stroke="#000" stroke-width="0.85" />
<line x1="387" y1="607.02" x2="391.3" y2="607.02" stroke="#000" stroke-width="0.85" />
<line x1="672.4" y1="607.02" x2="668.1" y2="607.02" stroke="#000" stroke-width="0.85" />
<line x1="387" y1="603.09" x2="391.3" y2="603.09" stroke="#000" stroke-width="0.85" />
<line x1="672.4" y1="603.09" x2="668.1" y2="603.09" stroke="#000" stroke-width="0.85" />
<line x1="387" y1="599.16" x2="391.3" y2="599.16" stroke="#000" stroke-width="0.85" />
<line x1="672.4" y1="599.16" x2="668.1" y2="599.16" stroke="#000" stroke-width="0.85" />
<line x1="387" y1="595.23" x2="395.5" y2="595.23" stroke="#000" stroke-width="0.85" />
<line x1="672.4" y1="595.23" x2="663.9" y2="595.23" stroke="#000" stroke-width="0.85" />
<line x1="387" y1="591.3" x2="391.3" y2="591.3" stroke="#000" stroke-width="0.85" />
<line x1="672.4" y1="591.3" x2="668.1" y2="591.3" stroke="#000" stroke-width="0.85" />
<line x1="387" y1="587.36" x2="391.3" y2="587.36" stroke="#000" stroke-width="0.85" />
<line x1="672.4" y1="587.36" x2="668.1" y2="587.36" stroke="#000" stroke-width="0.85" />
<line x1="387" y1="583.43" x2="391.3" y2="583.43" stroke="#000" stroke-width="0.85" />
<line x1="672.4" y1="583.43" x2="668.1" y2="583.43" stroke="#000" stroke-width="0.85" />
<line x1="387" y1="579.5" x2="391.3" y2="579.5" stroke="#000" stroke-width="0.85" />
<line x1="672.4" y1="579.5" x2="668.1" y2="579.5" stroke="#000" stroke-width="0.85" />
<line x1="387" y1="575.57" x2="395.5" y2="575.57" stroke="#000" stroke-width="0.85" />
<line x1="672.4" y1="575.57" x2="663.9" y2="575.57" stroke="#000" stroke-width="0.85" />
<line x1="387" y1="571.64" x2="391.3" y2="571.64" stroke="#000" stroke-width="0.85" />
<line x1="672.4" y1="571.64" x2="668.1" y2="571.64" stroke="#000" stroke-width="0.85" />
<line x1="387" y1="567.71" x2="391.3" y2="567.71" stroke="#000" stroke-width="0.85" />
<line x1="672.4" y1="567.71" x2="668.1" y2="567.71" stroke="#000" stroke-width="0.85" />
<line x1="387" y1="563.78" x2="391.3" y2="563.78" stroke="#000" stroke-width="0.85" />
<line x1="672.4" y1="563.78" x2="668.1" y2="563.78" stroke="#000" stroke-width="0.85" />
<line x1="387" y1="559.84" x2="391.3" y2="559.84" stroke="#000" stroke-width="0.85" />
<line x1="672.4" y1="559.84" x2="668.1" y2="559.84" stroke="#000" stroke-width="0.85" />
<line x1="387" y1="555.91" x2="395.5" y2="555.91" stroke="#000" stroke-width="0.85" />
<line x1="672.4" y1="555.91" x2="663.9" y2="555.91" stroke="#000" stroke-width="0.85" />
<line x1="387" y1="551.98" x2="391.3" y2="551.98" stroke="#000" stroke-width="0.85" />
<line x1="672.4" y1="551.98" x2="668.1" y2="551.98" stroke="#000" stroke-width="0.85" />
<line x1="387" y1="548.05" x2="391.3" y2="548.05" stroke="#000" stroke-width="0.85" />
<line x1="672.4" y1="548.05" x2="668.1" y2="548.05" stroke="#000" stroke-width="0.85" />
<line x1="387" y1="544.12" x2="391.3" y2="544.12" stroke="#000" stroke-width="0.85" />
<line x1="672.4" y1="544.12" x2="668.1" y2="544.12" stroke="#000" stroke-width="0.85" />
<line x1="387" y1="540.19" x2="391.3" y2="540.19" stroke="#000" stroke-width="0.85" />
<line x1="672.4" y1="540.19" x2="668.1" y2="540.19" stroke="#000" stroke-width="0.85" />
<line x1="387" y1="536.25" x2="395.5" y2="536.25" stroke="#000" stroke-width="0.85" />
<line x1="672.4" y1="536.25" x2="663.9" y2="536.25" stroke="#000" stroke-width="0.85" />
<line x1="387" y1="532.32" x2="391.3" y2="532.32" stroke="#000" stroke-width="0.85" />
<line x1="672.4" y1="532.32" x2="668.1" y2="532.32" stroke="#000" stroke-width="0.85" />
<line x1="387" y1="528.39" x2="391.3" y2="528.39" stroke="#000" stroke-width="0.85" />
<line x1="672.4" y1="528.39" x2="668.1" y2="528.39" stroke="#000" stroke-width="0.85" />
<line x1="387" y1="524.46" x2="391.3" y2="524.46" stroke="#000" stroke-width="0.85" />
<line x1="672.4" y1="524.46" x2="668.1" y2="524.46" stroke="#000" stroke-width="0.85" />
<line x1="387" y1="520.53" x2="391.3" y2="520.53" stroke="#000" stroke-width="0.85" />
<line x1="672.4" y1="520.53" x2="668.1" y2="520.53" stroke="#000" stroke-width="0.85" />
<line x1="387" y1="516.6" x2="395.5" y2="516.6" stroke="#000" stroke-width="0.85" />
<line x1="672.4" y1="516.6" x2="663.9" y2="516.6" stroke="#000" stroke-width="0.85" />
<line x1="387" y1="512.67" x2="391.3" y2="512.67" stroke="#000" stroke-width="0.85" />
<line x1="672.4" y1="512.67" x2="668.1" y2="512.67" stroke="#000" stroke-width="0.85" />
<text transform="translate(383 658.8) scale(1 0.94)" font-size="10" text-anchor="end" >0</text>
<text transform="translate(383 639.14) scale(1 0.94)" font-size="10" text-anchor="end" >20</text>
<text transform="translate(383 619.48) scale(1 0.94)" font-size="10" text-anchor="end" >40</text>
<text transform="translate(383 599.83) scale(1 0.94)" font-size="10" text-anchor="end" >60</text>
<text transform="translate(383 580.17) scale(1 0.94)" font-size="10" text-anchor="end" >80</text>
<text transform="translate(383 560.51) scale(1 0.94)" font-size="10" text-anchor="end" >100</text>
<text transform="translate(383 540.85) scale(1 0.94)" font-size="10" text-anchor="end" >120</text>
<text transform="translate(383 521.2) scale(1 0.94)" font-size="10" text-anchor="end" >140</text>
<text transform="translate(386.5 509.2) scale(1 1)" font-size="10.3" text-anchor="start" >&#215;10</text>
<text transform="translate(404 504.5) scale(1 1)" font-size="6.4" text-anchor="start" >3</text>
<line x1="387" y1="691.12" x2="389" y2="691.12" stroke="#000" stroke-width="0.85" />
<line x1="672.4" y1="691.12" x2="670.4" y2="691.12" stroke="#000" stroke-width="0.85" />
<line x1="387" y1="689.18" x2="389" y2="689.18" stroke="#000" stroke-width="0.85" />
<line x1="672.4" y1="689.18" x2="670.4" y2="689.18" stroke="#000" stroke-width="0.85" />
<line x1="387" y1="687.24" x2="389" y2="687.24" stroke="#000" stroke-width="0.85" />
<line x1="672.4" y1="687.24" x2="670.4" y2="687.24" stroke="#000" stroke-width="0.85" />
<line x1="387" y1="685.3" x2="390.8" y2="685.3" stroke="#000" stroke-width="0.85" />
<line x1="672.4" y1="685.3" x2="668.6" y2="685.3" stroke="#000" stroke-width="0.85" />
<line x1="387" y1="683.36" x2="389" y2="683.36" stroke="#000" stroke-width="0.85" />
<line x1="672.4" y1="683.36" x2="670.4" y2="683.36" stroke="#000" stroke-width="0.85" />
<line x1="387" y1="681.42" x2="389" y2="681.42" stroke="#000" stroke-width="0.85" />
<line x1="672.4" y1="681.42" x2="670.4" y2="681.42" stroke="#000" stroke-width="0.85" />
<line x1="387" y1="679.48" x2="389" y2="679.48" stroke="#000" stroke-width="0.85" />
<line x1="672.4" y1="679.48" x2="670.4" y2="679.48" stroke="#000" stroke-width="0.85" />
<line x1="387" y1="677.54" x2="389" y2="677.54" stroke="#000" stroke-width="0.85" />
<line x1="672.4" y1="677.54" x2="670.4" y2="677.54" stroke="#000" stroke-width="0.85" />
<line x1="387" y1="675.6" x2="390.8" y2="675.6" stroke="#000" stroke-width="0.85" />
<line x1="672.4" y1="675.6" x2="668.6" y2="675.6" stroke="#000" stroke-width="0.85" />
<line x1="387" y1="673.66" x2="389" y2="673.66" stroke="#000" stroke-width="0.85" />
<line x1="672.4" y1="673.66" x2="670.4" y2="673.66" stroke="#000" stroke-width="0.85" />
<line x1="387" y1="671.72" x2="389" y2="671.72" stroke="#000" stroke-width="0.85" />
<line x1="672.4" y1="671.72" x2="670.4" y2="671.72" stroke="#000" stroke-width="0.85" />
<line x1="387" y1="669.78" x2="389" y2="669.78" stroke="#000" stroke-width="0.85" />
<line x1="672.4" y1="669.78" x2="670.4" y2="669.78" stroke="#000" stroke-width="0.85" />
<line x1="387" y1="667.84" x2="389" y2="667.84" stroke="#000" stroke-width="0.85" />
<line x1="672.4" y1="667.84" x2="670.4" y2="667.84" stroke="#000" stroke-width="0.85" />
<line x1="387" y1="665.9" x2="390.8" y2="665.9" stroke="#000" stroke-width="0.85" />
<line x1="672.4" y1="665.9" x2="668.6" y2="665.9" stroke="#000" stroke-width="0.85" />
<line x1="387" y1="663.96" x2="389" y2="663.96" stroke="#000" stroke-width="0.85" />
<line x1="672.4" y1="663.96" x2="670.4" y2="663.96" stroke="#000" stroke-width="0.85" />
<line x1="387" y1="662.02" x2="389" y2="662.02" stroke="#000" stroke-width="0.85" />
<line x1="672.4" y1="662.02" x2="670.4" y2="662.02" stroke="#000" stroke-width="0.85" />
<line x1="387" y1="660.08" x2="389" y2="660.08" stroke="#000" stroke-width="0.85" />
<line x1="672.4" y1="660.08" x2="670.4" y2="660.08" stroke="#000" stroke-width="0.85" />
<text transform="translate(383.5 670.5) scale(1 0.94)" font-size="10" text-anchor="end" >1.05</text>
<text transform="translate(383.5 680.2) scale(1 0.94)" font-size="10" text-anchor="end" >1</text>
<text transform="translate(383.5 689.9) scale(1 0.94)" font-size="10" text-anchor="end" >0.95</text>
<text transform="translate(358.3 510.7) rotate(-90) scale(1 0.96)" font-size="10.2" text-anchor="end">Events / 0.3</text>
<text transform="translate(361 675) rotate(-90)" font-size="6.5" text-anchor="middle">Data / Pred.</text>
<text transform="translate(398.1 521.2) scale(1 0.9)" font-size="10.4" text-anchor="start" font-weight="bold" font-style="italic">ATLAS</text>
<path d="M399.9 527.5 L399.9 532.7" stroke="#000" stroke-width="1.3" fill="none"/>
<path d="M400.3 532.5 L401.6 523.8 L408 523.8" stroke="#000" stroke-width="0.9" fill="none"/>
<text transform="translate(402.6 532) scale(1 1)" font-size="10" text-anchor="start" >s= 8 TeV, <tspan dx="0">20.3 fb</tspan><tspan font-size="6.5" dy="-3.5">-1</tspan></text>
<text transform="translate(396.9 544) scale(1 1)" font-size="10" text-anchor="start" >&#8805; 2 b-tags</text>
<text transform="translate(589.4 528) scale(1 1)" font-size="10.3" text-anchor="start" >l+jets</text>
<line x1="590.6" y1="537.3" x2="608.4" y2="537.3" stroke="#000" stroke-width="1" />
<circle cx="599.5" cy="537.3" r="2.1" fill="#000"/>
<line x1="599.5" y1="534.3" x2="599.5" y2="540.3" stroke="#000" stroke-width="1" />
<text transform="translate(612 541.1) scale(1 1)" font-size="10.3" text-anchor="start" >Data</text>
<rect x="590.6" y="546" width="17.8" height="8.5" fill="#fff" stroke="#000" stroke-width="1" />
<text transform="translate(612 553.6) scale(1 1)" font-size="10.3" text-anchor="start" >t<tspan>t&#772;</tspan></text>
<rect x="590.6" y="558.4" width="17.8" height="8.5" fill="#ffbf00" stroke="#000" stroke-width="1" />
<text transform="translate(612 566) scale(1 1)" font-size="10.3" text-anchor="start" >W+jets</text>
<rect x="590.6" y="570.7" width="17.8" height="8.5" fill="#006eff" stroke="#000" stroke-width="1" />
<text transform="translate(612 578.3) scale(1 1)" font-size="10.3" text-anchor="start" >Others</text>
<rect x="590.6" y="584.3" width="17.8" height="7" fill="url(#hatch)" stroke="none" stroke-width="0" />
<text transform="translate(612 590.8) scale(1 1)" font-size="10.3" text-anchor="start" >Tot. Unc.</text>
<text transform="translate(672.6 722.4) scale(1 0.96)" font-size="13.4" text-anchor="end">&#946;<tspan font-size="9" dy="9.0">z,tt&#772;</tspan></text>
</g>
</svg>
</body></html>
